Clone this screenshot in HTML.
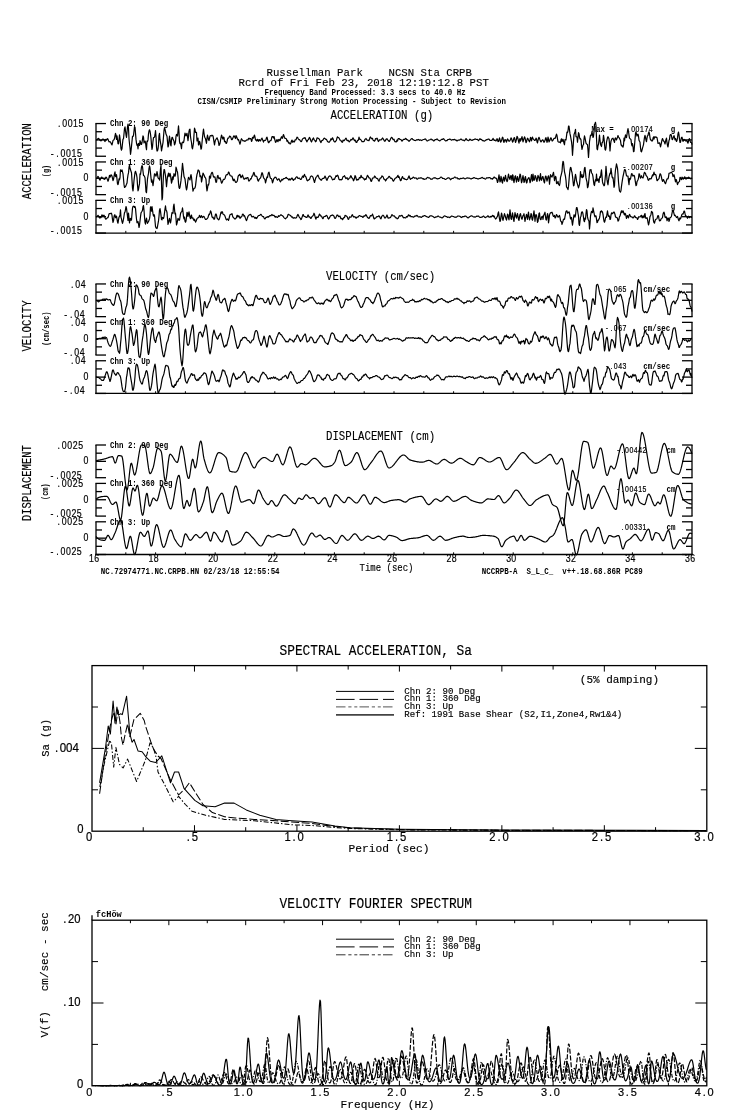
<!DOCTYPE html>
<html><head><meta charset="utf-8"><title>Russellman Park CRPB</title>
<style>
html,body{margin:0;padding:0;background:#fff;}
body{width:739px;height:1115px;overflow:hidden;}
svg{display:block;font-family:'Liberation Mono', 'DejaVu Sans Mono', monospace;}
text{white-space:pre;}
</style></head>
<body>
<svg width="739" height="1115" viewBox="0 0 739 1115">
<rect width="739" height="1115" fill="#fff"/>
<text x="266.50" y="76.00" font-size="11.68" textLength="205.44" lengthAdjust="spacingAndGlyphs" stroke="#000" stroke-width="0.12">Russellman Park    NCSN Sta CRPB</text>
<text x="238.50" y="85.80" font-size="11.68" textLength="250.38" lengthAdjust="spacingAndGlyphs" stroke="#000" stroke-width="0.12">Rcrd of Fri Feb 23, 2018 12:19:12.8 PST</text>
<text x="264.50" y="94.50" font-size="8.50" font-weight="bold" textLength="201.15" lengthAdjust="spacingAndGlyphs">Frequency Band Processed: 3.3 secs to 40.0 Hz</text>
<text x="197.50" y="103.50" font-size="8.50" font-weight="bold" textLength="308.43" lengthAdjust="spacingAndGlyphs">CISN/CSMIP Preliminary Strong Motion Processing - Subject to Revision</text>
<text x="330.50" y="118.50" font-size="12.29" textLength="102.72" lengthAdjust="spacingAndGlyphs" stroke="#000" stroke-width="0.12">ACCELERATION (g)</text>
<text x="31.30" y="199.20" font-size="12.14" textLength="76.15" lengthAdjust="spacingAndGlyphs" transform="rotate(-90 31.30 199.20)" stroke="#000" stroke-width="0.15">ACCELERATION</text>
<text x="48.60" y="177.20" font-size="8.65" font-weight="bold" textLength="12.31" lengthAdjust="spacingAndGlyphs" transform="rotate(-90 48.60 177.20)">(g)</text>
<line x1="96.00" y1="123.55" x2="96.00" y2="156.25" stroke="#000" stroke-width="1.3"/>
<line x1="95.40" y1="123.55" x2="106.00" y2="123.55" stroke="#000" stroke-width="1.3"/>
<line x1="95.40" y1="156.25" x2="106.00" y2="156.25" stroke="#000" stroke-width="1.3"/>
<line x1="96.00" y1="139.90" x2="106.00" y2="139.90" stroke="#000" stroke-width="1.3"/>
<line x1="96.00" y1="131.72" x2="102.00" y2="131.72" stroke="#000" stroke-width="1.3"/>
<line x1="96.00" y1="148.07" x2="102.00" y2="148.07" stroke="#000" stroke-width="1.3"/>
<line x1="692.00" y1="123.55" x2="692.00" y2="156.25" stroke="#000" stroke-width="1.3"/>
<line x1="692.60" y1="123.55" x2="682.00" y2="123.55" stroke="#000" stroke-width="1.3"/>
<line x1="692.60" y1="156.25" x2="682.00" y2="156.25" stroke="#000" stroke-width="1.3"/>
<line x1="692.00" y1="139.90" x2="682.00" y2="139.90" stroke="#000" stroke-width="1.3"/>
<line x1="692.00" y1="131.72" x2="686.00" y2="131.72" stroke="#000" stroke-width="1.3"/>
<line x1="692.00" y1="148.07" x2="686.00" y2="148.07" stroke="#000" stroke-width="1.3"/>
<text x="70.70 75.85 82.50 89.15 95.79" y="127.20" font-size="10.73" font-family="&apos;Liberation Sans&apos;, &apos;DejaVu Sans&apos;, sans-serif" transform="scale(0.82 1)" stroke="#000" stroke-width="0.2">.0015</text>
<text x="101.89" y="142.80" font-size="10.73" font-family="&apos;Liberation Sans&apos;, &apos;DejaVu Sans&apos;, sans-serif" transform="scale(0.82 1)" stroke="#000" stroke-width="0.2">0</text>
<text x="61.81 68.75 73.90 80.55 87.20 93.84" y="157.20" font-size="10.73" font-family="&apos;Liberation Sans&apos;, &apos;DejaVu Sans&apos;, sans-serif" transform="scale(0.82 1)" stroke="#000" stroke-width="0.2">-.0015</text>
<text x="110.00" y="126.45" font-size="8.50" font-weight="bold" textLength="58.11" lengthAdjust="spacingAndGlyphs">Chn 2: 90 Deg</text>
<text x="591.50" y="131.95" font-size="8.50" font-weight="bold" textLength="22.35" lengthAdjust="spacingAndGlyphs">Max =</text>
<text x="765.60 769.79 775.16 780.52 785.89 791.26" y="131.95" font-size="8.47" font-family="&apos;Liberation Sans&apos;, &apos;DejaVu Sans&apos;, sans-serif" transform="scale(0.82 1)" stroke="#000" stroke-width="0.2">.00174</text>
<text x="670.80" y="131.95" font-size="8.50" font-weight="bold" textLength="4.47" lengthAdjust="spacingAndGlyphs">g</text>
<line x1="96.00" y1="161.95" x2="96.00" y2="194.65" stroke="#000" stroke-width="1.3"/>
<line x1="95.40" y1="161.95" x2="106.00" y2="161.95" stroke="#000" stroke-width="1.3"/>
<line x1="95.40" y1="194.65" x2="106.00" y2="194.65" stroke="#000" stroke-width="1.3"/>
<line x1="96.00" y1="178.30" x2="106.00" y2="178.30" stroke="#000" stroke-width="1.3"/>
<line x1="96.00" y1="170.12" x2="102.00" y2="170.12" stroke="#000" stroke-width="1.3"/>
<line x1="96.00" y1="186.47" x2="102.00" y2="186.47" stroke="#000" stroke-width="1.3"/>
<line x1="692.00" y1="161.95" x2="692.00" y2="194.65" stroke="#000" stroke-width="1.3"/>
<line x1="692.60" y1="161.95" x2="682.00" y2="161.95" stroke="#000" stroke-width="1.3"/>
<line x1="692.60" y1="194.65" x2="682.00" y2="194.65" stroke="#000" stroke-width="1.3"/>
<line x1="692.00" y1="178.30" x2="682.00" y2="178.30" stroke="#000" stroke-width="1.3"/>
<line x1="692.00" y1="170.12" x2="686.00" y2="170.12" stroke="#000" stroke-width="1.3"/>
<line x1="692.00" y1="186.47" x2="686.00" y2="186.47" stroke="#000" stroke-width="1.3"/>
<text x="70.70 75.85 82.50 89.15 95.79" y="165.60" font-size="10.73" font-family="&apos;Liberation Sans&apos;, &apos;DejaVu Sans&apos;, sans-serif" transform="scale(0.82 1)" stroke="#000" stroke-width="0.2">.0015</text>
<text x="101.89" y="181.20" font-size="10.73" font-family="&apos;Liberation Sans&apos;, &apos;DejaVu Sans&apos;, sans-serif" transform="scale(0.82 1)" stroke="#000" stroke-width="0.2">0</text>
<text x="61.81 68.75 73.90 80.55 87.20 93.84" y="195.60" font-size="10.73" font-family="&apos;Liberation Sans&apos;, &apos;DejaVu Sans&apos;, sans-serif" transform="scale(0.82 1)" stroke="#000" stroke-width="0.2">-.0015</text>
<text x="110.00" y="164.85" font-size="8.50" font-weight="bold" textLength="62.58" lengthAdjust="spacingAndGlyphs">Chn 1: 360 Deg</text>
<text x="760.01 765.60 769.79 775.16 780.52 785.89 791.26" y="170.35" font-size="8.47" font-family="&apos;Liberation Sans&apos;, &apos;DejaVu Sans&apos;, sans-serif" transform="scale(0.82 1)" stroke="#000" stroke-width="0.2">-.00207</text>
<text x="670.80" y="170.35" font-size="8.50" font-weight="bold" textLength="4.47" lengthAdjust="spacingAndGlyphs">g</text>
<line x1="96.00" y1="200.35" x2="96.00" y2="233.05" stroke="#000" stroke-width="1.3"/>
<line x1="95.40" y1="200.35" x2="106.00" y2="200.35" stroke="#000" stroke-width="1.3"/>
<line x1="95.40" y1="233.05" x2="106.00" y2="233.05" stroke="#000" stroke-width="1.3"/>
<line x1="96.00" y1="216.70" x2="106.00" y2="216.70" stroke="#000" stroke-width="1.3"/>
<line x1="96.00" y1="208.53" x2="102.00" y2="208.53" stroke="#000" stroke-width="1.3"/>
<line x1="96.00" y1="224.88" x2="102.00" y2="224.88" stroke="#000" stroke-width="1.3"/>
<line x1="692.00" y1="200.35" x2="692.00" y2="233.05" stroke="#000" stroke-width="1.3"/>
<line x1="692.60" y1="200.35" x2="682.00" y2="200.35" stroke="#000" stroke-width="1.3"/>
<line x1="692.60" y1="233.05" x2="682.00" y2="233.05" stroke="#000" stroke-width="1.3"/>
<line x1="692.00" y1="216.70" x2="682.00" y2="216.70" stroke="#000" stroke-width="1.3"/>
<line x1="692.00" y1="208.53" x2="686.00" y2="208.53" stroke="#000" stroke-width="1.3"/>
<line x1="692.00" y1="224.88" x2="686.00" y2="224.88" stroke="#000" stroke-width="1.3"/>
<text x="70.70 75.85 82.50 89.15 95.79" y="204.00" font-size="10.73" font-family="&apos;Liberation Sans&apos;, &apos;DejaVu Sans&apos;, sans-serif" transform="scale(0.82 1)" stroke="#000" stroke-width="0.2">.0015</text>
<text x="101.89" y="219.60" font-size="10.73" font-family="&apos;Liberation Sans&apos;, &apos;DejaVu Sans&apos;, sans-serif" transform="scale(0.82 1)" stroke="#000" stroke-width="0.2">0</text>
<text x="61.81 68.75 73.90 80.55 87.20 93.84" y="234.00" font-size="10.73" font-family="&apos;Liberation Sans&apos;, &apos;DejaVu Sans&apos;, sans-serif" transform="scale(0.82 1)" stroke="#000" stroke-width="0.2">-.0015</text>
<text x="110.00" y="203.25" font-size="8.50" font-weight="bold" textLength="40.23" lengthAdjust="spacingAndGlyphs">Chn 3: Up</text>
<text x="765.60 769.79 775.16 780.52 785.89 791.26" y="208.75" font-size="8.47" font-family="&apos;Liberation Sans&apos;, &apos;DejaVu Sans&apos;, sans-serif" transform="scale(0.82 1)" stroke="#000" stroke-width="0.2">.00136</text>
<text x="670.80" y="208.75" font-size="8.50" font-weight="bold" textLength="4.47" lengthAdjust="spacingAndGlyphs">g</text>
<line x1="95.40" y1="233.05" x2="692.60" y2="233.05" stroke="#000" stroke-width="1.3"/>
<line x1="125.80" y1="233.05" x2="125.80" y2="230.85" stroke="#000" stroke-width="1.0"/>
<line x1="155.60" y1="233.05" x2="155.60" y2="230.85" stroke="#000" stroke-width="1.0"/>
<line x1="185.40" y1="233.05" x2="185.40" y2="230.85" stroke="#000" stroke-width="1.0"/>
<line x1="215.20" y1="233.05" x2="215.20" y2="230.85" stroke="#000" stroke-width="1.0"/>
<line x1="245.00" y1="233.05" x2="245.00" y2="230.85" stroke="#000" stroke-width="1.0"/>
<line x1="274.80" y1="233.05" x2="274.80" y2="230.85" stroke="#000" stroke-width="1.0"/>
<line x1="304.60" y1="233.05" x2="304.60" y2="230.85" stroke="#000" stroke-width="1.0"/>
<line x1="334.40" y1="233.05" x2="334.40" y2="230.85" stroke="#000" stroke-width="1.0"/>
<line x1="364.20" y1="233.05" x2="364.20" y2="230.85" stroke="#000" stroke-width="1.0"/>
<line x1="394.00" y1="233.05" x2="394.00" y2="230.85" stroke="#000" stroke-width="1.0"/>
<line x1="423.80" y1="233.05" x2="423.80" y2="230.85" stroke="#000" stroke-width="1.0"/>
<line x1="453.60" y1="233.05" x2="453.60" y2="230.85" stroke="#000" stroke-width="1.0"/>
<line x1="483.40" y1="233.05" x2="483.40" y2="230.85" stroke="#000" stroke-width="1.0"/>
<line x1="513.20" y1="233.05" x2="513.20" y2="230.85" stroke="#000" stroke-width="1.0"/>
<line x1="543.00" y1="233.05" x2="543.00" y2="230.85" stroke="#000" stroke-width="1.0"/>
<line x1="572.80" y1="233.05" x2="572.80" y2="230.85" stroke="#000" stroke-width="1.0"/>
<line x1="602.60" y1="233.05" x2="602.60" y2="230.85" stroke="#000" stroke-width="1.0"/>
<line x1="632.40" y1="233.05" x2="632.40" y2="230.85" stroke="#000" stroke-width="1.0"/>
<line x1="662.20" y1="233.05" x2="662.20" y2="230.85" stroke="#000" stroke-width="1.0"/>
<text x="326.00" y="280.00" font-size="12.29" textLength="109.14" lengthAdjust="spacingAndGlyphs" stroke="#000" stroke-width="0.12">VELOCITY (cm/sec)</text>
<text x="30.80" y="351.60" font-size="12.14" textLength="51.26" lengthAdjust="spacingAndGlyphs" transform="rotate(-90 30.80 351.60)" stroke="#000" stroke-width="0.15">VELOCITY</text>
<text x="48.60" y="345.90" font-size="8.65" font-weight="bold" textLength="34.53" lengthAdjust="spacingAndGlyphs" transform="rotate(-90 48.60 345.90)">(cm/sec)</text>
<line x1="96.00" y1="283.95" x2="96.00" y2="316.65" stroke="#000" stroke-width="1.3"/>
<line x1="95.40" y1="283.95" x2="106.00" y2="283.95" stroke="#000" stroke-width="1.3"/>
<line x1="95.40" y1="316.65" x2="106.00" y2="316.65" stroke="#000" stroke-width="1.3"/>
<line x1="96.00" y1="300.30" x2="106.00" y2="300.30" stroke="#000" stroke-width="1.3"/>
<line x1="96.00" y1="292.12" x2="102.00" y2="292.12" stroke="#000" stroke-width="1.3"/>
<line x1="96.00" y1="308.47" x2="102.00" y2="308.47" stroke="#000" stroke-width="1.3"/>
<line x1="692.00" y1="283.95" x2="692.00" y2="316.65" stroke="#000" stroke-width="1.3"/>
<line x1="692.60" y1="283.95" x2="682.00" y2="283.95" stroke="#000" stroke-width="1.3"/>
<line x1="692.60" y1="316.65" x2="682.00" y2="316.65" stroke="#000" stroke-width="1.3"/>
<line x1="692.00" y1="300.30" x2="682.00" y2="300.30" stroke="#000" stroke-width="1.3"/>
<line x1="692.00" y1="292.12" x2="686.00" y2="292.12" stroke="#000" stroke-width="1.3"/>
<line x1="692.00" y1="308.47" x2="686.00" y2="308.47" stroke="#000" stroke-width="1.3"/>
<text x="86.55 91.71 98.35" y="287.60" font-size="10.73" font-family="&apos;Liberation Sans&apos;, &apos;DejaVu Sans&apos;, sans-serif" transform="scale(0.82 1)" stroke="#000" stroke-width="0.2">.04</text>
<text x="101.89" y="303.20" font-size="10.73" font-family="&apos;Liberation Sans&apos;, &apos;DejaVu Sans&apos;, sans-serif" transform="scale(0.82 1)" stroke="#000" stroke-width="0.2">0</text>
<text x="78.39 85.33 90.49 97.13" y="317.60" font-size="10.73" font-family="&apos;Liberation Sans&apos;, &apos;DejaVu Sans&apos;, sans-serif" transform="scale(0.82 1)" stroke="#000" stroke-width="0.2">-.04</text>
<text x="110.00" y="286.85" font-size="8.50" font-weight="bold" textLength="58.11" lengthAdjust="spacingAndGlyphs">Chn 2: 90 Deg</text>
<text x="738.79 744.38 748.57 753.94 759.30" y="292.35" font-size="8.47" font-family="&apos;Liberation Sans&apos;, &apos;DejaVu Sans&apos;, sans-serif" transform="scale(0.82 1)" stroke="#000" stroke-width="0.2">-.065</text>
<text x="643.30" y="292.35" font-size="8.50" font-weight="bold" textLength="26.82" lengthAdjust="spacingAndGlyphs">cm/sec</text>
<line x1="96.00" y1="322.35" x2="96.00" y2="355.05" stroke="#000" stroke-width="1.3"/>
<line x1="95.40" y1="322.35" x2="106.00" y2="322.35" stroke="#000" stroke-width="1.3"/>
<line x1="95.40" y1="355.05" x2="106.00" y2="355.05" stroke="#000" stroke-width="1.3"/>
<line x1="96.00" y1="338.70" x2="106.00" y2="338.70" stroke="#000" stroke-width="1.3"/>
<line x1="96.00" y1="330.52" x2="102.00" y2="330.52" stroke="#000" stroke-width="1.3"/>
<line x1="96.00" y1="346.87" x2="102.00" y2="346.87" stroke="#000" stroke-width="1.3"/>
<line x1="692.00" y1="322.35" x2="692.00" y2="355.05" stroke="#000" stroke-width="1.3"/>
<line x1="692.60" y1="322.35" x2="682.00" y2="322.35" stroke="#000" stroke-width="1.3"/>
<line x1="692.60" y1="355.05" x2="682.00" y2="355.05" stroke="#000" stroke-width="1.3"/>
<line x1="692.00" y1="338.70" x2="682.00" y2="338.70" stroke="#000" stroke-width="1.3"/>
<line x1="692.00" y1="330.52" x2="686.00" y2="330.52" stroke="#000" stroke-width="1.3"/>
<line x1="692.00" y1="346.87" x2="686.00" y2="346.87" stroke="#000" stroke-width="1.3"/>
<text x="86.55 91.71 98.35" y="326.00" font-size="10.73" font-family="&apos;Liberation Sans&apos;, &apos;DejaVu Sans&apos;, sans-serif" transform="scale(0.82 1)" stroke="#000" stroke-width="0.2">.04</text>
<text x="101.89" y="341.60" font-size="10.73" font-family="&apos;Liberation Sans&apos;, &apos;DejaVu Sans&apos;, sans-serif" transform="scale(0.82 1)" stroke="#000" stroke-width="0.2">0</text>
<text x="78.39 85.33 90.49 97.13" y="356.00" font-size="10.73" font-family="&apos;Liberation Sans&apos;, &apos;DejaVu Sans&apos;, sans-serif" transform="scale(0.82 1)" stroke="#000" stroke-width="0.2">-.04</text>
<text x="110.00" y="325.25" font-size="8.50" font-weight="bold" textLength="62.58" lengthAdjust="spacingAndGlyphs">Chn 1: 360 Deg</text>
<text x="738.79 744.38 748.57 753.94 759.30" y="330.75" font-size="8.47" font-family="&apos;Liberation Sans&apos;, &apos;DejaVu Sans&apos;, sans-serif" transform="scale(0.82 1)" stroke="#000" stroke-width="0.2">-.067</text>
<text x="643.30" y="330.75" font-size="8.50" font-weight="bold" textLength="26.82" lengthAdjust="spacingAndGlyphs">cm/sec</text>
<line x1="96.00" y1="360.75" x2="96.00" y2="393.45" stroke="#000" stroke-width="1.3"/>
<line x1="95.40" y1="360.75" x2="106.00" y2="360.75" stroke="#000" stroke-width="1.3"/>
<line x1="95.40" y1="393.45" x2="106.00" y2="393.45" stroke="#000" stroke-width="1.3"/>
<line x1="96.00" y1="377.10" x2="106.00" y2="377.10" stroke="#000" stroke-width="1.3"/>
<line x1="96.00" y1="368.93" x2="102.00" y2="368.93" stroke="#000" stroke-width="1.3"/>
<line x1="96.00" y1="385.27" x2="102.00" y2="385.27" stroke="#000" stroke-width="1.3"/>
<line x1="692.00" y1="360.75" x2="692.00" y2="393.45" stroke="#000" stroke-width="1.3"/>
<line x1="692.60" y1="360.75" x2="682.00" y2="360.75" stroke="#000" stroke-width="1.3"/>
<line x1="692.60" y1="393.45" x2="682.00" y2="393.45" stroke="#000" stroke-width="1.3"/>
<line x1="692.00" y1="377.10" x2="682.00" y2="377.10" stroke="#000" stroke-width="1.3"/>
<line x1="692.00" y1="368.93" x2="686.00" y2="368.93" stroke="#000" stroke-width="1.3"/>
<line x1="692.00" y1="385.27" x2="686.00" y2="385.27" stroke="#000" stroke-width="1.3"/>
<text x="86.55 91.71 98.35" y="364.40" font-size="10.73" font-family="&apos;Liberation Sans&apos;, &apos;DejaVu Sans&apos;, sans-serif" transform="scale(0.82 1)" stroke="#000" stroke-width="0.2">.04</text>
<text x="101.89" y="380.00" font-size="10.73" font-family="&apos;Liberation Sans&apos;, &apos;DejaVu Sans&apos;, sans-serif" transform="scale(0.82 1)" stroke="#000" stroke-width="0.2">0</text>
<text x="78.39 85.33 90.49 97.13" y="394.40" font-size="10.73" font-family="&apos;Liberation Sans&apos;, &apos;DejaVu Sans&apos;, sans-serif" transform="scale(0.82 1)" stroke="#000" stroke-width="0.2">-.04</text>
<text x="110.00" y="363.65" font-size="8.50" font-weight="bold" textLength="40.23" lengthAdjust="spacingAndGlyphs">Chn 3: Up</text>
<text x="738.79 744.38 748.57 753.94 759.30" y="369.15" font-size="8.47" font-family="&apos;Liberation Sans&apos;, &apos;DejaVu Sans&apos;, sans-serif" transform="scale(0.82 1)" stroke="#000" stroke-width="0.2">-.043</text>
<text x="643.30" y="369.15" font-size="8.50" font-weight="bold" textLength="26.82" lengthAdjust="spacingAndGlyphs">cm/sec</text>
<line x1="95.40" y1="393.45" x2="692.60" y2="393.45" stroke="#000" stroke-width="1.3"/>
<line x1="125.80" y1="393.45" x2="125.80" y2="391.25" stroke="#000" stroke-width="1.0"/>
<line x1="155.60" y1="393.45" x2="155.60" y2="391.25" stroke="#000" stroke-width="1.0"/>
<line x1="185.40" y1="393.45" x2="185.40" y2="391.25" stroke="#000" stroke-width="1.0"/>
<line x1="215.20" y1="393.45" x2="215.20" y2="391.25" stroke="#000" stroke-width="1.0"/>
<line x1="245.00" y1="393.45" x2="245.00" y2="391.25" stroke="#000" stroke-width="1.0"/>
<line x1="274.80" y1="393.45" x2="274.80" y2="391.25" stroke="#000" stroke-width="1.0"/>
<line x1="304.60" y1="393.45" x2="304.60" y2="391.25" stroke="#000" stroke-width="1.0"/>
<line x1="334.40" y1="393.45" x2="334.40" y2="391.25" stroke="#000" stroke-width="1.0"/>
<line x1="364.20" y1="393.45" x2="364.20" y2="391.25" stroke="#000" stroke-width="1.0"/>
<line x1="394.00" y1="393.45" x2="394.00" y2="391.25" stroke="#000" stroke-width="1.0"/>
<line x1="423.80" y1="393.45" x2="423.80" y2="391.25" stroke="#000" stroke-width="1.0"/>
<line x1="453.60" y1="393.45" x2="453.60" y2="391.25" stroke="#000" stroke-width="1.0"/>
<line x1="483.40" y1="393.45" x2="483.40" y2="391.25" stroke="#000" stroke-width="1.0"/>
<line x1="513.20" y1="393.45" x2="513.20" y2="391.25" stroke="#000" stroke-width="1.0"/>
<line x1="543.00" y1="393.45" x2="543.00" y2="391.25" stroke="#000" stroke-width="1.0"/>
<line x1="572.80" y1="393.45" x2="572.80" y2="391.25" stroke="#000" stroke-width="1.0"/>
<line x1="602.60" y1="393.45" x2="602.60" y2="391.25" stroke="#000" stroke-width="1.0"/>
<line x1="632.40" y1="393.45" x2="632.40" y2="391.25" stroke="#000" stroke-width="1.0"/>
<line x1="662.20" y1="393.45" x2="662.20" y2="391.25" stroke="#000" stroke-width="1.0"/>
<text x="326.00" y="440.40" font-size="12.29" textLength="109.14" lengthAdjust="spacingAndGlyphs" stroke="#000" stroke-width="0.12">DISPLACEMENT (cm)</text>
<text x="30.80" y="521.10" font-size="12.14" textLength="76.05" lengthAdjust="spacingAndGlyphs" transform="rotate(-90 30.80 521.10)" stroke="#000" stroke-width="0.15">DISPLACEMENT</text>
<text x="48.40" y="500.00" font-size="8.65" font-weight="bold" textLength="16.62" lengthAdjust="spacingAndGlyphs" transform="rotate(-90 48.40 500.00)">(cm)</text>
<line x1="96.00" y1="445.00" x2="96.00" y2="477.70" stroke="#000" stroke-width="1.3"/>
<line x1="95.40" y1="445.00" x2="106.00" y2="445.00" stroke="#000" stroke-width="1.3"/>
<line x1="95.40" y1="477.70" x2="106.00" y2="477.70" stroke="#000" stroke-width="1.3"/>
<line x1="96.00" y1="461.35" x2="106.00" y2="461.35" stroke="#000" stroke-width="1.3"/>
<line x1="96.00" y1="453.18" x2="102.00" y2="453.18" stroke="#000" stroke-width="1.3"/>
<line x1="96.00" y1="469.52" x2="102.00" y2="469.52" stroke="#000" stroke-width="1.3"/>
<line x1="692.00" y1="445.00" x2="692.00" y2="477.70" stroke="#000" stroke-width="1.3"/>
<line x1="692.60" y1="445.00" x2="682.00" y2="445.00" stroke="#000" stroke-width="1.3"/>
<line x1="692.60" y1="477.70" x2="682.00" y2="477.70" stroke="#000" stroke-width="1.3"/>
<line x1="692.00" y1="461.35" x2="682.00" y2="461.35" stroke="#000" stroke-width="1.3"/>
<line x1="692.00" y1="453.18" x2="686.00" y2="453.18" stroke="#000" stroke-width="1.3"/>
<line x1="692.00" y1="469.52" x2="686.00" y2="469.52" stroke="#000" stroke-width="1.3"/>
<text x="70.21 75.37 82.01 88.66 95.31" y="448.65" font-size="10.73" font-family="&apos;Liberation Sans&apos;, &apos;DejaVu Sans&apos;, sans-serif" transform="scale(0.82 1)" stroke="#000" stroke-width="0.2">.0025</text>
<text x="101.89" y="464.25" font-size="10.73" font-family="&apos;Liberation Sans&apos;, &apos;DejaVu Sans&apos;, sans-serif" transform="scale(0.82 1)" stroke="#000" stroke-width="0.2">0</text>
<text x="61.69 68.63 73.78 80.43 87.07 93.72" y="478.65" font-size="10.73" font-family="&apos;Liberation Sans&apos;, &apos;DejaVu Sans&apos;, sans-serif" transform="scale(0.82 1)" stroke="#000" stroke-width="0.2">-.0025</text>
<text x="110.00" y="447.90" font-size="8.50" font-weight="bold" textLength="58.11" lengthAdjust="spacingAndGlyphs">Chn 2: 90 Deg</text>
<text x="752.44 758.04 762.23 767.60 772.96 778.33 783.69" y="453.40" font-size="8.47" font-family="&apos;Liberation Sans&apos;, &apos;DejaVu Sans&apos;, sans-serif" transform="scale(0.82 1)" stroke="#000" stroke-width="0.2">-.00442</text>
<text x="666.50" y="453.40" font-size="8.50" font-weight="bold" textLength="8.94" lengthAdjust="spacingAndGlyphs">cm</text>
<line x1="96.00" y1="483.40" x2="96.00" y2="516.10" stroke="#000" stroke-width="1.3"/>
<line x1="95.40" y1="483.40" x2="106.00" y2="483.40" stroke="#000" stroke-width="1.3"/>
<line x1="95.40" y1="516.10" x2="106.00" y2="516.10" stroke="#000" stroke-width="1.3"/>
<line x1="96.00" y1="499.75" x2="106.00" y2="499.75" stroke="#000" stroke-width="1.3"/>
<line x1="96.00" y1="491.57" x2="102.00" y2="491.57" stroke="#000" stroke-width="1.3"/>
<line x1="96.00" y1="507.92" x2="102.00" y2="507.92" stroke="#000" stroke-width="1.3"/>
<line x1="692.00" y1="483.40" x2="692.00" y2="516.10" stroke="#000" stroke-width="1.3"/>
<line x1="692.60" y1="483.40" x2="682.00" y2="483.40" stroke="#000" stroke-width="1.3"/>
<line x1="692.60" y1="516.10" x2="682.00" y2="516.10" stroke="#000" stroke-width="1.3"/>
<line x1="692.00" y1="499.75" x2="682.00" y2="499.75" stroke="#000" stroke-width="1.3"/>
<line x1="692.00" y1="491.57" x2="686.00" y2="491.57" stroke="#000" stroke-width="1.3"/>
<line x1="692.00" y1="507.92" x2="686.00" y2="507.92" stroke="#000" stroke-width="1.3"/>
<text x="70.21 75.37 82.01 88.66 95.31" y="487.05" font-size="10.73" font-family="&apos;Liberation Sans&apos;, &apos;DejaVu Sans&apos;, sans-serif" transform="scale(0.82 1)" stroke="#000" stroke-width="0.2">.0025</text>
<text x="101.89" y="502.65" font-size="10.73" font-family="&apos;Liberation Sans&apos;, &apos;DejaVu Sans&apos;, sans-serif" transform="scale(0.82 1)" stroke="#000" stroke-width="0.2">0</text>
<text x="61.69 68.63 73.78 80.43 87.07 93.72" y="517.05" font-size="10.73" font-family="&apos;Liberation Sans&apos;, &apos;DejaVu Sans&apos;, sans-serif" transform="scale(0.82 1)" stroke="#000" stroke-width="0.2">-.0025</text>
<text x="110.00" y="486.30" font-size="8.50" font-weight="bold" textLength="62.58" lengthAdjust="spacingAndGlyphs">Chn 1: 360 Deg</text>
<text x="752.44 758.04 762.23 767.60 772.96 778.33 783.69" y="491.80" font-size="8.47" font-family="&apos;Liberation Sans&apos;, &apos;DejaVu Sans&apos;, sans-serif" transform="scale(0.82 1)" stroke="#000" stroke-width="0.2">-.00415</text>
<text x="666.50" y="491.80" font-size="8.50" font-weight="bold" textLength="8.94" lengthAdjust="spacingAndGlyphs">cm</text>
<line x1="96.00" y1="521.80" x2="96.00" y2="554.50" stroke="#000" stroke-width="1.3"/>
<line x1="95.40" y1="521.80" x2="106.00" y2="521.80" stroke="#000" stroke-width="1.3"/>
<line x1="95.40" y1="554.50" x2="106.00" y2="554.50" stroke="#000" stroke-width="1.3"/>
<line x1="96.00" y1="538.15" x2="106.00" y2="538.15" stroke="#000" stroke-width="1.3"/>
<line x1="96.00" y1="529.97" x2="102.00" y2="529.97" stroke="#000" stroke-width="1.3"/>
<line x1="96.00" y1="546.32" x2="102.00" y2="546.32" stroke="#000" stroke-width="1.3"/>
<line x1="692.00" y1="521.80" x2="692.00" y2="554.50" stroke="#000" stroke-width="1.3"/>
<line x1="692.60" y1="521.80" x2="682.00" y2="521.80" stroke="#000" stroke-width="1.3"/>
<line x1="692.60" y1="554.50" x2="682.00" y2="554.50" stroke="#000" stroke-width="1.3"/>
<line x1="692.00" y1="538.15" x2="682.00" y2="538.15" stroke="#000" stroke-width="1.3"/>
<line x1="692.00" y1="529.97" x2="686.00" y2="529.97" stroke="#000" stroke-width="1.3"/>
<line x1="692.00" y1="546.32" x2="686.00" y2="546.32" stroke="#000" stroke-width="1.3"/>
<text x="70.21 75.37 82.01 88.66 95.31" y="525.45" font-size="10.73" font-family="&apos;Liberation Sans&apos;, &apos;DejaVu Sans&apos;, sans-serif" transform="scale(0.82 1)" stroke="#000" stroke-width="0.2">.0025</text>
<text x="101.89" y="541.05" font-size="10.73" font-family="&apos;Liberation Sans&apos;, &apos;DejaVu Sans&apos;, sans-serif" transform="scale(0.82 1)" stroke="#000" stroke-width="0.2">0</text>
<text x="61.69 68.63 73.78 80.43 87.07 93.72" y="555.45" font-size="10.73" font-family="&apos;Liberation Sans&apos;, &apos;DejaVu Sans&apos;, sans-serif" transform="scale(0.82 1)" stroke="#000" stroke-width="0.2">-.0025</text>
<text x="110.00" y="524.70" font-size="8.50" font-weight="bold" textLength="40.23" lengthAdjust="spacingAndGlyphs">Chn 3: Up</text>
<text x="758.04 762.23 767.60 772.96 778.33 783.69" y="530.20" font-size="8.47" font-family="&apos;Liberation Sans&apos;, &apos;DejaVu Sans&apos;, sans-serif" transform="scale(0.82 1)" stroke="#000" stroke-width="0.2">.00331</text>
<text x="666.50" y="530.20" font-size="8.50" font-weight="bold" textLength="8.94" lengthAdjust="spacingAndGlyphs">cm</text>
<line x1="95.40" y1="554.50" x2="692.60" y2="554.50" stroke="#000" stroke-width="1.3"/>
<line x1="125.80" y1="554.50" x2="125.80" y2="552.30" stroke="#000" stroke-width="1.0"/>
<line x1="155.60" y1="554.50" x2="155.60" y2="552.30" stroke="#000" stroke-width="1.0"/>
<line x1="185.40" y1="554.50" x2="185.40" y2="552.30" stroke="#000" stroke-width="1.0"/>
<line x1="215.20" y1="554.50" x2="215.20" y2="552.30" stroke="#000" stroke-width="1.0"/>
<line x1="245.00" y1="554.50" x2="245.00" y2="552.30" stroke="#000" stroke-width="1.0"/>
<line x1="274.80" y1="554.50" x2="274.80" y2="552.30" stroke="#000" stroke-width="1.0"/>
<line x1="304.60" y1="554.50" x2="304.60" y2="552.30" stroke="#000" stroke-width="1.0"/>
<line x1="334.40" y1="554.50" x2="334.40" y2="552.30" stroke="#000" stroke-width="1.0"/>
<line x1="364.20" y1="554.50" x2="364.20" y2="552.30" stroke="#000" stroke-width="1.0"/>
<line x1="394.00" y1="554.50" x2="394.00" y2="552.30" stroke="#000" stroke-width="1.0"/>
<line x1="423.80" y1="554.50" x2="423.80" y2="552.30" stroke="#000" stroke-width="1.0"/>
<line x1="453.60" y1="554.50" x2="453.60" y2="552.30" stroke="#000" stroke-width="1.0"/>
<line x1="483.40" y1="554.50" x2="483.40" y2="552.30" stroke="#000" stroke-width="1.0"/>
<line x1="513.20" y1="554.50" x2="513.20" y2="552.30" stroke="#000" stroke-width="1.0"/>
<line x1="543.00" y1="554.50" x2="543.00" y2="552.30" stroke="#000" stroke-width="1.0"/>
<line x1="572.80" y1="554.50" x2="572.80" y2="552.30" stroke="#000" stroke-width="1.0"/>
<line x1="602.60" y1="554.50" x2="602.60" y2="552.30" stroke="#000" stroke-width="1.0"/>
<line x1="632.40" y1="554.50" x2="632.40" y2="552.30" stroke="#000" stroke-width="1.0"/>
<line x1="662.20" y1="554.50" x2="662.20" y2="552.30" stroke="#000" stroke-width="1.0"/>
<text x="108.48 114.82" y="562.50" font-size="10.73" font-family="&apos;Liberation Sans&apos;, &apos;DejaVu Sans&apos;, sans-serif" transform="scale(0.82 1)" stroke="#000" stroke-width="0.2">16</text>
<text x="181.16 187.50" y="562.50" font-size="10.73" font-family="&apos;Liberation Sans&apos;, &apos;DejaVu Sans&apos;, sans-serif" transform="scale(0.82 1)" stroke="#000" stroke-width="0.2">18</text>
<text x="253.85 260.19" y="562.50" font-size="10.73" font-family="&apos;Liberation Sans&apos;, &apos;DejaVu Sans&apos;, sans-serif" transform="scale(0.82 1)" stroke="#000" stroke-width="0.2">20</text>
<text x="326.53 332.87" y="562.50" font-size="10.73" font-family="&apos;Liberation Sans&apos;, &apos;DejaVu Sans&apos;, sans-serif" transform="scale(0.82 1)" stroke="#000" stroke-width="0.2">22</text>
<text x="399.21 405.55" y="562.50" font-size="10.73" font-family="&apos;Liberation Sans&apos;, &apos;DejaVu Sans&apos;, sans-serif" transform="scale(0.82 1)" stroke="#000" stroke-width="0.2">24</text>
<text x="471.89 478.24" y="562.50" font-size="10.73" font-family="&apos;Liberation Sans&apos;, &apos;DejaVu Sans&apos;, sans-serif" transform="scale(0.82 1)" stroke="#000" stroke-width="0.2">26</text>
<text x="544.58 550.92" y="562.50" font-size="10.73" font-family="&apos;Liberation Sans&apos;, &apos;DejaVu Sans&apos;, sans-serif" transform="scale(0.82 1)" stroke="#000" stroke-width="0.2">28</text>
<text x="617.26 623.60" y="562.50" font-size="10.73" font-family="&apos;Liberation Sans&apos;, &apos;DejaVu Sans&apos;, sans-serif" transform="scale(0.82 1)" stroke="#000" stroke-width="0.2">30</text>
<text x="689.94 696.28" y="562.50" font-size="10.73" font-family="&apos;Liberation Sans&apos;, &apos;DejaVu Sans&apos;, sans-serif" transform="scale(0.82 1)" stroke="#000" stroke-width="0.2">32</text>
<text x="762.63 768.97" y="562.50" font-size="10.73" font-family="&apos;Liberation Sans&apos;, &apos;DejaVu Sans&apos;, sans-serif" transform="scale(0.82 1)" stroke="#000" stroke-width="0.2">34</text>
<text x="835.31 841.65" y="562.50" font-size="10.73" font-family="&apos;Liberation Sans&apos;, &apos;DejaVu Sans&apos;, sans-serif" transform="scale(0.82 1)" stroke="#000" stroke-width="0.2">36</text>
<text x="359.50" y="571.00" font-size="11.23" textLength="54.00" lengthAdjust="spacingAndGlyphs" stroke="#000" stroke-width="0.15">Time (sec)</text>
<text x="100.80" y="573.50" font-size="8.50" font-weight="bold" textLength="178.80" lengthAdjust="spacingAndGlyphs">NC.72974771.NC.CRPB.HN 02/23/18 12:55:54</text>
<text x="481.80" y="573.50" font-size="8.50" font-weight="bold" textLength="160.92" lengthAdjust="spacingAndGlyphs">NCCRPB-A  S_L_C_  v++.18.68.86R PC89</text>
<polyline points="96.0,139.7 96.5,139.9 97.0,139.8 97.5,139.2 98.0,138.6 98.5,138.4 99.0,138.7 99.5,139.8 100.0,140.2 100.5,140.6 101.0,140.9 101.5,140.3 102.0,139.9 102.5,139.5 103.0,139.0 103.5,139.4 104.0,139.8 104.5,140.8 105.0,141.5 105.5,139.5 106.0,139.4 106.5,140.2 107.0,139.2 107.5,138.6 108.0,139.1 108.5,140.6 109.0,141.9 109.5,141.8 110.0,141.6 110.5,142.1 111.0,143.1 111.5,144.2 112.0,144.9 112.5,142.9 113.0,140.5 113.5,140.1 114.0,139.8 114.5,138.6 115.0,135.8 115.5,133.4 116.0,135.0 116.5,139.4 117.0,135.9 117.5,139.7 118.0,143.7 118.5,143.9 119.0,140.0 119.5,134.9 120.0,138.3 120.5,143.4 121.0,148.6 121.5,150.2 122.0,148.5 122.5,143.5 123.0,139.1 123.5,138.7 124.0,133.8 124.5,128.6 125.0,126.8 125.5,130.8 126.0,134.8 126.5,137.5 127.0,132.7 127.5,126.8 128.0,124.0 128.5,128.3 129.0,138.8 129.5,143.7 130.0,147.7 130.5,154.3 131.0,151.0 131.5,146.1 132.0,141.3 132.5,136.4 133.0,136.5 133.5,135.4 134.0,131.0 134.5,126.7 135.0,127.3 135.5,133.1 136.0,139.4 136.5,143.1 137.0,145.5 137.5,144.4 138.0,148.8 138.5,143.4 139.0,144.4 139.5,145.4 140.0,140.6 140.5,142.0 141.0,144.4 141.5,144.5 142.0,142.5 142.5,139.2 143.0,135.9 143.5,137.1 144.0,142.9 144.5,142.0 145.0,141.1 145.5,142.2 146.0,146.8 146.5,149.7 147.0,141.2 147.5,141.5 148.0,139.9 148.5,133.9 149.0,131.0 149.5,129.8 150.0,131.1 150.5,134.1 151.0,138.4 151.5,144.6 152.0,149.4 152.5,146.8 153.0,141.3 153.5,137.5 154.0,137.4 154.5,137.2 155.0,134.7 155.5,130.6 156.0,136.6 156.5,147.0 157.0,150.9 157.5,150.8 158.0,148.8 158.5,144.9 159.0,135.6 159.5,133.3 160.0,139.7 160.5,142.6 161.0,145.6 161.5,151.0 162.0,148.2 162.5,145.4 163.0,142.6 163.5,136.7 164.0,130.5 164.5,127.5 165.0,129.3 165.5,131.4 166.0,134.1 166.5,135.2 167.0,136.3 167.5,141.6 168.0,147.0 168.5,145.8 169.0,140.3 169.5,136.2 170.0,139.8 170.5,144.5 171.0,145.9 171.5,139.9 172.0,137.3 172.5,137.3 173.0,139.3 173.5,140.2 174.0,141.2 174.5,144.8 175.0,144.0 175.5,141.6 176.0,136.4 176.5,134.3 177.0,135.1 177.5,136.0 178.0,131.2 178.5,125.8 179.0,132.4 179.5,141.6 180.0,143.7 180.5,143.1 181.0,145.6 181.5,148.6 182.0,143.1 182.5,142.1 183.0,142.6 183.5,142.6 184.0,140.5 184.5,136.4 185.0,133.2 185.5,134.5 186.0,135.8 186.5,134.2 187.0,133.3 187.5,136.9 188.0,140.6 188.5,136.5 189.0,131.3 189.5,129.4 190.0,129.2 190.5,136.7 191.0,140.0 191.5,142.5 192.0,147.5 192.5,148.9 193.0,146.0 193.5,142.9 194.0,134.9 194.5,128.2 195.0,129.5 195.5,132.3 196.0,132.2 196.5,132.5 197.0,141.0 197.5,139.5 198.0,138.0 198.5,144.9 199.0,144.0 199.5,141.3 200.0,142.8 200.5,146.0 201.0,149.1 201.5,148.2 202.0,142.8 202.5,137.5 203.0,132.8 203.5,129.2 204.0,133.0 204.5,136.5 205.0,137.7 205.5,138.8 206.0,141.0 206.5,143.3 207.0,138.1 207.5,135.2 208.0,137.5 208.5,139.7 209.0,140.5 209.5,138.3 210.0,136.2 210.5,135.6 211.0,135.8 211.5,135.8 212.0,135.2 212.5,135.5 213.0,135.9 213.5,138.7 214.0,141.8 214.5,144.8 215.0,141.8 215.5,139.9 216.0,139.3 216.5,138.5 217.0,137.8 217.5,139.0 218.0,140.3 218.5,142.2 219.0,145.4 219.5,144.8 220.0,143.3 220.5,140.5 221.0,137.6 221.5,135.0 222.0,136.3 222.5,138.3 223.0,139.1 223.5,137.1 224.0,137.4 224.5,141.6 225.0,141.4 225.5,141.3 226.0,143.3 226.5,143.3 227.0,141.9 227.5,139.2 228.0,138.0 228.5,138.1 229.0,137.6 229.5,136.1 230.0,136.3 230.5,136.5 231.0,137.8 231.5,139.6 232.0,139.6 232.5,139.0 233.0,137.8 233.5,136.6 234.0,135.7 234.5,136.6 235.0,137.5 235.5,138.5 236.0,135.7 236.5,136.4 237.0,137.8 237.5,139.2 238.0,140.0 238.5,139.5 239.0,141.1 239.5,142.6 240.0,144.2 240.5,142.4 241.0,139.9 241.5,138.7 242.0,139.5 242.5,140.3 243.0,140.9 243.5,140.8 244.0,140.6 244.5,141.2 245.0,141.3 245.5,141.0 246.0,140.5 246.5,140.1 247.0,139.9 247.5,140.0 248.0,140.0 248.5,138.5 249.0,138.1 249.5,139.0 250.0,138.9 250.5,138.5 251.0,138.9 251.5,141.4 252.0,140.6 252.5,137.3 253.0,137.7 253.5,138.1 254.0,136.0 254.5,135.1 255.0,137.1 255.5,140.0 256.0,139.7 256.5,141.0 257.0,140.9 257.5,139.3 258.0,140.3 258.5,141.3 259.0,139.7 259.5,139.7 260.0,140.7 260.5,140.9 261.0,139.8 261.5,138.8 262.0,138.1 262.5,139.4 263.0,140.8 263.5,142.1 264.0,140.5 264.5,140.4 265.0,140.3 265.5,140.3 266.0,139.5 266.5,137.6 267.0,137.1 267.5,139.1 268.0,141.6 268.5,142.7 269.0,142.6 269.5,141.3 270.0,140.8 270.5,140.7 271.0,140.6 271.5,138.7 272.0,136.6 272.5,136.6 273.0,136.8 273.5,137.9 274.0,136.5 274.5,138.5 275.0,140.4 275.5,142.3 276.0,142.0 276.5,140.6 277.0,139.5 277.5,141.1 278.0,141.7 278.5,139.9 279.0,139.3 279.5,140.3 280.0,140.7 280.5,139.3 281.0,137.9 281.5,136.7 282.0,138.0 282.5,138.3 283.0,136.0 283.5,134.5 284.0,135.9 284.5,137.4 285.0,138.4 285.5,138.4 286.0,138.5 286.5,139.2 287.0,141.3 287.5,140.5 288.0,141.4 288.5,143.1 289.0,142.6 289.5,143.0 290.0,144.0 290.5,143.9 291.0,142.5 291.5,140.8 292.0,140.1 292.5,142.2 293.0,141.0 293.5,141.4 294.0,142.0 294.5,141.9 295.0,139.9 295.5,139.9 296.0,139.8 296.5,138.5 297.0,137.2 297.5,137.4 298.0,138.3 298.5,139.1 299.0,139.7 299.5,139.6 300.0,140.3 300.5,141.1 301.0,141.6 301.5,141.4 302.0,140.2 302.5,139.0 303.0,138.6 303.5,138.2 304.0,137.9 304.5,138.1 305.0,137.6 305.5,138.7 306.0,139.9 306.5,141.1 307.0,141.8 307.5,140.2 308.0,139.9 308.5,139.5 309.0,138.1 309.5,137.5 310.0,138.2 310.5,139.7 311.0,141.1 311.5,141.9 312.0,140.7 312.5,139.3 313.0,138.7 313.5,137.9 314.0,139.5 314.5,140.1 315.0,140.5 315.5,141.8 316.0,141.5 316.5,140.1 317.0,137.9 317.5,137.9 318.0,138.2 318.5,138.4 319.0,138.7 319.5,139.6 320.0,140.7 320.5,141.9 321.0,142.6 321.5,141.1 322.0,140.5 322.5,140.4 323.0,140.1 323.5,139.1 324.0,138.3 324.5,138.2 325.0,138.5 325.5,139.2 326.0,139.3 326.5,139.4 327.0,140.4 327.5,141.5 328.0,141.9 328.5,142.1 329.0,142.1 329.5,142.1 330.0,141.1 330.5,139.9 331.0,138.7 331.5,139.8 332.0,139.2 332.5,137.8 333.0,138.8 333.5,140.1 334.0,141.4 334.5,141.9 335.0,142.0 335.5,141.4 336.0,140.9 336.5,139.9 337.0,138.0 337.5,136.8 338.0,137.5 338.5,137.6 339.0,137.9 339.5,139.0 340.0,140.1 340.5,140.3 341.0,140.5 341.5,141.7 342.0,142.0 342.5,142.3 343.0,140.2 343.5,140.3 344.0,140.7 344.5,140.3 345.0,139.5 345.5,138.7 346.0,138.1 346.5,139.3 347.0,140.4 347.5,140.7 348.0,140.3 348.5,140.7 349.0,141.7 349.5,141.8 350.0,141.0 350.5,140.2 351.0,139.4 351.5,139.9 352.0,139.7 352.5,138.7 353.0,137.8 353.5,138.7 354.0,139.7 354.5,140.7 355.0,140.0 355.5,140.7 356.0,142.2 356.5,142.5 357.0,142.0 357.5,140.4 358.0,140.5 358.5,139.8 359.0,137.2 359.5,138.8 360.0,139.5 360.5,139.3 361.0,140.0 361.5,140.8 362.0,141.6 362.5,141.7 363.0,141.4 363.5,141.7 364.0,141.4 364.5,140.4 365.0,139.2 365.5,138.9 366.0,138.5 366.5,139.4 367.0,140.0 367.5,140.3 368.0,140.6 368.5,140.1 369.0,140.6 369.5,139.4 370.0,137.4 370.5,137.0 371.0,137.8 371.5,138.7 372.0,138.7 372.5,138.3 373.0,140.0 373.5,140.7 374.0,140.6 374.5,141.2 375.0,140.7 375.5,138.7 376.0,138.8 376.5,138.9 377.0,138.2 377.5,138.8 378.0,140.8 378.5,141.5 379.0,140.7 379.5,139.9 380.0,139.8 380.5,139.9 381.0,140.0 381.5,139.6 382.0,138.7 382.5,138.0 383.0,138.4 383.5,139.4 384.0,140.3 384.5,141.2 385.0,141.2 385.5,140.4 386.0,139.2 386.5,138.9 387.0,138.7 387.5,139.6 388.0,140.2 388.5,140.7 389.0,141.4 389.5,141.3 390.0,140.2 390.5,139.1 391.0,138.0 391.5,137.3 392.0,137.6 392.5,138.6 393.0,139.6 393.5,139.4 394.0,139.2 394.5,140.7 395.0,141.7 395.5,141.6 396.0,142.0 396.5,141.7 397.0,140.0 397.5,141.0 398.0,139.1 398.5,138.5 399.0,138.5 399.5,139.1 400.0,139.4 400.5,139.5 401.0,139.7 401.5,140.4 402.0,141.2 402.5,140.6 403.0,139.9 403.5,139.3 404.0,139.4 404.5,139.4 405.0,139.2 405.5,138.4 406.0,138.5 406.5,139.4 407.0,139.7 407.5,139.8 408.0,140.2 408.5,140.9 409.0,141.3 409.5,140.7 410.0,140.3 410.5,139.9 411.0,139.2 411.5,138.7 412.0,138.5 412.5,139.1 413.0,139.7 413.5,139.8 414.0,140.1 414.5,140.5 415.0,140.5 415.5,140.6 416.0,140.2 416.5,139.9 417.0,139.6 417.5,140.0 418.0,139.7 418.5,139.4 419.0,139.8 419.5,140.3 420.0,140.0 420.5,139.8 421.0,140.3 421.5,140.6 422.0,140.3 422.5,140.0 423.0,139.6 423.5,139.5 424.0,139.5 424.5,139.2 425.0,138.9 425.5,139.0 426.0,139.6 426.5,140.3 427.0,140.9 427.5,141.0 428.0,140.6 428.5,140.3 429.0,140.0 429.5,139.9 430.0,139.7 430.5,139.4 431.0,139.0 431.5,139.2 432.0,139.9 432.5,139.8 433.0,140.2 433.5,141.0 434.0,140.9 434.5,140.3 435.0,139.7 435.5,139.7 436.0,139.7 436.5,139.4 437.0,138.8 437.5,139.3 438.0,140.0 438.5,140.3 439.0,140.4 439.5,140.8 440.0,140.8 440.5,140.4 441.0,139.9 441.5,139.4 442.0,139.4 442.5,139.5 443.0,139.0 443.5,138.6 444.0,139.1 444.5,139.8 445.0,140.4 445.5,140.9 446.0,140.8 446.5,140.5 447.0,140.6 447.5,140.0 448.0,139.5 448.5,139.5 449.0,139.5 449.5,139.0 450.0,139.2 450.5,139.3 451.0,139.8 451.5,140.2 452.0,140.0 452.5,139.6 453.0,139.7 453.5,139.8 454.0,139.5 454.5,139.4 455.0,139.6 455.5,140.1 456.0,140.0 456.5,140.5 457.0,141.0 457.5,140.7 458.0,140.2 458.5,140.1 459.0,140.1 459.5,140.1 460.0,139.7 460.5,139.3 461.0,139.0 461.5,139.3 462.0,139.9 462.5,140.2 463.0,140.2 463.5,140.2 464.0,140.6 464.5,140.8 465.0,140.2 465.5,139.3 466.0,138.6 466.5,139.0 467.0,140.1 467.5,140.1 468.0,140.5 468.5,140.7 469.0,140.4 469.5,139.4 470.0,139.1 470.5,139.5 471.0,140.1 471.5,140.3 472.0,140.5 472.5,140.0 473.0,139.8 473.5,139.7 474.0,139.6 474.5,139.2 475.0,138.9 475.5,139.0 476.0,139.2 476.5,139.5 477.0,139.5 477.5,139.4 478.0,140.1 478.5,140.7 479.0,140.0 479.5,139.4 480.0,138.7 480.5,139.3 481.0,139.3 481.5,139.5 482.0,140.1 482.5,140.7 483.0,140.4 483.5,140.7 484.0,141.1 484.5,141.1 485.0,140.8 485.5,140.3 486.0,139.8 486.5,139.7 487.0,139.8 487.5,139.5 488.0,139.1 488.5,139.0 489.0,139.1 489.5,139.8 490.0,140.5 490.5,140.5 491.0,140.3 491.5,140.5 492.0,140.3 492.5,139.4 493.0,138.4 493.5,139.2 494.0,140.2 494.5,140.5 495.0,140.0 495.5,140.8 496.0,140.8 496.5,140.3 497.0,138.7 497.5,139.4 498.0,141.6 498.5,141.5 499.0,139.8 499.5,137.8 500.0,139.7 500.5,142.2 501.0,141.8 501.5,140.6 502.0,138.8 502.5,137.2 503.0,137.9 503.5,141.3 504.0,142.4 504.5,140.6 505.0,139.5 505.5,139.7 506.0,141.3 506.5,142.1 507.0,140.1 507.5,138.9 508.0,139.4 508.5,141.0 509.0,141.0 509.5,141.2 510.0,140.4 510.5,139.5 511.0,137.9 511.5,138.5 512.0,140.1 512.5,142.1 513.0,141.5 513.5,139.7 514.0,137.8 514.5,137.7 515.0,140.0 515.5,142.5 516.0,141.2 516.5,139.1 517.0,136.4 517.5,136.9 518.0,138.8 518.5,141.1 519.0,143.1 519.5,139.9 520.0,138.5 520.5,141.1 521.0,139.8 521.5,138.2 522.0,136.6 522.5,139.2 523.0,141.8 523.5,140.2 524.0,138.5 524.5,136.9 525.0,137.8 525.5,140.2 526.0,142.7 526.5,142.0 527.0,139.7 527.5,138.2 528.0,138.7 528.5,139.9 529.0,141.0 529.5,141.8 530.0,139.8 530.5,137.4 531.0,139.1 531.5,140.8 532.0,137.8 532.5,137.1 533.0,138.8 533.5,139.2 534.0,139.7 534.5,140.5 535.0,140.4 535.5,139.9 536.0,138.2 536.5,138.9 537.0,141.7 537.5,142.9 538.0,140.3 538.5,138.3 539.0,137.3 539.5,138.4 540.0,139.9 540.5,141.1 541.0,141.9 541.5,141.1 542.0,140.4 542.5,139.8 543.0,140.1 543.5,141.2 544.0,142.3 544.5,141.6 545.0,140.6 545.5,138.4 546.0,137.7 546.5,140.0 547.0,142.3 547.5,140.7 548.0,137.0 548.5,139.1 549.0,141.9 549.5,141.0 550.0,140.1 550.5,138.2 551.0,137.8 551.5,138.9 552.0,140.8 552.5,140.9 553.0,140.1 553.5,139.2 554.0,138.4 554.5,138.4 555.0,138.5 555.5,137.6 556.0,135.6 556.5,134.1 557.0,135.5 557.5,138.8 558.0,141.6 558.5,142.0 559.0,142.2 559.5,141.9 560.0,142.3 560.5,142.8 561.0,139.8 561.5,138.8 562.0,141.5 562.5,140.8 563.0,139.2 563.5,141.2 564.0,143.3 564.5,144.8 565.0,139.6 565.5,139.8 566.0,140.0 566.5,136.1 567.0,132.2 567.5,132.7 568.0,131.0 568.5,126.2 569.0,126.1 569.5,130.0 570.0,133.9 570.5,136.0 571.0,138.8 571.5,141.6 572.0,146.2 572.5,155.3 573.0,148.2 573.5,141.1 574.0,134.6 574.5,133.2 575.0,131.7 575.5,129.3 576.0,136.7 576.5,136.5 577.0,137.4 577.5,142.1 578.0,137.4 578.5,132.7 579.0,133.7 579.5,137.1 580.0,139.0 580.5,138.7 581.0,139.9 581.5,146.0 582.0,149.3 582.5,147.0 583.0,145.1 583.5,144.6 584.0,139.1 584.5,135.8 585.0,137.9 585.5,140.5 586.0,143.1 586.5,143.9 587.0,144.3 587.5,144.7 588.0,150.3 588.5,157.4 589.0,150.2 589.5,141.7 590.0,138.4 590.5,135.1 591.0,135.6 591.5,134.7 592.0,131.5 592.5,134.5 593.0,137.5 593.5,136.2 594.0,131.6 594.5,124.3 595.0,123.5 595.5,122.3 596.0,125.6 596.5,138.0 597.0,149.0 597.5,149.8 598.0,145.8 598.5,144.2 599.0,140.0 599.5,135.1 600.0,140.3 600.5,144.4 601.0,145.5 601.5,146.5 602.0,142.7 602.5,142.6 603.0,140.4 603.5,135.4 604.0,138.4 604.5,144.1 605.0,149.2 605.5,150.1 606.0,147.9 606.5,142.1 607.0,139.8 607.5,137.6 608.0,136.7 608.5,137.9 609.0,138.6 609.5,143.8 610.0,151.0 610.5,144.8 611.0,141.2 611.5,139.9 612.0,138.6 612.5,138.7 613.0,138.2 613.5,139.7 614.0,141.1 614.5,142.5 615.0,138.6 615.5,137.9 616.0,138.9 616.5,139.9 617.0,138.6 617.5,137.1 618.0,135.5 618.5,137.2 619.0,137.7 619.5,138.4 620.0,139.4 620.5,140.6 621.0,144.3 621.5,145.9 622.0,145.7 622.5,146.4 623.0,147.2 623.5,145.0 624.0,138.2 624.5,140.9 625.0,137.4 625.5,134.9 626.0,137.1 626.5,137.6 627.0,134.3 627.5,131.0 628.0,128.7 628.5,131.5 629.0,135.0 629.5,138.1 630.0,138.6 630.5,139.1 631.0,139.6 631.5,144.0 632.0,145.8 632.5,143.5 633.0,146.5 633.5,151.6 634.0,151.5 634.5,145.5 635.0,139.5 635.5,133.4 636.0,131.8 636.5,134.2 637.0,136.1 637.5,134.4 638.0,134.2 638.5,136.2 639.0,140.2 639.5,141.3 640.0,142.0 640.5,147.7 641.0,151.4 641.5,151.8 642.0,150.0 642.5,148.2 643.0,146.4 643.5,144.6 644.0,140.9 644.5,137.3 645.0,135.4 645.5,137.5 646.0,140.1 646.5,141.7 647.0,138.0 647.5,135.7 648.0,135.4 648.5,132.9 649.0,131.8 649.5,134.0 650.0,137.6 650.5,139.8 651.0,139.9 651.5,140.8 652.0,140.9 652.5,140.8 653.0,138.3 653.5,136.9 654.0,139.1 654.5,137.1 655.0,136.6 655.5,137.2 656.0,137.4 656.5,137.1 657.0,137.7 657.5,140.3 658.0,143.4 658.5,143.2 659.0,143.0 659.5,142.8 660.0,144.5 660.5,146.8 661.0,144.9 661.5,142.4 662.0,139.9 662.5,138.5 663.0,139.8 663.5,141.1 664.0,141.1 664.5,142.4 665.0,144.0 665.5,141.7 666.0,139.4 666.5,138.1 667.0,142.7 667.5,145.5 668.0,147.0 668.5,143.7 669.0,140.4 669.5,139.3 670.0,135.4 670.5,134.6 671.0,134.5 671.5,135.9 672.0,139.2 672.5,139.6 673.0,138.2 673.5,136.9 674.0,135.6 674.5,137.4 675.0,139.9 675.5,138.5 676.0,140.0 676.5,141.5 677.0,140.5 677.5,137.9 678.0,133.8 678.5,132.0 679.0,134.8 679.5,139.4 680.0,142.5 680.5,142.2 681.0,139.4 681.5,137.5 682.0,137.2 682.5,139.4 683.0,141.3 683.5,140.7 684.0,139.3 684.5,139.8 685.0,140.1 685.5,140.9 686.0,140.9 686.5,140.6 687.0,140.8 687.5,142.2 688.0,143.2 688.5,141.2 689.0,139.2 689.5,138.7 690.0,140.6 690.5,142.4 691.0,142.3 691.5,142.7 692.0,144.7" fill="none" stroke="#000" stroke-width="1.2" stroke-linejoin="round"/>
<polyline points="96.0,178.4 96.5,178.3 97.0,177.8 97.5,177.1 98.0,176.4 98.5,177.1 99.0,178.2 99.5,179.4 100.0,180.2 100.5,179.1 101.0,178.0 101.5,177.2 102.0,177.2 102.5,178.5 103.0,178.5 103.5,178.4 104.0,179.2 104.5,179.3 105.0,179.0 105.5,178.1 106.0,177.1 106.5,177.5 107.0,178.6 107.5,179.9 108.0,181.2 108.5,180.0 109.0,177.7 109.5,175.3 110.0,177.1 110.5,176.2 111.0,174.8 111.5,175.0 112.0,176.2 112.5,178.4 113.0,180.6 113.5,179.4 114.0,176.6 114.5,173.7 115.0,171.8 115.5,176.5 116.0,176.7 116.5,174.6 117.0,179.1 117.5,183.9 118.0,184.6 118.5,182.5 119.0,178.8 119.5,179.8 120.0,177.7 120.5,169.8 121.0,171.3 121.5,171.5 122.0,169.9 122.5,171.8 123.0,173.8 123.5,178.9 124.0,184.4 124.5,187.4 125.0,187.1 125.5,186.8 126.0,185.4 126.5,184.3 127.0,183.1 127.5,178.3 128.0,174.8 128.5,172.9 129.0,167.5 129.5,165.2 130.0,168.3 130.5,169.8 131.0,171.3 131.5,172.8 132.0,180.4 132.5,188.1 133.0,190.9 133.5,186.0 134.0,180.5 134.5,176.5 135.0,172.5 135.5,171.3 136.0,172.9 136.5,174.5 137.0,177.6 137.5,184.9 138.0,190.8 138.5,189.3 139.0,186.2 139.5,183.9 140.0,173.9 140.5,174.4 141.0,170.9 141.5,167.0 142.0,165.6 142.5,166.8 143.0,171.2 143.5,175.5 144.0,175.5 144.5,176.6 145.0,177.7 145.5,184.2 146.0,191.7 146.5,192.7 147.0,185.8 147.5,178.8 148.0,176.0 148.5,173.4 149.0,168.3 149.5,165.9 150.0,168.0 150.5,172.9 151.0,177.9 151.5,182.1 152.0,179.9 152.5,182.5 153.0,185.6 153.5,181.7 154.0,177.7 154.5,173.8 155.0,173.9 155.5,175.0 156.0,176.2 156.5,174.5 157.0,171.6 157.5,174.2 158.0,177.6 158.5,178.5 159.0,178.5 159.5,180.1 160.0,176.0 160.5,168.8 161.0,165.4 161.5,182.7 162.0,200.0 162.5,197.6 163.0,184.7 163.5,174.1 164.0,169.7 164.5,169.6 165.0,172.8 165.5,175.9 166.0,180.4 166.5,186.7 167.0,181.6 167.5,176.6 168.0,174.9 168.5,173.2 169.0,176.7 169.5,175.6 170.0,173.3 170.5,175.1 171.0,179.1 171.5,183.2 172.0,181.4 172.5,176.8 173.0,179.6 173.5,177.1 174.0,173.6 174.5,174.9 175.0,176.2 175.5,174.6 176.0,167.2 176.5,168.6 177.0,170.9 177.5,172.0 178.0,176.7 178.5,183.1 179.0,187.4 179.5,188.5 180.0,187.2 180.5,183.8 181.0,180.4 181.5,175.4 182.0,169.3 182.5,163.3 183.0,167.6 183.5,172.0 184.0,176.5 184.5,177.7 185.0,178.9 185.5,183.2 186.0,187.5 186.5,190.0 187.0,187.8 187.5,183.9 188.0,179.9 188.5,177.3 189.0,178.2 189.5,179.0 190.0,179.9 190.5,176.5 191.0,174.6 191.5,177.0 192.0,181.9 192.5,186.7 193.0,191.1 193.5,189.5 194.0,188.5 194.5,188.2 195.0,187.9 195.5,185.9 196.0,181.6 196.5,177.3 197.0,174.3 197.5,173.1 198.0,170.1 198.5,170.0 199.0,170.8 199.5,172.2 200.0,176.6 200.5,175.8 201.0,176.0 201.5,182.0 202.0,179.7 202.5,176.4 203.0,173.1 203.5,173.9 204.0,175.0 204.5,176.2 205.0,177.5 205.5,177.8 206.0,179.5 206.5,187.0 207.0,190.8 207.5,188.3 208.0,184.6 208.5,185.1 209.0,182.9 209.5,176.1 210.0,177.0 210.5,178.2 211.0,174.3 211.5,173.3 212.0,172.3 212.5,172.7 213.0,174.8 213.5,176.8 214.0,177.2 214.5,176.8 215.0,177.0 215.5,180.4 216.0,182.3 216.5,182.1 217.0,178.5 217.5,175.8 218.0,175.5 218.5,178.0 219.0,178.8 219.5,178.1 220.0,177.6 220.5,179.2 221.0,181.2 221.5,183.2 222.0,182.8 222.5,181.5 223.0,180.3 223.5,179.4 224.0,179.3 224.5,179.3 225.0,178.5 225.5,176.9 226.0,175.2 226.5,174.8 227.0,174.7 227.5,174.6 228.0,173.8 228.5,172.0 229.0,172.5 229.5,173.9 230.0,175.3 230.5,175.8 231.0,176.0 231.5,176.1 232.0,176.3 232.5,178.0 233.0,180.1 233.5,180.7 234.0,179.1 234.5,179.9 235.0,181.1 235.5,182.3 236.0,182.5 236.5,182.0 237.0,181.6 237.5,180.2 238.0,176.8 238.5,175.4 239.0,175.6 239.5,174.6 240.0,174.4 240.5,176.1 241.0,177.7 241.5,176.9 242.0,176.0 242.5,175.1 243.0,176.7 243.5,178.3 244.0,179.2 244.5,179.2 245.0,178.3 245.5,178.0 246.0,178.7 246.5,178.7 247.0,177.6 247.5,177.6 248.0,177.6 248.5,180.3 249.0,181.1 249.5,180.6 250.0,179.8 250.5,178.7 251.0,179.0 251.5,177.9 252.0,176.2 252.5,176.1 253.0,175.1 253.5,173.0 254.0,172.4 254.5,174.2 255.0,176.0 255.5,176.2 256.0,176.2 256.5,176.3 257.0,177.1 257.5,179.3 258.0,180.8 258.5,181.1 259.0,179.6 259.5,178.9 260.0,178.4 260.5,178.0 261.0,176.6 261.5,174.2 262.0,172.7 262.5,173.4 263.0,175.5 263.5,177.5 264.0,178.5 264.5,178.9 265.0,179.7 265.5,182.9 266.0,181.1 266.5,178.7 267.0,176.8 267.5,177.6 268.0,174.6 268.5,172.6 269.0,172.2 269.5,174.4 270.0,177.1 270.5,178.3 271.0,178.5 271.5,178.6 272.0,180.3 272.5,182.9 273.0,181.6 273.5,179.3 274.0,178.4 274.5,177.8 275.0,177.2 275.5,177.3 276.0,177.4 276.5,178.5 277.0,179.5 277.5,180.2 278.0,179.5 278.5,178.8 279.0,178.8 279.5,180.1 280.0,181.2 280.5,181.8 281.0,181.0 281.5,180.0 282.0,179.2 282.5,180.0 283.0,179.5 283.5,178.7 284.0,178.6 284.5,178.5 285.0,178.4 285.5,177.8 286.0,177.5 286.5,177.4 287.0,178.5 287.5,178.7 288.0,178.7 288.5,179.5 289.0,180.1 289.5,178.9 290.0,178.9 290.5,179.9 291.0,179.2 291.5,178.6 292.0,178.0 292.5,178.9 293.0,179.9 293.5,180.4 294.0,179.3 294.5,179.1 295.0,179.3 295.5,178.3 296.0,177.3 296.5,176.8 297.0,176.8 297.5,177.6 298.0,178.5 298.5,178.3 299.0,178.2 299.5,178.0 300.0,178.9 300.5,179.5 301.0,179.4 301.5,178.8 302.0,177.6 302.5,176.3 303.0,176.0 303.5,177.4 304.0,175.7 304.5,174.4 305.0,175.8 305.5,176.5 306.0,177.1 306.5,178.7 307.0,180.3 307.5,180.8 308.0,180.5 308.5,179.9 309.0,179.7 309.5,179.5 310.0,178.1 310.5,176.6 311.0,176.2 311.5,175.9 312.0,176.2 312.5,176.7 313.0,177.3 313.5,179.1 314.0,180.9 314.5,182.5 315.0,180.7 315.5,178.8 316.0,177.4 316.5,176.8 317.0,176.3 317.5,175.4 318.0,175.2 318.5,176.5 319.0,177.7 319.5,178.8 320.0,179.1 320.5,179.4 321.0,180.2 321.5,180.1 322.0,179.2 322.5,178.5 323.0,178.4 323.5,178.3 324.0,178.3 324.5,177.2 325.0,176.1 325.5,177.0 326.0,178.3 326.5,179.7 327.0,180.3 327.5,179.1 328.0,178.0 328.5,176.9 329.0,176.4 329.5,176.0 330.0,175.9 330.5,176.4 331.0,176.8 331.5,177.4 332.0,178.7 332.5,179.8 333.0,179.7 333.5,179.1 334.0,179.4 334.5,179.3 335.0,178.1 335.5,176.9 336.0,175.7 336.5,176.4 337.0,175.8 337.5,175.2 338.0,175.6 338.5,177.5 339.0,179.4 339.5,179.6 340.0,179.9 340.5,179.6 341.0,179.7 341.5,179.8 342.0,179.5 342.5,178.1 343.0,176.8 343.5,176.5 344.0,176.3 344.5,175.7 345.0,176.8 345.5,178.0 346.0,178.5 346.5,178.1 347.0,177.6 347.5,178.8 348.0,179.7 348.5,179.1 349.0,178.4 349.5,178.0 350.0,177.9 350.5,175.9 351.0,175.8 351.5,177.1 352.0,178.0 352.5,178.3 353.0,179.3 353.5,180.8 354.0,179.9 354.5,178.1 355.0,175.6 355.5,176.1 356.0,178.0 356.5,179.9 357.0,180.2 357.5,179.4 358.0,179.7 358.5,179.7 359.0,178.4 359.5,177.5 360.0,177.9 360.5,177.9 361.0,175.4 361.5,176.3 362.0,177.4 362.5,177.6 363.0,177.7 363.5,178.5 364.0,179.2 364.5,179.9 365.0,178.7 365.5,179.4 366.0,179.4 366.5,177.9 367.0,176.5 367.5,175.3 368.0,176.0 368.5,176.9 369.0,177.9 369.5,177.9 370.0,178.2 370.5,179.7 371.0,181.2 371.5,181.3 372.0,179.7 372.5,178.1 373.0,178.0 373.5,178.0 374.0,177.8 374.5,176.0 375.0,176.4 375.5,177.2 376.0,177.9 376.5,178.3 377.0,178.4 377.5,178.5 378.0,179.4 378.5,180.5 379.0,181.2 379.5,179.9 380.0,178.5 380.5,178.0 381.0,177.9 381.5,177.0 382.0,175.8 382.5,176.5 383.0,176.6 383.5,178.1 384.0,179.2 384.5,179.3 385.0,179.5 385.5,181.0 386.0,180.3 386.5,179.4 387.0,178.5 387.5,178.2 388.0,178.0 388.5,177.0 389.0,176.3 389.5,176.6 390.0,177.3 390.5,178.1 391.0,178.5 391.5,178.1 392.0,178.6 392.5,179.7 393.0,180.8 393.5,181.2 394.0,180.3 394.5,179.4 395.0,178.5 395.5,178.1 396.0,177.9 396.5,177.6 397.0,177.0 397.5,175.9 398.0,175.3 398.5,177.5 399.0,176.6 399.5,177.9 400.0,179.3 400.5,180.7 401.0,180.5 401.5,179.0 402.0,177.5 402.5,176.6 403.0,177.7 403.5,178.7 404.0,178.3 404.5,178.7 405.0,179.4 405.5,179.4 406.0,179.4 406.5,179.8 407.0,179.5 407.5,179.3 408.0,178.2 408.5,177.0 409.0,175.9 409.5,177.2 410.0,178.7 410.5,179.3 411.0,178.7 411.5,178.4 412.0,178.4 412.5,178.1 413.0,177.3 413.5,177.1 414.0,177.5 414.5,178.2 415.0,178.1 415.5,178.0 416.0,177.8 416.5,178.4 417.0,179.1 417.5,179.1 418.0,178.6 418.5,178.0 419.0,178.1 419.5,178.1 420.0,178.2 420.5,177.8 421.0,177.8 421.5,177.9 422.0,178.3 422.5,178.7 423.0,178.8 423.5,178.7 424.0,179.3 424.5,179.3 425.0,179.1 425.5,179.0 426.0,179.0 426.5,178.5 427.0,177.8 427.5,177.4 428.0,177.4 428.5,177.9 429.0,178.0 429.5,177.9 430.0,178.4 430.5,178.9 431.0,179.4 431.5,179.0 432.0,179.2 432.5,179.0 433.0,178.2 433.5,178.0 434.0,177.8 434.5,178.1 435.0,177.7 435.5,177.9 436.0,178.2 436.5,178.6 437.0,178.7 437.5,178.8 438.0,178.8 438.5,178.6 439.0,178.5 439.5,178.4 440.0,177.9 440.5,177.4 441.0,177.0 441.5,177.2 442.0,177.7 442.5,178.3 443.0,178.4 443.5,178.5 444.0,178.6 444.5,178.8 445.0,179.2 445.5,179.5 446.0,179.3 446.5,178.9 447.0,178.5 447.5,178.1 448.0,177.9 448.5,177.8 449.0,177.9 449.5,178.2 450.0,178.9 450.5,179.8 451.0,179.3 451.5,178.8 452.0,178.3 452.5,178.3 453.0,178.5 453.5,178.1 454.0,177.6 454.5,177.1 455.0,177.0 455.5,177.6 456.0,178.0 456.5,177.9 457.0,177.7 457.5,178.2 458.0,179.0 458.5,178.6 459.0,178.8 459.5,179.2 460.0,178.9 460.5,178.4 461.0,178.4 461.5,178.5 462.0,178.6 462.5,178.3 463.0,178.0 463.5,177.9 464.0,178.2 464.5,178.6 465.0,179.0 465.5,178.8 466.0,178.4 466.5,178.1 467.0,178.0 467.5,177.9 468.0,178.1 468.5,178.2 469.0,178.2 469.5,178.2 470.0,178.4 470.5,178.7 471.0,178.9 471.5,178.8 472.0,178.4 472.5,178.4 473.0,178.2 473.5,177.8 474.0,177.6 474.5,177.8 475.0,178.1 475.5,178.3 476.0,178.3 476.5,178.4 477.0,178.5 477.5,178.9 478.0,178.9 478.5,179.0 479.0,178.6 479.5,178.5 480.0,178.4 480.5,178.3 481.0,178.1 481.5,177.7 482.0,177.4 482.5,177.6 483.0,178.1 483.5,178.5 484.0,178.2 484.5,178.6 485.0,179.0 485.5,179.1 486.0,178.6 486.5,177.9 487.0,177.8 487.5,177.8 488.0,177.9 488.5,177.8 489.0,177.5 489.5,177.5 490.0,177.7 490.5,178.2 491.0,178.9 491.5,178.7 492.0,178.4 492.5,179.2 493.0,178.5 493.5,177.8 494.0,177.1 494.5,177.0 495.0,177.9 495.5,178.1 496.0,178.2 496.5,178.4 497.0,180.4 497.5,182.5 498.0,181.2 498.5,177.9 499.0,174.8 499.5,178.3 500.0,181.9 500.5,180.8 501.0,176.4 501.5,178.4 502.0,182.1 502.5,183.1 503.0,179.6 503.5,177.1 504.0,179.2 504.5,181.2 505.0,177.7 505.5,175.4 506.0,178.3 506.5,180.1 507.0,181.6 507.5,180.9 508.0,177.0 508.5,174.0 509.0,176.7 509.5,178.2 510.0,179.5 510.5,176.0 511.0,175.6 511.5,178.2 512.0,180.4 512.5,174.8 513.0,175.2 513.5,180.2 514.0,182.6 514.5,179.5 515.0,176.4 515.5,175.8 516.0,179.5 516.5,182.2 517.0,178.8 517.5,176.5 518.0,179.0 518.5,181.4 519.0,180.2 519.5,177.0 520.0,174.1 520.5,174.9 521.0,179.0 521.5,182.7 522.0,181.3 522.5,177.9 523.0,175.6 523.5,178.5 524.0,182.4 524.5,181.9 525.0,177.8 525.5,176.6 526.0,179.8 526.5,183.0 527.0,182.4 527.5,179.2 528.0,178.9 528.5,177.8 529.0,177.7 529.5,179.4 530.0,182.7 530.5,181.7 531.0,177.9 531.5,174.5 532.0,178.7 532.5,181.2 533.0,174.1 533.5,178.1 534.0,180.4 534.5,179.7 535.0,175.7 535.5,175.8 536.0,177.9 536.5,180.1 537.0,181.5 537.5,178.0 538.0,175.4 538.5,176.4 539.0,178.4 539.5,180.8 540.0,177.6 540.5,173.6 541.0,179.3 541.5,180.3 542.0,178.6 542.5,176.6 543.0,176.6 543.5,179.2 544.0,181.8 544.5,183.0 545.0,178.9 545.5,176.0 546.0,176.0 546.5,178.8 547.0,181.1 547.5,179.2 548.0,176.8 548.5,175.8 549.0,178.0 549.5,184.1 550.0,179.2 550.5,174.7 551.0,175.5 551.5,176.4 552.0,177.0 552.5,175.6 553.0,173.9 553.5,172.3 554.0,176.4 554.5,180.7 555.0,178.2 555.5,176.3 556.0,177.3 556.5,183.4 557.0,183.6 557.5,182.5 558.0,181.4 558.5,184.2 559.0,184.8 559.5,185.5 560.0,182.9 560.5,177.4 561.0,175.6 561.5,173.7 562.0,171.7 562.5,164.5 563.0,161.3 563.5,162.3 564.0,167.6 564.5,171.8 565.0,174.2 565.5,176.5 566.0,180.3 566.5,187.0 567.0,187.7 567.5,188.4 568.0,189.6 568.5,186.4 569.0,180.4 569.5,174.3 570.0,169.8 570.5,167.4 571.0,167.7 571.5,171.0 572.0,172.5 572.5,176.1 573.0,180.9 573.5,185.8 574.0,185.4 574.5,181.3 575.0,177.3 575.5,174.4 576.0,176.9 576.5,180.8 577.0,182.5 577.5,184.3 578.0,186.1 578.5,187.9 579.0,186.1 579.5,184.4 580.0,179.1 580.5,171.6 581.0,176.6 581.5,177.1 582.0,174.7 582.5,177.6 583.0,177.3 583.5,176.5 584.0,172.3 584.5,168.0 585.0,167.4 585.5,172.6 586.0,177.9 586.5,180.1 587.0,182.1 587.5,187.7 588.0,186.9 588.5,183.6 589.0,178.5 589.5,173.4 590.0,169.9 590.5,169.7 591.0,169.5 591.5,172.7 592.0,173.5 592.5,174.3 593.0,176.9 593.5,181.2 594.0,184.7 594.5,185.5 595.0,181.9 595.5,179.6 596.0,181.0 596.5,174.0 597.0,180.8 597.5,180.5 598.0,178.9 598.5,180.7 599.0,182.5 599.5,178.2 600.0,176.4 600.5,177.5 601.0,172.9 601.5,169.9 602.0,175.9 602.5,181.9 603.0,183.8 603.5,184.7 604.0,185.8 604.5,185.3 605.0,180.1 605.5,174.9 606.0,166.3 606.5,172.5 607.0,179.4 607.5,182.9 608.0,184.8 608.5,180.2 609.0,176.8 609.5,175.0 610.0,173.1 610.5,173.7 611.0,168.3 611.5,172.2 612.0,176.5 612.5,178.0 613.0,177.6 613.5,181.8 614.0,187.3 614.5,185.6 615.0,175.2 615.5,169.8 616.0,166.9 616.5,163.8 617.0,166.1 617.5,168.4 618.0,174.3 618.5,182.0 619.0,187.0 619.5,190.9 620.0,191.5 620.5,192.1 621.0,190.4 621.5,186.1 622.0,182.7 622.5,179.3 623.0,176.5 623.5,174.3 624.0,171.9 624.5,169.5 625.0,169.6 625.5,170.3 626.0,173.2 626.5,175.9 627.0,176.0 627.5,176.1 628.0,176.2 628.5,181.2 629.0,184.6 629.5,178.4 630.0,179.6 630.5,178.8 631.0,176.3 631.5,173.8 632.0,173.6 632.5,175.3 633.0,176.1 633.5,175.3 634.0,175.3 634.5,176.3 635.0,179.4 635.5,182.6 636.0,185.7 636.5,185.2 637.0,181.6 637.5,180.7 638.0,179.7 638.5,178.1 639.0,173.8 639.5,174.0 640.0,176.4 640.5,178.2 641.0,177.0 641.5,175.7 642.0,177.0 642.5,177.8 643.0,178.0 643.5,176.4 644.0,173.7 644.5,172.3 645.0,172.9 645.5,173.5 646.0,175.3 646.5,175.9 647.0,176.6 647.5,177.3 648.0,179.9 648.5,180.3 649.0,179.8 649.5,178.6 650.0,178.7 650.5,178.8 651.0,178.9 651.5,178.1 652.0,176.5 652.5,174.9 653.0,175.8 653.5,174.1 654.0,172.1 654.5,174.3 655.0,174.7 655.5,174.4 656.0,175.3 656.5,178.0 657.0,180.6 657.5,180.6 658.0,179.5 658.5,179.2 659.0,178.6 659.5,176.2 660.0,173.9 660.5,173.9 661.0,175.3 661.5,177.5 662.0,179.8 662.5,181.4 663.0,180.5 663.5,179.6 664.0,180.7 664.5,182.1 665.0,183.1 665.5,183.7 666.0,182.1 666.5,180.5 667.0,178.9 667.5,178.9 668.0,178.9 668.5,177.0 669.0,173.3 669.5,173.2 670.0,173.0 670.5,172.9 671.0,172.4 671.5,172.5 672.0,172.7 672.5,174.1 673.0,176.6 673.5,175.7 674.0,174.7 674.5,176.7 675.0,179.3 675.5,181.8 676.0,179.5 676.5,180.0 677.0,182.5 677.5,184.6 678.0,183.2 678.5,182.3 679.0,181.9 679.5,181.3 680.0,177.4 680.5,177.6 681.0,179.0 681.5,179.6 682.0,177.2 682.5,177.9 683.0,178.9 683.5,179.1 684.0,178.0 684.5,176.9 685.0,177.0 685.5,178.5 686.0,179.2 686.5,177.9 687.0,177.8 687.5,177.9 688.0,178.0 688.5,177.2 689.0,177.3 689.5,177.9 690.0,178.3 690.5,178.8 691.0,178.5 691.5,178.3 692.0,178.8" fill="none" stroke="#000" stroke-width="1.2" stroke-linejoin="round"/>
<polyline points="96.0,217.1 96.5,216.7 97.0,216.4 97.5,216.0 98.0,215.3 98.5,215.8 99.0,216.9 99.5,217.9 100.0,217.9 100.5,216.9 101.0,217.5 101.5,216.0 102.0,214.8 102.5,216.0 103.0,215.8 103.5,215.4 104.0,215.2 104.5,216.2 105.0,217.6 105.5,219.0 106.0,219.1 106.5,218.6 107.0,218.1 107.5,217.7 108.0,217.6 108.5,216.0 109.0,213.9 109.5,213.5 110.0,213.6 110.5,213.6 111.0,213.2 111.5,213.3 112.0,215.4 112.5,219.5 113.0,222.3 113.5,220.9 114.0,216.9 114.5,214.8 115.0,214.8 115.5,217.6 116.0,217.4 116.5,216.1 117.0,218.8 117.5,222.0 118.0,223.2 118.5,219.9 119.0,217.1 119.5,216.5 120.0,214.9 120.5,209.9 121.0,217.5 121.5,218.9 122.0,221.7 122.5,223.4 123.0,221.7 123.5,219.2 124.0,216.0 124.5,212.7 125.0,212.2 125.5,209.5 126.0,206.5 126.5,208.2 127.0,212.3 127.5,216.4 128.0,220.5 128.5,213.1 129.0,217.7 129.5,222.9 130.0,219.0 130.5,218.5 131.0,220.3 131.5,219.8 132.0,214.0 132.5,208.2 133.0,206.3 133.5,206.3 134.0,206.2 134.5,207.4 135.0,206.6 135.5,208.4 136.0,214.1 136.5,219.0 137.0,222.6 137.5,222.4 138.0,221.5 138.5,223.9 139.0,227.5 139.5,225.3 140.0,221.0 140.5,216.7 141.0,213.1 141.5,212.0 142.0,211.3 142.5,210.3 143.0,206.8 143.5,205.6 144.0,210.3 144.5,216.8 145.0,222.4 145.5,224.2 146.0,220.4 146.5,218.2 147.0,221.4 147.5,223.3 148.0,222.2 148.5,221.6 149.0,220.2 149.5,218.9 150.0,215.5 150.5,206.8 151.0,208.1 151.5,211.2 152.0,206.5 152.5,210.1 153.0,213.7 153.5,216.1 154.0,214.5 154.5,215.5 155.0,221.0 155.5,226.5 156.0,227.8 156.5,228.2 157.0,228.5 157.5,226.5 158.0,223.7 158.5,220.9 159.0,216.2 159.5,210.1 160.0,208.6 160.5,211.3 161.0,215.4 161.5,219.5 162.0,219.9 162.5,217.3 163.0,217.8 163.5,218.5 164.0,216.7 164.5,212.9 165.0,209.1 165.5,205.9 166.0,210.2 166.5,210.7 167.0,212.5 167.5,218.5 168.0,224.4 168.5,222.7 169.0,220.3 169.5,218.4 170.0,220.7 170.5,223.0 171.0,220.3 171.5,215.7 172.0,212.7 172.5,213.0 173.0,213.3 173.5,206.4 174.0,204.1 174.5,209.1 175.0,214.0 175.5,213.2 176.0,218.6 176.5,225.0 177.0,223.3 177.5,220.8 178.0,218.4 178.5,219.3 179.0,220.2 179.5,220.2 180.0,217.1 180.5,213.9 181.0,212.3 181.5,211.9 182.0,211.2 182.5,207.8 183.0,211.8 183.5,216.7 184.0,218.8 184.5,217.1 185.0,221.3 185.5,222.2 186.0,221.0 186.5,217.1 187.0,212.4 187.5,213.2 188.0,216.4 188.5,214.0 189.0,211.8 189.5,214.6 190.0,217.4 190.5,218.7 191.0,216.3 191.5,215.1 192.0,218.1 192.5,218.0 193.0,217.9 193.5,219.9 194.0,220.3 194.5,219.2 195.0,220.8 195.5,222.1 196.0,221.3 196.5,220.0 197.0,218.7 197.5,218.0 198.0,217.8 198.5,217.6 199.0,216.9 199.5,215.3 200.0,216.6 200.5,217.5 201.0,216.2 201.5,215.7 202.0,217.0 202.5,217.6 203.0,216.9 203.5,216.4 204.0,216.6 204.5,217.6 205.0,218.5 205.5,219.5 206.0,219.5 206.5,219.3 207.0,218.7 207.5,218.3 208.0,217.5 208.5,215.7 209.0,214.2 209.5,214.5 210.0,212.9 210.5,210.9 211.0,211.7 211.5,213.9 212.0,216.8 212.5,217.7 213.0,217.2 213.5,218.1 214.0,219.3 214.5,219.0 215.0,216.7 215.5,214.3 216.0,214.0 216.5,215.1 217.0,217.9 217.5,218.5 218.0,219.1 218.5,219.8 219.0,219.6 219.5,218.4 220.0,216.3 220.5,214.2 221.0,212.1 221.5,213.2 222.0,211.6 222.5,212.1 223.0,214.1 223.5,214.5 224.0,214.8 224.5,215.1 225.0,216.2 225.5,217.6 226.0,219.1 226.5,219.9 227.0,219.4 227.5,219.0 228.0,219.7 228.5,220.4 229.0,218.8 229.5,216.5 230.0,214.8 230.5,214.4 231.0,214.4 231.5,214.1 232.0,213.6 232.5,215.7 233.0,217.2 233.5,217.7 234.0,218.2 234.5,218.8 235.0,219.1 235.5,218.7 236.0,218.3 236.5,217.3 237.0,215.3 237.5,215.4 238.0,217.1 238.5,215.9 239.0,215.9 239.5,217.1 240.0,218.4 240.5,217.5 241.0,216.9 241.5,216.9 242.0,215.9 242.5,214.3 243.0,214.1 243.5,214.8 244.0,216.2 244.5,215.6 245.0,217.0 245.5,218.4 246.0,219.7 246.5,220.6 247.0,219.4 247.5,217.7 248.0,216.3 248.5,215.7 249.0,215.0 249.5,214.9 250.0,214.6 250.5,214.3 251.0,214.9 251.5,216.3 252.0,217.0 252.5,216.7 253.0,216.4 253.5,216.3 254.0,217.0 254.5,217.7 255.0,218.4 255.5,217.4 256.0,217.5 256.5,218.5 257.0,217.9 257.5,217.0 258.0,216.1 258.5,215.6 259.0,215.5 259.5,215.4 260.0,215.2 260.5,214.6 261.0,214.3 261.5,215.0 262.0,215.8 262.5,216.5 263.0,216.7 263.5,216.6 264.0,217.7 264.5,218.7 265.0,218.8 265.5,218.1 266.0,217.4 266.5,217.2 267.0,217.3 267.5,216.7 268.0,216.5 268.5,217.1 269.0,216.6 269.5,215.8 270.0,215.7 270.5,215.7 271.0,215.8 271.5,214.9 272.0,214.5 272.5,215.2 273.0,215.6 273.5,215.3 274.0,215.4 274.5,216.1 275.0,216.9 275.5,217.1 276.0,216.5 276.5,217.0 277.0,217.2 277.5,217.4 278.0,216.6 278.5,215.7 279.0,216.3 279.5,216.2 280.0,215.7 280.5,215.2 281.0,214.7 281.5,215.2 282.0,215.5 282.5,215.8 283.0,216.2 283.5,216.9 284.0,217.6 284.5,218.1 285.0,218.5 285.5,218.8 286.0,218.1 286.5,217.7 287.0,217.4 287.5,216.3 288.0,214.6 288.5,214.4 289.0,214.6 289.5,215.0 290.0,215.2 290.5,215.5 291.0,216.1 291.5,217.0 292.0,217.2 292.5,216.9 293.0,218.1 293.5,218.1 294.0,217.9 294.5,217.7 295.0,217.8 295.5,218.1 296.0,218.0 296.5,217.6 297.0,216.3 297.5,214.9 298.0,214.4 298.5,215.5 299.0,216.6 299.5,217.3 300.0,218.0 300.5,218.7 301.0,219.6 301.5,218.9 302.0,217.4 302.5,216.0 303.0,214.5 303.5,215.0 304.0,216.4 304.5,216.5 305.0,216.6 305.5,216.8 306.0,217.4 306.5,217.4 307.0,217.3 307.5,216.1 308.0,214.9 308.5,215.7 309.0,217.1 309.5,216.8 310.0,217.2 310.5,218.3 311.0,218.5 311.5,217.3 312.0,216.6 312.5,216.1 313.0,215.7 313.5,214.7 314.0,213.2 314.5,214.5 315.0,216.4 315.5,218.2 316.0,219.1 316.5,217.0 317.0,217.2 317.5,217.3 318.0,217.5 318.5,216.3 319.0,215.2 319.5,214.0 320.0,214.7 320.5,216.0 321.0,216.0 321.5,216.1 322.0,217.2 322.5,218.3 323.0,218.7 323.5,217.5 324.0,216.6 324.5,216.5 325.0,216.4 325.5,216.3 326.0,215.5 326.5,215.3 327.0,215.8 327.5,217.0 328.0,218.3 328.5,219.0 329.0,218.5 329.5,217.6 330.0,216.7 330.5,215.8 331.0,215.6 331.5,215.4 332.0,215.3 332.5,214.9 333.0,215.3 333.5,215.7 334.0,216.2 334.5,217.7 335.0,218.5 335.5,218.3 336.0,217.2 336.5,216.2 337.0,215.1 337.5,215.0 338.0,215.5 338.5,216.6 339.0,216.4 339.5,216.2 340.0,216.0 340.5,217.9 341.0,218.7 341.5,218.3 342.0,218.6 342.5,219.7 343.0,219.1 343.5,217.9 344.0,217.5 344.5,217.6 345.0,215.4 345.5,215.6 346.0,215.9 346.5,216.1 347.0,216.4 347.5,217.4 348.0,219.0 348.5,219.4 349.0,218.4 349.5,216.9 350.0,217.0 350.5,217.1 351.0,217.1 351.5,216.3 352.0,215.0 352.5,214.7 353.0,216.0 353.5,217.0 354.0,216.9 354.5,216.8 355.0,216.7 355.5,217.5 356.0,218.1 356.5,217.9 357.0,217.1 357.5,217.1 358.0,217.1 358.5,216.4 359.0,215.8 359.5,215.6 360.0,215.6 360.5,216.1 361.0,216.5 361.5,216.4 362.0,216.3 362.5,217.2 363.0,217.3 363.5,216.6 364.0,215.8 364.5,216.1 365.0,215.9 365.5,214.9 366.0,214.7 366.5,215.6 367.0,216.5 367.5,217.5 368.0,217.9 368.5,218.1 369.0,218.4 369.5,217.7 370.0,216.6 370.5,215.6 371.0,215.8 371.5,215.8 372.0,215.0 372.5,214.1 373.0,215.5 373.5,217.3 374.0,218.8 374.5,219.0 375.0,218.1 375.5,218.1 376.0,217.6 376.5,216.9 377.0,216.6 377.5,216.6 378.0,216.7 378.5,216.1 379.0,215.8 379.5,216.3 380.0,217.5 380.5,218.6 381.0,218.8 381.5,217.0 382.0,216.0 382.5,215.7 383.0,215.2 383.5,215.6 384.0,216.6 384.5,217.6 385.0,218.2 385.5,217.7 386.0,217.2 386.5,216.0 387.0,215.0 387.5,216.5 388.0,218.0 388.5,218.2 389.0,217.9 389.5,217.8 390.0,217.7 390.5,217.5 391.0,216.5 391.5,215.6 392.0,214.6 392.5,215.3 393.0,215.8 393.5,215.8 394.0,215.9 394.5,216.1 395.0,216.9 395.5,217.7 396.0,217.8 396.5,217.8 397.0,218.6 397.5,218.8 398.0,218.5 398.5,217.4 399.0,216.4 399.5,215.7 400.0,215.9 400.5,216.1 401.0,215.7 401.5,215.4 402.0,215.4 402.5,216.1 403.0,217.2 403.5,217.8 404.0,217.6 404.5,217.5 405.0,217.7 405.5,218.0 406.0,217.6 406.5,216.6 407.0,216.7 407.5,216.9 408.0,215.8 408.5,214.8 409.0,215.2 409.5,216.0 410.0,215.4 410.5,216.0 411.0,216.8 411.5,216.6 412.0,216.5 412.5,216.8 413.0,217.1 413.5,217.1 414.0,216.9 414.5,216.3 415.0,215.8 415.5,216.1 416.0,216.2 416.5,215.6 417.0,215.4 417.5,215.9 418.0,216.6 418.5,217.0 419.0,216.9 419.5,216.8 420.0,216.7 420.5,217.2 421.0,217.2 421.5,217.3 422.0,216.8 422.5,216.2 423.0,216.4 423.5,216.1 424.0,215.7 424.5,215.5 425.0,215.6 425.5,216.0 426.0,216.4 426.5,216.6 427.0,216.8 427.5,217.0 428.0,217.3 428.5,217.5 429.0,217.0 429.5,216.4 430.0,215.9 430.5,215.9 431.0,215.8 431.5,215.8 432.0,216.0 432.5,216.2 433.0,216.5 433.5,216.9 434.0,217.4 434.5,217.6 435.0,217.5 435.5,217.1 436.0,216.9 436.5,216.9 437.0,216.8 437.5,216.5 438.0,216.0 438.5,216.1 439.0,216.6 439.5,217.0 440.0,217.1 440.5,217.2 441.0,217.4 441.5,217.7 442.0,217.9 442.5,217.7 443.0,217.3 443.5,216.7 444.0,216.2 444.5,215.9 445.0,215.9 445.5,216.3 446.0,216.6 446.5,216.6 447.0,216.8 447.5,217.3 448.0,217.2 448.5,217.0 449.0,217.3 449.5,217.6 450.0,217.4 450.5,217.0 451.0,216.4 451.5,216.1 452.0,216.0 452.5,216.3 453.0,216.5 453.5,216.6 454.0,216.8 454.5,217.1 455.0,217.3 455.5,217.2 456.0,217.1 456.5,217.2 457.0,216.6 457.5,216.2 458.0,216.1 458.5,216.0 459.0,216.0 459.5,216.2 460.0,216.4 460.5,216.8 461.0,217.3 461.5,217.6 462.0,217.3 462.5,216.7 463.0,216.7 463.5,216.7 464.0,216.7 464.5,216.3 465.0,216.0 465.5,216.1 466.0,216.3 466.5,216.7 467.0,217.1 467.5,217.6 468.0,217.9 468.5,217.7 469.0,217.3 469.5,216.7 470.0,216.5 470.5,216.3 471.0,215.8 471.5,215.8 472.0,215.9 472.5,216.3 473.0,216.6 473.5,217.0 474.0,217.0 474.5,216.8 475.0,217.2 475.5,217.0 476.0,216.6 476.5,216.2 477.0,216.3 477.5,216.2 478.0,216.0 478.5,216.0 479.0,216.6 479.5,217.1 480.0,217.4 480.5,217.4 481.0,217.3 481.5,217.2 482.0,217.2 482.5,216.8 483.0,216.4 483.5,216.0 484.0,216.4 484.5,217.1 485.0,217.5 485.5,217.6 486.0,217.1 486.5,216.8 487.0,216.8 487.5,216.4 488.0,215.7 488.5,216.5 489.0,217.1 489.5,217.1 490.0,217.0 490.5,216.5 491.0,217.1 491.5,216.8 492.0,216.1 492.5,215.4 493.0,215.5 493.5,216.8 494.0,216.0 494.5,216.9 495.0,218.0 495.5,219.0 496.0,218.7 496.5,218.2 497.0,216.8 497.5,216.3 498.0,213.5 498.5,211.9 499.0,215.4 499.5,218.8 500.0,221.5 500.5,220.4 501.0,216.3 501.5,213.0 502.0,214.9 502.5,218.8 503.0,220.4 503.5,218.1 504.0,215.9 504.5,213.7 505.0,215.1 505.5,217.0 506.0,218.9 506.5,220.1 507.0,217.6 507.5,214.0 508.0,214.8 508.5,217.9 509.0,219.9 509.5,214.8 510.0,209.9 510.5,214.4 511.0,218.9 511.5,219.3 512.0,216.0 512.5,212.8 513.0,215.8 513.5,219.5 514.0,221.5 514.5,216.7 515.0,212.5 515.5,215.0 516.0,216.8 516.5,218.1 517.0,215.2 517.5,213.5 518.0,216.3 518.5,219.4 519.0,220.4 519.5,217.2 520.0,214.3 520.5,213.7 521.0,216.1 521.5,218.5 522.0,219.3 522.5,217.4 523.0,215.7 523.5,215.1 524.0,213.7 524.5,217.8 525.0,221.3 525.5,218.3 526.0,216.4 526.5,214.3 527.0,216.6 527.5,219.3 528.0,215.0 528.5,212.1 529.0,216.7 529.5,219.8 530.0,218.3 530.5,216.8 531.0,213.6 531.5,214.2 532.0,219.2 532.5,220.2 533.0,217.7 533.5,214.3 534.0,210.9 534.5,215.8 535.0,221.3 535.5,216.1 536.0,214.5 536.5,215.4 537.0,218.4 537.5,222.3 538.0,221.5 538.5,217.5 539.0,213.3 539.5,212.8 540.0,218.5 540.5,219.6 541.0,219.6 541.5,216.9 542.0,217.3 542.5,216.2 543.0,219.4 543.5,215.8 544.0,214.7 544.5,213.6 545.0,212.2 545.5,216.7 546.0,219.7 546.5,220.0 547.0,216.3 547.5,213.5 548.0,215.3 548.5,222.8 549.0,219.6 549.5,215.1 550.0,213.6 550.5,212.7 551.0,212.9 551.5,212.5 552.0,212.2 552.5,213.4 553.0,215.4 553.5,216.5 554.0,215.9 554.5,215.4 555.0,218.0 555.5,217.7 556.0,216.1 556.5,214.5 557.0,215.4 557.5,216.3 558.0,217.2 558.5,216.8 559.0,216.1 559.5,215.4 560.0,217.5 560.5,220.4 561.0,221.6 561.5,221.6 562.0,224.3 562.5,222.9 563.0,221.1 563.5,219.2 564.0,219.5 564.5,219.3 565.0,216.6 565.5,214.0 566.0,211.3 566.5,210.8 567.0,210.8 567.5,213.2 568.0,213.0 568.5,212.4 569.0,211.8 569.5,213.1 570.0,215.9 570.5,218.8 571.0,218.2 571.5,217.4 572.0,221.9 572.5,225.1 573.0,221.7 573.5,218.2 574.0,214.8 574.5,215.2 575.0,217.2 575.5,215.3 576.0,210.9 576.5,207.6 577.0,207.7 577.5,210.0 578.0,213.5 578.5,216.0 579.0,224.0 579.5,225.5 580.0,221.3 580.5,217.0 581.0,216.2 581.5,212.5 582.0,211.8 582.5,212.1 583.0,214.0 583.5,217.4 584.0,220.9 584.5,221.7 585.0,218.0 585.5,219.1 586.0,213.5 586.5,209.5 587.0,211.0 587.5,216.9 588.0,219.2 588.5,220.1 589.0,221.3 589.5,229.0 590.0,224.0 590.5,216.2 591.0,213.4 591.5,211.3 592.0,211.5 592.5,212.7 593.0,207.9 593.5,210.4 594.0,212.9 594.5,215.5 595.0,216.8 595.5,215.9 596.0,215.8 596.5,219.2 597.0,222.6 597.5,222.3 598.0,220.1 598.5,220.2 599.0,219.0 599.5,217.9 600.0,215.2 600.5,211.4 601.0,212.0 601.5,210.8 602.0,211.5 602.5,212.1 603.0,214.4 603.5,218.1 604.0,221.2 604.5,222.2 605.0,220.9 605.5,218.0 606.0,217.0 606.5,217.3 607.0,213.8 607.5,210.9 608.0,214.3 608.5,216.3 609.0,215.7 609.5,216.5 610.0,219.4 610.5,219.2 611.0,215.0 611.5,213.1 612.0,212.8 612.5,213.7 613.0,213.2 613.5,212.6 614.0,212.0 614.5,212.9 615.0,214.5 615.5,216.8 616.0,217.3 616.5,217.4 617.0,217.5 617.5,218.7 618.0,221.1 618.5,220.8 619.0,219.0 619.5,216.5 620.0,216.1 620.5,214.1 621.0,212.1 621.5,210.8 622.0,212.7 622.5,212.0 623.0,210.7 623.5,212.0 624.0,213.9 624.5,214.9 625.0,213.3 625.5,213.9 626.0,216.2 626.5,218.5 627.0,215.9 627.5,215.6 628.0,217.1 628.5,217.8 629.0,215.4 629.5,214.4 630.0,215.1 630.5,216.5 631.0,216.9 631.5,216.8 632.0,216.8 632.5,217.7 633.0,217.8 633.5,217.7 634.0,216.7 634.5,215.8 635.0,216.2 635.5,217.4 636.0,217.6 636.5,217.8 637.0,218.0 637.5,219.5 638.0,218.8 638.5,216.9 639.0,216.8 639.5,216.9 640.0,217.0 640.5,216.6 641.0,215.5 641.5,215.3 642.0,217.6 642.5,217.8 643.0,215.8 643.5,216.4 644.0,217.7 644.5,214.6 645.0,213.5 645.5,217.4 646.0,218.4 646.5,218.1 647.0,217.7 647.5,219.4 648.0,222.5 648.5,225.0 649.0,223.2 649.5,219.8 650.0,216.4 650.5,215.8 651.0,214.4 651.5,211.3 652.0,211.8 652.5,212.3 653.0,216.4 653.5,221.0 654.0,222.5 654.5,223.0 655.0,221.0 655.5,219.5 656.0,219.2 656.5,219.0 657.0,218.7 657.5,216.8 658.0,215.5 658.5,215.7 659.0,218.9 659.5,220.8 660.0,220.7 660.5,220.7 661.0,219.0 661.5,218.6 662.0,218.1 662.5,217.4 663.0,214.3 663.5,212.7 664.0,212.2 664.5,213.8 665.0,217.2 665.5,217.7 666.0,216.8 666.5,217.2 667.0,220.7 667.5,219.5 668.0,218.0 668.5,218.3 669.0,221.4 669.5,220.0 670.0,217.6 670.5,217.5 671.0,217.1 671.5,215.9 672.0,213.4 672.5,210.9 673.0,209.8 673.5,211.7 674.0,213.7 674.5,215.6 675.0,215.2 675.5,215.8 676.0,216.7 676.5,217.5 677.0,216.9 677.5,216.5 678.0,218.2 678.5,219.9 679.0,220.8 679.5,218.8 680.0,217.8 680.5,218.9 681.0,217.5 681.5,215.9 682.0,214.3 682.5,213.8 683.0,214.1 683.5,212.8 684.0,211.2 684.5,211.1 685.0,213.5 685.5,215.8 686.0,216.2 686.5,216.1 687.0,217.3 687.5,218.3 688.0,217.3 688.5,216.2 689.0,216.8 689.5,217.7 690.0,216.6 690.5,216.6 691.0,217.0 691.5,217.5 692.0,217.4" fill="none" stroke="#000" stroke-width="1.2" stroke-linejoin="round"/>
<polyline points="96.0,300.4 96.5,300.7 97.0,300.7 97.5,300.9 98.0,301.5 98.5,301.9 99.0,301.6 99.5,300.9 100.0,300.6 100.5,300.4 101.0,300.3 101.5,300.1 102.0,299.8 102.5,299.4 103.0,299.1 103.5,299.2 104.0,299.4 104.5,299.5 105.0,298.9 105.5,299.5 106.0,299.5 106.5,298.8 107.0,299.1 107.5,299.6 108.0,299.9 108.5,300.0 109.0,299.8 109.5,299.6 110.0,299.6 110.5,300.4 111.0,301.9 111.5,303.1 112.0,303.9 112.5,304.5 113.0,305.1 113.5,305.4 114.0,304.8 114.5,303.1 115.0,300.5 115.5,297.7 116.0,295.2 116.5,293.6 117.0,293.0 117.5,293.1 118.0,293.7 118.5,294.6 119.0,296.2 119.5,298.2 120.0,299.7 120.5,300.6 121.0,302.4 121.5,305.8 122.0,309.8 122.5,312.8 123.0,313.9 123.5,314.1 124.0,314.5 124.5,314.3 125.0,312.2 125.5,309.3 126.0,307.2 126.5,306.0 127.0,304.0 127.5,298.4 128.0,290.8 128.5,283.5 129.0,278.5 129.5,277.1 130.0,278.8 130.5,282.1 131.0,286.8 131.5,292.8 132.0,299.9 132.5,306.1 133.0,309.0 133.5,308.5 134.0,305.5 134.5,301.6 135.0,296.8 135.5,290.9 136.0,285.3 136.5,284.9 137.0,285.6 137.5,286.5 138.0,287.8 138.5,289.7 139.0,293.3 139.5,294.8 140.0,295.1 140.5,295.3 141.0,295.7 141.5,297.0 142.0,298.6 142.5,299.1 143.0,299.5 143.5,299.9 144.0,301.1 144.5,303.1 145.0,305.6 145.5,308.1 146.0,309.8 146.5,310.9 147.0,313.0 147.5,315.4 148.0,317.1 148.5,317.5 149.0,314.9 149.5,309.0 150.0,302.0 150.5,296.1 151.0,293.0 151.5,293.2 152.0,294.0 152.5,294.1 153.0,295.2 153.5,296.4 154.0,295.6 154.5,292.3 155.0,290.5 155.5,289.6 156.0,287.8 156.5,287.9 157.0,292.1 157.5,298.5 158.0,303.5 158.5,306.5 159.0,306.9 159.5,305.0 160.0,302.0 160.5,298.9 161.0,297.1 161.5,299.7 162.0,306.3 162.5,313.9 163.0,319.1 163.5,318.4 164.0,313.1 164.5,305.7 165.0,298.9 165.5,293.3 166.0,289.1 166.5,287.8 167.0,287.6 167.5,287.9 168.0,289.0 168.5,290.7 169.0,292.4 169.5,293.5 170.0,293.9 170.5,294.2 171.0,295.1 171.5,296.4 172.0,297.9 172.5,299.5 173.0,300.8 173.5,301.5 174.0,302.1 174.5,303.2 175.0,305.1 175.5,306.6 176.0,306.5 176.5,304.2 177.0,300.6 177.5,297.2 178.0,291.9 178.5,287.1 179.0,285.5 179.5,286.8 180.0,287.7 180.5,288.9 181.0,291.2 181.5,294.9 182.0,299.4 182.5,303.9 183.0,307.7 183.5,310.0 184.0,313.7 184.5,316.6 185.0,317.3 185.5,316.2 186.0,314.9 186.5,313.7 187.0,312.2 187.5,309.9 188.0,306.6 188.5,302.6 189.0,298.9 189.5,295.0 190.0,290.6 190.5,285.4 191.0,284.3 191.5,288.9 192.0,296.8 192.5,305.0 193.0,310.5 193.5,311.0 194.0,308.3 194.5,304.1 195.0,299.4 195.5,294.7 196.0,290.7 196.5,288.0 197.0,287.1 197.5,287.3 198.0,288.5 198.5,289.9 199.0,292.1 199.5,295.2 200.0,298.9 200.5,303.1 201.0,308.9 201.5,313.7 202.0,315.9 202.5,316.2 203.0,313.7 203.5,309.2 204.0,304.5 204.5,301.6 205.0,302.0 205.5,304.5 206.0,306.8 206.5,307.6 207.0,307.8 207.5,306.7 208.0,305.1 208.5,303.8 209.0,302.8 209.5,301.9 210.0,300.7 210.5,298.3 211.0,297.3 211.5,296.4 212.0,295.0 212.5,292.1 213.0,290.2 213.5,291.0 214.0,293.5 214.5,295.8 215.0,297.1 215.5,298.2 216.0,300.0 216.5,300.2 217.0,298.1 217.5,295.7 218.0,294.4 218.5,294.9 219.0,297.3 219.5,300.3 220.0,302.1 220.5,302.5 221.0,302.7 221.5,302.8 222.0,302.2 222.5,301.0 223.0,299.8 223.5,299.4 224.0,299.2 224.5,298.3 225.0,298.6 225.5,300.4 226.0,302.7 226.5,304.5 227.0,306.1 227.5,308.6 228.0,310.8 228.5,311.5 229.0,310.4 229.5,308.1 230.0,305.4 230.5,303.2 231.0,301.8 231.5,300.4 232.0,299.3 232.5,299.5 233.0,300.9 233.5,301.4 234.0,301.0 234.5,300.3 235.0,300.2 235.5,300.8 236.0,299.5 236.5,297.5 237.0,295.6 237.5,294.3 238.0,293.8 238.5,293.7 239.0,293.7 239.5,293.3 240.0,292.9 240.5,293.3 241.0,295.1 241.5,296.1 242.0,296.3 242.5,296.5 243.0,297.1 243.5,298.2 244.0,299.3 244.5,300.1 245.0,300.6 245.5,301.2 246.0,302.4 246.5,304.1 247.0,304.5 247.5,304.4 248.0,305.5 248.5,305.8 249.0,305.0 249.5,304.9 250.0,305.6 250.5,305.5 251.0,305.0 251.5,304.5 252.0,304.6 252.5,305.6 253.0,305.6 253.5,303.7 254.0,301.8 254.5,299.8 255.0,297.8 255.5,296.2 256.0,295.3 256.5,295.6 257.0,296.8 257.5,298.2 258.0,298.8 258.5,299.1 259.0,299.3 259.5,299.5 260.0,298.4 260.5,298.2 261.0,298.6 261.5,298.8 262.0,298.6 262.5,298.6 263.0,299.2 263.5,300.3 264.0,301.5 264.5,302.4 265.0,302.6 265.5,302.6 266.0,302.5 266.5,301.8 267.0,300.5 267.5,299.0 268.0,298.1 268.5,298.7 269.0,300.6 269.5,302.9 270.0,304.4 270.5,304.2 271.0,302.9 271.5,301.9 272.0,300.7 272.5,299.2 273.0,297.1 273.5,296.3 274.0,296.2 274.5,295.4 275.0,295.2 275.5,297.2 276.0,297.8 276.5,298.7 277.0,300.5 277.5,301.9 278.0,302.1 278.5,303.9 279.0,304.7 279.5,305.0 280.0,304.8 280.5,304.2 281.0,303.3 281.5,302.1 282.0,300.7 282.5,299.0 283.0,297.2 283.5,295.6 284.0,294.4 284.5,293.9 285.0,294.1 285.5,294.3 286.0,293.9 286.5,294.3 287.0,294.8 287.5,294.7 288.0,294.3 288.5,295.7 289.0,298.1 289.5,299.6 290.0,300.9 290.5,304.1 291.0,306.1 291.5,307.3 292.0,308.6 292.5,308.7 293.0,308.0 293.5,307.3 294.0,306.7 294.5,306.0 295.0,305.1 295.5,303.6 296.0,301.6 296.5,300.3 297.0,299.6 297.5,299.2 298.0,298.7 298.5,298.2 299.0,297.9 299.5,297.8 300.0,298.2 300.5,299.1 301.0,300.0 301.5,300.4 302.0,300.5 302.5,300.5 303.0,300.9 303.5,301.7 304.0,302.0 304.5,301.7 305.0,301.2 305.5,300.8 306.0,300.7 306.5,300.8 307.0,300.0 307.5,299.8 308.0,299.9 308.5,299.6 309.0,298.8 309.5,297.9 310.0,297.6 310.5,297.8 311.0,298.1 311.5,297.7 312.0,297.2 312.5,297.2 313.0,297.9 313.5,298.9 314.0,299.8 314.5,300.5 315.0,301.2 315.5,301.9 316.0,302.6 316.5,303.3 317.0,303.6 317.5,303.7 318.0,303.2 318.5,302.8 319.0,303.1 319.5,303.6 320.0,304.1 320.5,304.0 321.0,303.1 321.5,303.1 322.0,303.7 322.5,303.8 323.0,303.1 323.5,304.1 324.0,303.1 324.5,301.7 325.0,300.9 325.5,300.5 326.0,300.0 326.5,299.4 327.0,299.2 327.5,299.6 328.0,300.3 328.5,300.8 329.0,300.2 329.5,300.7 330.0,301.4 330.5,301.6 331.0,301.0 331.5,300.1 332.0,299.1 332.5,298.4 333.0,298.1 333.5,297.3 334.0,295.5 334.5,295.2 335.0,295.3 335.5,295.1 336.0,294.6 336.5,294.4 337.0,295.1 337.5,296.5 338.0,298.2 338.5,299.9 339.0,301.0 339.5,302.2 340.0,304.0 340.5,306.0 341.0,307.4 341.5,307.9 342.0,307.6 342.5,307.2 343.0,306.6 343.5,305.7 344.0,304.4 344.5,302.8 345.0,301.1 345.5,299.6 346.0,299.1 346.5,299.5 347.0,299.2 347.5,299.7 348.0,300.4 348.5,300.1 349.0,299.7 349.5,299.6 350.0,299.6 350.5,299.6 351.0,299.4 351.5,298.3 352.0,297.6 352.5,297.8 353.0,297.1 353.5,296.3 354.0,295.7 354.5,295.8 355.0,296.4 355.5,296.3 356.0,296.5 356.5,297.7 357.0,299.1 357.5,300.4 358.0,301.4 358.5,302.3 359.0,303.4 359.5,304.8 360.0,306.1 360.5,307.1 361.0,307.4 361.5,307.3 362.0,306.8 362.5,306.6 363.0,304.7 363.5,303.7 364.0,302.7 364.5,301.6 365.0,299.9 365.5,298.5 366.0,297.8 366.5,297.6 367.0,297.7 367.5,297.6 368.0,297.5 368.5,298.2 369.0,299.0 369.5,299.4 370.0,299.8 370.5,300.4 371.0,301.7 371.5,302.3 372.0,302.4 372.5,303.0 373.0,303.5 373.5,302.3 374.0,302.0 374.5,300.8 375.0,299.3 375.5,297.8 376.0,297.0 376.5,295.4 377.0,294.1 377.5,293.3 378.0,293.1 378.5,293.3 379.0,294.0 379.5,295.0 380.0,296.6 380.5,299.5 381.0,301.2 381.5,302.9 382.0,305.5 382.5,306.7 383.0,306.9 383.5,306.4 384.0,305.9 384.5,306.0 385.0,306.0 385.5,304.5 386.0,304.1 386.5,304.0 387.0,303.2 387.5,301.8 388.0,301.1 388.5,300.8 389.0,300.6 389.5,300.2 390.0,299.7 390.5,299.2 391.0,298.7 391.5,298.5 392.0,298.7 392.5,298.9 393.0,298.9 393.5,298.2 394.0,298.3 394.5,298.6 395.0,298.7 395.5,297.6 396.0,297.4 396.5,297.7 397.0,297.9 397.5,297.8 398.0,297.6 398.5,298.1 399.0,298.0 399.5,297.5 400.0,297.1 400.5,297.2 401.0,297.5 401.5,297.9 402.0,298.2 402.5,298.5 403.0,298.8 403.5,299.3 404.0,300.9 404.5,301.4 405.0,301.8 405.5,302.4 406.0,302.5 406.5,302.3 407.0,302.1 407.5,302.1 408.0,302.3 408.5,302.2 409.0,301.9 409.5,301.4 410.0,300.9 410.5,300.5 411.0,300.5 411.5,300.5 412.0,300.3 412.5,299.2 413.0,299.9 413.5,300.3 414.0,300.1 414.5,301.1 415.0,302.0 415.5,301.7 416.0,301.6 416.5,301.9 417.0,302.0 417.5,301.3 418.0,301.3 418.5,301.7 419.0,301.5 419.5,300.6 420.0,300.6 420.5,301.0 421.0,300.2 421.5,299.3 422.0,299.4 422.5,299.7 423.0,299.4 423.5,298.9 424.0,298.5 424.5,298.3 425.0,298.7 425.5,299.0 426.0,299.0 426.5,298.8 427.0,298.8 427.5,299.5 428.0,299.9 428.5,299.6 429.0,299.6 429.5,300.7 430.0,300.1 430.5,300.9 431.0,301.8 431.5,301.2 432.0,301.6 432.5,302.3 433.0,302.8 433.5,302.9 434.0,302.5 434.5,302.1 435.0,302.0 435.5,302.3 436.0,301.9 436.5,300.8 437.0,300.8 437.5,300.6 438.0,300.0 438.5,299.4 439.0,299.2 439.5,299.5 440.0,299.5 440.5,299.1 441.0,298.8 441.5,298.6 442.0,298.7 442.5,299.2 443.0,299.7 443.5,300.2 444.0,300.4 444.5,300.4 445.0,300.6 445.5,301.5 446.0,301.9 446.5,301.8 447.0,301.7 447.5,301.9 448.0,302.7 448.5,302.5 449.0,301.9 449.5,301.4 450.0,301.4 450.5,301.6 451.0,301.2 451.5,300.6 452.0,300.5 452.5,300.5 453.0,300.5 453.5,300.1 454.0,299.5 454.5,298.9 455.0,298.8 455.5,299.0 456.0,299.2 456.5,298.6 457.0,298.1 457.5,298.7 458.0,299.3 458.5,298.9 459.0,299.3 459.5,299.8 460.0,300.4 460.5,300.8 461.0,300.9 461.5,301.1 462.0,301.9 462.5,302.3 463.0,302.3 463.5,302.9 464.0,303.5 464.5,302.8 465.0,302.4 465.5,302.5 466.0,302.6 466.5,302.1 467.0,301.1 467.5,300.8 468.0,301.3 468.5,301.2 469.0,300.9 469.5,300.8 470.0,301.2 470.5,301.9 471.0,302.1 471.5,301.7 472.0,301.4 472.5,301.2 473.0,301.1 473.5,300.8 474.0,299.8 474.5,298.3 475.0,297.9 475.5,297.9 476.0,297.6 476.5,297.3 477.0,297.1 477.5,297.4 478.0,298.1 478.5,298.7 479.0,299.0 479.5,299.0 480.0,299.4 480.5,299.9 481.0,300.4 481.5,300.9 482.0,301.2 482.5,301.2 483.0,301.2 483.5,301.5 484.0,302.0 484.5,302.3 485.0,302.1 485.5,301.7 486.0,301.5 486.5,301.5 487.0,301.6 487.5,301.5 488.0,301.2 488.5,300.8 489.0,300.4 489.5,300.1 490.0,300.2 490.5,300.4 491.0,300.5 491.5,300.1 492.0,299.1 492.5,298.5 493.0,298.5 493.5,298.9 494.0,299.3 494.5,298.4 495.0,297.8 495.5,298.8 496.0,299.7 496.5,298.5 497.0,297.6 497.5,299.6 498.0,301.0 498.5,301.2 499.0,301.1 499.5,301.3 500.0,302.1 500.5,303.6 501.0,305.0 501.5,305.5 502.0,305.6 502.5,306.3 503.0,307.4 503.5,308.2 504.0,306.3 504.5,306.0 505.0,305.1 505.5,302.5 506.0,301.0 506.5,300.9 507.0,301.4 507.5,300.8 508.0,298.9 508.5,298.0 509.0,298.1 509.5,298.3 510.0,298.1 510.5,297.3 511.0,296.6 511.5,296.6 512.0,297.4 512.5,297.9 513.0,297.8 513.5,297.7 514.0,298.0 514.5,299.1 515.0,300.1 515.5,300.4 516.0,298.7 516.5,297.6 517.0,298.2 517.5,298.9 518.0,298.7 518.5,297.9 519.0,296.9 519.5,296.3 520.0,296.6 520.5,297.0 521.0,296.4 521.5,296.1 522.0,297.1 522.5,298.7 523.0,300.5 523.5,301.0 524.0,301.4 524.5,302.4 525.0,300.8 525.5,300.1 526.0,301.1 526.5,301.7 527.0,302.7 527.5,305.7 528.0,305.9 528.5,304.8 529.0,303.3 529.5,302.2 530.0,302.1 530.5,302.6 531.0,303.2 531.5,303.0 532.0,299.9 532.5,299.6 533.0,299.9 533.5,300.1 534.0,299.7 534.5,298.7 535.0,297.5 535.5,296.6 536.0,297.1 536.5,298.3 537.0,297.5 537.5,297.5 538.0,300.8 538.5,301.7 539.0,301.0 539.5,300.0 540.0,299.3 540.5,299.2 541.0,299.7 541.5,300.4 542.0,300.3 542.5,299.5 543.0,300.2 543.5,302.1 544.0,303.0 544.5,301.9 545.0,299.8 545.5,298.3 546.0,298.4 546.5,298.7 547.0,297.7 547.5,296.5 548.0,296.3 548.5,297.6 549.0,297.3 549.5,296.1 550.0,297.7 550.5,299.9 551.0,300.9 551.5,299.0 552.0,300.9 552.5,301.5 553.0,301.8 553.5,302.4 554.0,303.5 554.5,305.0 555.0,306.5 555.5,307.4 556.0,306.1 556.5,302.1 557.0,297.7 557.5,295.0 558.0,294.6 558.5,295.7 559.0,296.4 559.5,296.8 560.0,297.9 560.5,299.8 561.0,301.7 561.5,303.1 562.0,303.5 562.5,302.4 563.0,303.7 563.5,306.9 564.0,307.9 564.5,307.9 565.0,310.0 565.5,312.7 566.0,314.8 566.5,315.2 567.0,312.2 567.5,307.4 568.0,304.7 568.5,300.1 569.0,294.7 569.5,289.7 570.0,286.1 570.5,285.6 571.0,285.2 571.5,288.5 572.0,294.8 572.5,302.0 573.0,307.8 573.5,311.4 574.0,311.7 574.5,308.1 575.0,303.2 575.5,297.7 576.0,292.5 576.5,290.0 577.0,289.3 577.5,289.4 578.0,289.3 578.5,287.9 579.0,285.7 579.5,284.0 580.0,284.3 580.5,286.8 581.0,287.5 581.5,289.4 582.0,293.3 582.5,297.4 583.0,300.5 583.5,301.5 584.0,300.7 584.5,299.9 585.0,299.8 585.5,300.0 586.0,300.2 586.5,301.4 587.0,304.6 587.5,308.9 588.0,314.3 588.5,318.7 589.0,319.6 589.5,318.0 590.0,315.5 590.5,313.5 591.0,311.0 591.5,306.7 592.0,301.9 592.5,299.1 593.0,298.7 593.5,299.6 594.0,302.0 594.5,304.3 595.0,304.5 595.5,298.9 596.0,290.7 596.5,285.1 597.0,284.6 597.5,284.4 598.0,285.1 598.5,287.0 599.0,289.7 599.5,292.4 600.0,294.6 600.5,295.4 601.0,296.8 601.5,299.5 602.0,302.7 602.5,305.8 603.0,308.8 603.5,311.6 604.0,314.8 604.5,318.0 605.0,319.1 605.5,317.2 606.0,311.6 606.5,308.3 607.0,305.5 607.5,299.9 608.0,294.3 608.5,290.6 609.0,289.1 609.5,289.2 610.0,289.8 610.5,290.3 611.0,292.6 611.5,296.9 612.0,300.1 612.5,301.7 613.0,302.5 613.5,304.2 614.0,304.1 614.5,302.5 615.0,302.2 615.5,301.7 616.0,299.9 616.5,297.6 617.0,295.6 617.5,294.7 618.0,295.0 618.5,296.0 619.0,296.5 619.5,295.5 620.0,294.3 620.5,294.7 621.0,295.4 621.5,296.8 622.0,298.9 622.5,300.6 623.0,302.9 623.5,306.6 624.0,310.7 624.5,314.1 625.0,315.3 625.5,316.1 626.0,317.2 626.5,317.1 627.0,315.0 627.5,310.4 628.0,306.3 628.5,304.2 629.0,301.5 629.5,298.1 630.0,297.7 630.5,296.6 631.0,293.1 631.5,291.1 632.0,290.6 632.5,290.6 633.0,292.5 633.5,296.9 634.0,303.1 634.5,307.9 635.0,308.2 635.5,305.1 636.0,300.5 636.5,295.7 637.0,291.0 637.5,285.7 638.0,280.7 638.5,279.6 639.0,281.0 639.5,282.8 640.0,283.1 640.5,282.7 641.0,286.3 641.5,293.1 642.0,300.8 642.5,307.1 643.0,310.5 643.5,311.1 644.0,312.2 644.5,312.7 645.0,312.1 645.5,311.5 646.0,311.8 646.5,312.7 647.0,312.6 647.5,312.1 648.0,311.0 648.5,309.5 649.0,308.2 649.5,307.0 650.0,305.0 650.5,302.6 651.0,300.6 651.5,300.1 652.0,300.6 652.5,301.2 653.0,300.6 653.5,299.1 654.0,299.0 654.5,300.2 655.0,299.5 655.5,298.0 656.0,296.3 656.5,295.3 657.0,295.0 657.5,295.1 658.0,294.4 658.5,292.1 659.0,291.5 659.5,292.7 660.0,293.9 660.5,292.8 661.0,291.5 661.5,294.6 662.0,293.6 662.5,295.4 663.0,296.7 663.5,296.2 664.0,296.0 664.5,297.0 665.0,299.1 665.5,301.8 666.0,304.6 666.5,306.5 667.0,307.9 667.5,310.7 668.0,314.3 668.5,314.1 669.0,314.1 669.5,314.7 670.0,313.9 670.5,310.9 671.0,306.5 671.5,304.7 672.0,303.6 672.5,302.3 673.0,301.6 673.5,301.1 674.0,301.2 674.5,302.5 675.0,303.7 675.5,303.3 676.0,301.6 676.5,300.7 677.0,300.1 677.5,299.3 678.0,297.7 678.5,295.0 679.0,291.8 679.5,290.9 680.0,292.9 680.5,292.6 681.0,291.6 681.5,291.3 682.0,292.0 682.5,293.0 683.0,293.0 683.5,292.3 684.0,291.8 684.5,292.2 685.0,293.1 685.5,294.2 686.0,294.5 686.5,294.8 687.0,298.1 687.5,298.9 688.0,299.1 688.5,299.3 689.0,300.2 689.5,302.5 690.0,305.2 690.5,306.6 691.0,307.1 691.5,309.1 692.0,311.7" fill="none" stroke="#000" stroke-width="1.2" stroke-linejoin="round"/>
<polyline points="96.0,339.3 96.5,339.3 97.0,339.3 97.5,339.3 98.0,339.1 98.5,338.8 99.0,338.4 99.5,338.4 100.0,338.6 100.5,338.7 101.0,338.1 101.5,338.1 102.0,338.2 102.5,337.3 103.0,337.3 103.5,337.4 104.0,337.5 104.5,337.2 105.0,336.9 105.5,337.2 106.0,337.5 106.5,337.6 107.0,338.9 107.5,340.9 108.0,342.5 108.5,343.7 109.0,344.7 109.5,345.6 110.0,346.2 110.5,346.3 111.0,345.5 111.5,343.9 112.0,342.1 112.5,340.6 113.0,339.2 113.5,337.5 114.0,335.6 114.5,334.4 115.0,334.6 115.5,336.4 116.0,338.2 116.5,340.6 117.0,343.4 117.5,346.7 118.0,350.2 118.5,351.8 119.0,352.2 119.5,353.3 120.0,350.2 120.5,343.9 121.0,339.2 121.5,332.2 122.0,324.6 122.5,319.4 123.0,318.8 123.5,318.1 124.0,321.0 124.5,326.6 125.0,332.7 125.5,338.4 126.0,343.8 126.5,349.6 127.0,353.4 127.5,353.3 128.0,350.8 128.5,347.0 129.0,340.8 129.5,333.7 130.0,328.5 130.5,326.5 131.0,328.0 131.5,331.2 132.0,333.7 132.5,337.5 133.0,342.3 133.5,345.5 134.0,344.4 134.5,342.6 135.0,339.5 135.5,335.8 136.0,332.2 136.5,329.7 137.0,330.7 137.5,337.2 138.0,345.4 138.5,352.2 139.0,356.5 139.5,357.0 140.0,357.5 140.5,355.4 141.0,351.6 141.5,346.9 142.0,342.4 142.5,338.9 143.0,335.9 143.5,332.1 144.0,328.2 144.5,325.1 145.0,324.3 145.5,326.1 146.0,329.4 146.5,333.8 147.0,340.3 147.5,347.1 148.0,352.4 148.5,354.5 149.0,352.9 149.5,348.9 150.0,343.8 150.5,339.0 151.0,335.1 151.5,331.9 152.0,329.2 152.5,327.8 153.0,329.2 153.5,334.0 154.0,338.0 154.5,340.2 155.0,340.8 155.5,342.5 156.0,340.8 156.5,337.8 157.0,336.5 157.5,335.4 158.0,333.8 158.5,332.5 159.0,332.0 159.5,333.1 160.0,335.7 160.5,339.3 161.0,343.0 161.5,346.4 162.0,349.5 162.5,352.3 163.0,354.9 163.5,356.6 164.0,356.8 164.5,355.5 165.0,352.0 165.5,350.3 166.0,347.3 166.5,344.0 167.0,342.2 167.5,341.2 168.0,340.0 168.5,337.4 169.0,334.7 169.5,333.7 170.0,333.1 170.5,330.7 171.0,329.1 171.5,329.5 172.0,327.2 172.5,325.7 173.0,325.9 173.5,323.6 174.0,323.2 174.5,321.9 175.0,319.5 175.5,319.3 176.0,319.0 176.5,317.9 177.0,317.7 177.5,319.2 178.0,322.7 178.5,326.4 179.0,333.7 179.5,342.5 180.0,349.4 180.5,355.0 181.0,359.6 181.5,363.5 182.0,366.0 182.5,363.4 183.0,356.7 183.5,348.3 184.0,340.5 184.5,334.4 185.0,330.0 185.5,329.1 186.0,331.5 186.5,336.8 187.0,342.6 187.5,344.9 188.0,345.2 188.5,345.1 189.0,344.1 189.5,341.6 190.0,337.6 190.5,334.7 191.0,332.0 191.5,329.5 192.0,327.2 192.5,325.0 193.0,325.1 193.5,329.6 194.0,336.8 194.5,344.4 195.0,350.0 195.5,351.8 196.0,351.1 196.5,349.4 197.0,346.7 197.5,343.0 198.0,338.5 198.5,334.8 199.0,332.9 199.5,332.4 200.0,332.2 200.5,331.9 201.0,332.9 201.5,334.5 202.0,336.1 202.5,336.9 203.0,335.6 203.5,332.7 204.0,331.5 204.5,329.8 205.0,327.1 205.5,325.0 206.0,324.8 206.5,326.8 207.0,330.5 207.5,335.1 208.0,339.9 208.5,344.4 209.0,348.7 209.5,352.3 210.0,353.9 210.5,352.6 211.0,349.5 211.5,347.2 212.0,342.5 212.5,336.6 213.0,334.3 213.5,331.8 214.0,330.0 214.5,331.6 215.0,334.0 215.5,335.2 216.0,336.3 216.5,337.4 217.0,338.5 217.5,339.2 218.0,338.6 218.5,336.3 219.0,335.7 219.5,335.6 220.0,334.1 220.5,333.2 221.0,334.3 221.5,336.4 222.0,338.7 222.5,340.9 223.0,342.9 223.5,344.9 224.0,346.6 224.5,347.2 225.0,346.7 225.5,345.1 226.0,345.6 226.5,345.8 227.0,344.3 227.5,341.9 228.0,340.0 228.5,338.3 229.0,336.4 229.5,333.8 230.0,330.8 230.5,328.1 231.0,326.3 231.5,325.6 232.0,326.2 232.5,327.5 233.0,329.1 233.5,330.2 234.0,332.4 234.5,336.0 235.0,338.6 235.5,340.8 236.0,343.1 236.5,345.3 237.0,347.3 237.5,348.4 238.0,348.1 238.5,347.0 239.0,346.1 239.5,344.8 240.0,342.9 240.5,341.0 241.0,340.0 241.5,340.4 242.0,339.6 242.5,338.2 243.0,337.7 243.5,337.7 244.0,337.8 244.5,337.2 245.0,337.4 245.5,337.8 246.0,337.7 246.5,338.5 247.0,339.5 247.5,340.3 248.0,340.6 248.5,340.7 249.0,341.1 249.5,341.9 250.0,342.7 250.5,343.0 251.0,342.6 251.5,341.6 252.0,340.5 252.5,340.0 253.0,340.0 253.5,339.3 254.0,337.1 254.5,334.3 255.0,332.3 255.5,331.0 256.0,330.6 256.5,330.7 257.0,331.1 257.5,332.4 258.0,334.9 258.5,337.6 259.0,339.5 259.5,341.1 260.0,342.4 260.5,343.8 261.0,345.5 261.5,344.9 262.0,343.8 262.5,342.1 263.0,340.1 263.5,338.2 264.0,336.2 264.5,337.1 265.0,339.7 265.5,342.4 266.0,344.2 266.5,346.4 267.0,347.1 267.5,345.6 268.0,342.1 268.5,339.0 269.0,336.7 269.5,335.7 270.0,335.8 270.5,337.3 271.0,338.3 271.5,339.1 272.0,340.3 272.5,342.2 273.0,343.7 273.5,343.8 274.0,343.9 274.5,343.8 275.0,343.4 275.5,342.4 276.0,340.5 276.5,338.4 277.0,337.1 277.5,335.9 278.0,334.6 278.5,333.4 279.0,332.6 279.5,332.7 280.0,333.6 280.5,334.4 281.0,334.6 281.5,334.9 282.0,335.8 282.5,336.7 283.0,337.3 283.5,338.0 284.0,338.7 284.5,339.5 285.0,340.3 285.5,341.2 286.0,341.8 286.5,341.7 287.0,341.3 287.5,341.7 288.0,341.9 288.5,341.3 289.0,340.2 289.5,339.1 290.0,338.8 290.5,339.5 291.0,339.9 291.5,340.0 292.0,340.1 292.5,340.5 293.0,341.4 293.5,342.0 294.0,341.7 294.5,340.0 295.0,339.0 295.5,339.2 296.0,338.0 296.5,336.4 297.0,335.2 297.5,335.1 298.0,336.1 298.5,337.1 299.0,338.0 299.5,339.2 300.0,340.8 300.5,341.5 301.0,340.2 301.5,340.0 302.0,339.7 302.5,338.6 303.0,337.0 303.5,335.9 304.0,335.4 304.5,334.8 305.0,334.0 305.5,334.5 306.0,337.0 306.5,339.9 307.0,341.9 307.5,342.0 308.0,341.3 308.5,341.0 309.0,340.8 309.5,339.3 310.0,337.8 310.5,337.2 311.0,337.1 311.5,337.3 312.0,337.9 312.5,338.7 313.0,339.7 313.5,341.3 314.0,342.5 314.5,342.8 315.0,342.6 315.5,342.4 316.0,342.7 316.5,341.8 317.0,340.5 317.5,339.6 318.0,338.9 318.5,338.3 319.0,337.6 319.5,336.5 320.0,335.5 320.5,335.4 321.0,336.0 321.5,335.9 322.0,335.8 322.5,337.2 323.0,338.0 323.5,338.0 324.0,339.1 324.5,340.7 325.0,341.9 325.5,342.6 326.0,343.0 326.5,343.2 327.0,343.4 327.5,344.3 328.0,344.4 328.5,342.6 329.0,341.2 329.5,339.8 330.0,337.8 330.5,335.9 331.0,334.2 331.5,333.2 332.0,332.9 332.5,333.1 333.0,333.4 333.5,333.8 334.0,334.5 334.5,335.8 335.0,337.8 335.5,339.0 336.0,339.3 336.5,339.3 337.0,339.6 337.5,341.0 338.0,340.7 338.5,340.8 339.0,341.3 339.5,341.8 340.0,342.0 340.5,341.9 341.0,341.6 341.5,341.6 342.0,342.1 342.5,341.6 343.0,340.5 343.5,339.2 344.0,338.1 344.5,337.3 345.0,336.6 345.5,335.9 346.0,334.7 346.5,334.6 347.0,335.4 347.5,336.5 348.0,337.6 348.5,338.1 349.0,338.4 349.5,338.7 350.0,339.5 350.5,340.4 351.0,340.8 351.5,340.4 352.0,340.0 352.5,340.5 353.0,341.4 353.5,341.2 354.0,340.4 354.5,340.2 355.0,340.5 355.5,340.0 356.0,338.9 356.5,338.3 357.0,338.2 357.5,337.8 358.0,336.4 358.5,336.7 359.0,336.4 359.5,335.4 360.0,334.7 360.5,334.8 361.0,335.3 361.5,335.4 362.0,335.5 362.5,336.1 363.0,337.5 363.5,338.8 364.0,339.6 364.5,340.0 365.0,340.6 365.5,341.4 366.0,342.1 366.5,342.4 367.0,342.1 367.5,341.4 368.0,340.5 368.5,339.6 369.0,339.4 369.5,338.9 370.0,337.7 370.5,336.4 371.0,335.6 371.5,335.7 372.0,334.7 372.5,334.3 373.0,334.5 373.5,335.2 374.0,336.0 374.5,336.7 375.0,337.3 375.5,338.1 376.0,339.2 376.5,340.2 377.0,340.7 377.5,340.5 378.0,340.1 378.5,340.2 379.0,341.0 379.5,341.4 380.0,341.0 380.5,340.5 381.0,340.6 381.5,341.0 382.0,341.2 382.5,340.8 383.0,339.9 383.5,339.4 384.0,339.2 384.5,338.9 385.0,338.1 385.5,337.9 386.0,338.0 386.5,338.2 387.0,338.2 387.5,338.0 388.0,338.1 388.5,338.7 389.0,339.5 389.5,340.0 390.0,340.0 390.5,339.6 391.0,339.5 391.5,339.4 392.0,339.3 392.5,339.0 393.0,338.7 393.5,338.5 394.0,338.4 394.5,338.5 395.0,338.7 395.5,338.9 396.0,339.0 396.5,338.8 397.0,338.5 397.5,338.4 398.0,338.9 398.5,339.4 399.0,339.1 399.5,338.8 400.0,339.4 400.5,339.7 401.0,339.8 401.5,340.3 402.0,340.8 402.5,341.2 403.0,341.0 403.5,340.4 404.0,340.2 404.5,340.2 405.0,339.9 405.5,339.2 406.0,338.1 406.5,337.8 407.0,337.9 407.5,338.2 408.0,338.2 408.5,337.6 409.0,337.8 409.5,338.0 410.0,338.1 410.5,337.8 411.0,337.8 411.5,337.9 412.0,338.0 412.5,337.9 413.0,337.6 413.5,337.8 414.0,338.1 414.5,338.4 415.0,338.3 415.5,338.0 416.0,338.0 416.5,338.3 417.0,338.5 417.5,338.5 418.0,337.9 418.5,337.6 419.0,338.4 419.5,338.6 420.0,338.0 420.5,338.1 421.0,338.9 421.5,338.9 422.0,339.0 422.5,339.9 423.0,340.8 423.5,341.1 424.0,341.3 424.5,342.0 425.0,342.7 425.5,342.7 426.0,342.5 426.5,342.7 427.0,342.8 427.5,342.5 428.0,341.7 428.5,340.7 429.0,339.6 429.5,338.7 430.0,338.1 430.5,337.5 431.0,336.7 431.5,335.9 432.0,335.3 432.5,335.4 433.0,335.9 433.5,336.4 434.0,336.6 434.5,336.7 435.0,337.2 435.5,338.0 436.0,338.9 436.5,339.6 437.0,339.9 437.5,339.9 438.0,340.7 438.5,340.9 439.0,340.4 439.5,340.2 440.0,340.4 440.5,340.1 441.0,339.2 441.5,338.9 442.0,338.8 442.5,338.6 443.0,338.2 443.5,337.1 444.0,336.8 444.5,337.0 445.0,337.1 445.5,337.0 446.0,336.9 446.5,337.0 447.0,337.6 447.5,338.5 448.0,339.4 448.5,339.3 449.0,339.5 449.5,340.2 450.0,340.9 450.5,341.4 451.0,341.3 451.5,340.3 452.0,340.2 452.5,340.3 453.0,339.4 453.5,338.6 454.0,338.4 454.5,338.5 455.0,337.6 455.5,337.3 456.0,337.6 456.5,337.9 457.0,338.0 457.5,337.9 458.0,337.6 458.5,337.5 459.0,337.7 459.5,338.0 460.0,338.1 460.5,337.3 461.0,337.6 461.5,338.1 462.0,338.5 462.5,338.5 463.0,338.1 463.5,338.1 464.0,339.1 464.5,339.3 465.0,339.4 465.5,340.0 466.0,340.5 466.5,340.8 467.0,340.4 467.5,340.7 468.0,341.1 468.5,341.5 469.0,341.4 469.5,341.0 470.0,340.3 470.5,339.7 471.0,339.4 471.5,339.3 472.0,339.1 472.5,338.9 473.0,338.0 473.5,338.4 474.0,338.8 474.5,338.7 475.0,338.5 475.5,338.5 476.0,339.1 476.5,339.9 477.0,340.1 477.5,339.9 478.0,339.8 478.5,340.1 479.0,340.7 479.5,340.8 480.0,340.2 480.5,339.3 481.0,338.4 481.5,337.8 482.0,337.5 482.5,337.3 483.0,337.0 483.5,336.5 484.0,336.0 484.5,335.8 485.0,336.5 485.5,337.1 486.0,337.4 486.5,337.7 487.0,338.1 487.5,338.8 488.0,339.5 488.5,339.9 489.0,339.7 489.5,339.2 490.0,338.8 490.5,338.9 491.0,339.2 491.5,338.9 492.0,338.0 492.5,338.5 493.0,338.3 493.5,337.7 494.0,337.0 494.5,336.7 495.0,337.2 495.5,337.2 496.0,336.5 496.5,337.5 497.0,339.1 497.5,339.7 498.0,339.7 498.5,339.9 499.0,341.5 499.5,343.8 500.0,343.4 500.5,342.8 501.0,344.0 501.5,343.0 502.0,341.1 502.5,340.6 503.0,340.8 503.5,339.6 504.0,337.7 504.5,336.1 505.0,335.9 505.5,336.7 506.0,336.3 506.5,335.0 507.0,336.8 507.5,337.3 508.0,336.5 508.5,336.7 509.0,338.4 509.5,338.2 510.0,337.7 510.5,337.1 511.0,336.9 511.5,337.2 512.0,337.5 512.5,337.2 513.0,336.3 513.5,335.2 514.0,334.3 514.5,334.1 515.0,334.7 515.5,335.9 516.0,336.9 516.5,337.4 517.0,337.8 517.5,338.6 518.0,340.2 518.5,342.2 519.0,343.3 519.5,342.5 520.0,341.6 520.5,344.1 521.0,343.0 521.5,341.2 522.0,341.4 522.5,341.9 523.0,341.5 523.5,340.5 524.0,341.0 524.5,344.0 525.0,342.9 525.5,340.5 526.0,338.4 526.5,339.5 527.0,339.3 527.5,340.5 528.0,342.3 528.5,343.5 529.0,343.8 529.5,343.9 530.0,343.1 530.5,341.2 531.0,341.7 531.5,342.1 532.0,340.9 532.5,338.8 533.0,336.6 533.5,335.1 534.0,334.1 534.5,332.7 535.0,331.7 535.5,332.6 536.0,334.3 536.5,335.1 537.0,335.4 537.5,336.1 538.0,337.8 538.5,339.9 539.0,341.4 539.5,341.5 540.0,339.6 540.5,337.2 541.0,336.5 541.5,337.6 542.0,337.4 542.5,336.3 543.0,335.9 543.5,336.6 544.0,337.8 544.5,338.6 545.0,338.5 545.5,337.5 546.0,336.7 546.5,337.1 547.0,338.5 547.5,339.8 548.0,338.9 548.5,337.9 549.0,339.2 549.5,341.2 550.0,343.3 550.5,344.3 551.0,344.4 551.5,345.2 552.0,345.9 552.5,346.0 553.0,344.8 553.5,342.0 554.0,339.1 554.5,337.5 555.0,337.1 555.5,337.4 556.0,337.7 556.5,337.0 557.0,338.8 557.5,343.3 558.0,345.4 558.5,346.7 559.0,348.2 559.5,350.9 560.0,351.7 560.5,350.5 561.0,350.2 561.5,346.7 562.0,339.5 562.5,331.3 563.0,323.8 563.5,318.7 564.0,317.0 564.5,318.3 565.0,321.0 565.5,324.2 566.0,328.7 566.5,334.8 567.0,341.7 567.5,347.6 568.0,351.1 568.5,351.6 569.0,349.3 569.5,345.4 570.0,343.4 570.5,337.6 571.0,331.4 571.5,326.5 572.0,325.1 572.5,326.3 573.0,325.9 573.5,325.2 574.0,326.0 574.5,327.9 575.0,329.8 575.5,330.8 576.0,331.3 576.5,333.2 577.0,337.8 577.5,343.9 578.0,348.7 578.5,351.8 579.0,352.8 579.5,352.3 580.0,352.9 580.5,353.6 581.0,351.6 581.5,349.0 582.0,346.5 582.5,345.4 583.0,344.6 583.5,340.6 584.0,337.9 584.5,335.7 585.0,331.8 585.5,328.0 586.0,325.5 586.5,325.6 587.0,328.3 587.5,332.3 588.0,335.6 588.5,338.0 589.0,342.7 589.5,347.5 590.0,349.8 590.5,350.3 591.0,349.4 591.5,348.1 592.0,343.7 592.5,337.9 593.0,334.9 593.5,333.7 594.0,333.2 594.5,331.3 595.0,333.6 595.5,336.8 596.0,338.7 596.5,337.8 597.0,339.1 597.5,340.1 598.0,340.3 598.5,339.2 599.0,336.9 599.5,334.4 600.0,332.5 600.5,332.0 601.0,331.9 601.5,329.2 602.0,328.6 602.5,331.7 603.0,334.9 603.5,339.7 604.0,346.0 604.5,350.9 605.0,349.2 605.5,343.6 606.0,339.9 606.5,337.7 607.0,337.0 607.5,338.7 608.0,343.0 608.5,348.0 609.0,351.0 609.5,350.9 610.0,348.7 610.5,345.4 611.0,342.1 611.5,339.6 612.0,339.6 612.5,340.2 613.0,340.9 613.5,342.1 614.0,343.8 614.5,346.3 615.0,347.9 615.5,344.6 616.0,336.9 616.5,327.8 617.0,320.5 617.5,317.4 618.0,318.4 618.5,320.5 619.0,323.2 619.5,328.7 620.0,336.9 620.5,342.3 621.0,346.1 621.5,348.7 622.0,350.7 622.5,351.4 623.0,349.2 623.5,346.3 624.0,344.5 624.5,343.3 625.0,340.6 625.5,337.5 626.0,335.1 626.5,334.2 627.0,335.8 627.5,338.0 628.0,337.8 628.5,339.7 629.0,342.4 629.5,344.8 630.0,345.6 630.5,343.8 631.0,340.7 631.5,338.8 632.0,337.7 632.5,336.3 633.0,333.7 633.5,331.0 634.0,329.4 634.5,330.0 635.0,333.0 635.5,336.9 636.0,340.2 636.5,343.6 637.0,346.6 637.5,346.2 638.0,345.0 638.5,344.8 639.0,346.1 639.5,344.2 640.0,343.4 640.5,343.2 641.0,343.1 641.5,342.4 642.0,340.2 642.5,337.4 643.0,336.7 643.5,336.4 644.0,334.4 644.5,331.8 645.0,330.4 645.5,331.0 646.0,332.5 646.5,333.8 647.0,334.3 647.5,334.4 648.0,335.0 648.5,336.5 649.0,338.5 649.5,340.7 650.0,342.5 650.5,343.5 651.0,344.0 651.5,344.2 652.0,344.3 652.5,344.4 653.0,343.9 653.5,342.5 654.0,339.7 654.5,336.0 655.0,334.1 655.5,335.1 656.0,337.6 656.5,338.6 657.0,339.9 657.5,342.1 658.0,343.3 658.5,342.8 659.0,340.6 659.5,337.6 660.0,335.3 660.5,335.2 661.0,334.2 661.5,332.3 662.0,331.1 662.5,331.7 663.0,334.0 663.5,335.7 664.0,336.7 664.5,337.7 665.0,339.0 665.5,341.1 666.0,344.1 666.5,345.1 667.0,345.5 667.5,346.2 668.0,347.9 668.5,349.4 669.0,349.0 669.5,346.8 670.0,343.9 670.5,341.3 671.0,339.7 671.5,338.1 672.0,335.4 672.5,331.8 673.0,329.4 673.5,328.3 674.0,328.0 674.5,327.8 675.0,327.9 675.5,330.1 676.0,333.2 676.5,336.6 677.0,339.9 677.5,342.0 678.0,343.3 678.5,345.0 679.0,347.4 679.5,347.3 680.0,345.6 680.5,345.0 681.0,344.6 681.5,343.6 682.0,342.0 682.5,340.2 683.0,339.0 683.5,338.9 684.0,339.8 684.5,340.3 685.0,340.2 685.5,340.0 686.0,339.9 686.5,340.4 687.0,341.3 687.5,341.9 688.0,341.3 688.5,340.0 689.0,340.7 689.5,341.2 690.0,340.7 690.5,339.7 691.0,338.8 691.5,338.4 692.0,338.4" fill="none" stroke="#000" stroke-width="1.2" stroke-linejoin="round"/>
<polyline points="96.0,376.6 96.5,377.0 97.0,377.4 97.5,377.4 98.0,377.3 98.5,377.4 99.0,377.8 99.5,378.5 100.0,378.7 100.5,378.8 101.0,379.3 101.5,380.1 102.0,380.5 102.5,380.3 103.0,380.4 103.5,380.3 104.0,379.3 104.5,377.5 105.0,375.9 105.5,374.6 106.0,373.0 106.5,371.8 107.0,371.8 107.5,372.9 108.0,374.6 108.5,376.6 109.0,378.2 109.5,379.6 110.0,381.5 110.5,380.0 111.0,378.0 111.5,375.6 112.0,372.8 112.5,370.5 113.0,369.8 113.5,370.7 114.0,372.4 114.5,373.4 115.0,374.1 115.5,375.0 116.0,375.3 116.5,374.4 117.0,373.2 117.5,372.5 118.0,372.7 118.5,373.4 119.0,374.3 119.5,375.0 120.0,375.7 120.5,377.0 121.0,379.6 121.5,383.1 122.0,386.7 122.5,389.4 123.0,390.9 123.5,391.5 124.0,391.7 124.5,391.5 125.0,390.1 125.5,387.5 126.0,382.8 126.5,377.1 127.0,375.0 127.5,370.6 128.0,367.8 128.5,368.6 129.0,368.0 129.5,369.2 130.0,373.0 130.5,376.4 131.0,379.4 131.5,382.2 132.0,385.3 132.5,389.7 133.0,390.3 133.5,389.1 134.0,386.1 134.5,382.0 135.0,376.7 135.5,369.7 136.0,365.4 136.5,364.1 137.0,364.5 137.5,365.4 138.0,367.6 138.5,370.8 139.0,374.4 139.5,377.8 140.0,380.2 140.5,381.5 141.0,382.6 141.5,383.5 142.0,384.0 142.5,383.5 143.0,380.8 143.5,378.9 144.0,377.9 144.5,376.9 145.0,375.3 145.5,373.1 146.0,371.1 146.5,370.6 147.0,371.3 147.5,373.3 148.0,376.5 148.5,380.3 149.0,384.5 149.5,389.0 150.0,390.5 150.5,389.6 151.0,388.1 151.5,385.7 152.0,382.3 152.5,377.3 153.0,373.7 153.5,370.9 154.0,368.4 154.5,365.8 155.0,364.1 155.5,366.6 156.0,372.3 156.5,378.0 157.0,383.6 157.5,388.6 158.0,392.7 158.5,393.3 159.0,391.6 159.5,390.1 160.0,389.5 160.5,388.2 161.0,385.6 161.5,382.6 162.0,379.7 162.5,377.6 163.0,376.2 163.5,375.2 164.0,373.4 164.5,371.0 165.0,368.3 165.5,366.1 166.0,365.3 166.5,365.6 167.0,365.8 167.5,365.8 168.0,366.2 168.5,367.6 169.0,370.5 169.5,374.6 170.0,377.3 170.5,378.5 171.0,381.1 171.5,383.8 172.0,386.0 172.5,386.7 173.0,385.9 173.5,387.3 174.0,387.4 174.5,385.5 175.0,384.4 175.5,385.4 176.0,384.5 176.5,382.4 177.0,381.2 177.5,381.6 178.0,381.2 178.5,379.5 179.0,378.7 179.5,378.6 180.0,378.4 180.5,376.8 181.0,373.7 181.5,371.4 182.0,370.7 182.5,368.9 183.0,367.5 183.5,368.0 184.0,370.6 184.5,374.3 185.0,378.1 185.5,380.9 186.0,381.7 186.5,382.7 187.0,383.1 187.5,382.0 188.0,380.5 188.5,379.2 189.0,378.2 189.5,377.5 190.0,376.5 190.5,375.4 191.0,374.2 191.5,373.5 192.0,373.7 192.5,375.3 193.0,375.4 193.5,375.0 194.0,374.6 194.5,375.1 195.0,378.0 195.5,379.0 196.0,379.6 196.5,380.2 197.0,380.6 197.5,380.1 198.0,379.0 198.5,380.2 199.0,379.2 199.5,377.6 200.0,377.9 200.5,377.9 201.0,376.7 201.5,375.8 202.0,375.4 202.5,375.1 203.0,374.5 203.5,373.6 204.0,372.8 204.5,372.8 205.0,373.3 205.5,373.4 206.0,374.2 206.5,375.9 207.0,378.4 207.5,381.2 208.0,383.6 208.5,384.7 209.0,384.0 209.5,382.0 210.0,379.4 210.5,377.4 211.0,375.1 211.5,372.5 212.0,371.0 212.5,371.8 213.0,372.9 213.5,373.7 214.0,374.7 214.5,376.1 215.0,378.1 215.5,379.9 216.0,381.0 216.5,381.3 217.0,381.0 217.5,380.5 218.0,380.2 218.5,380.9 219.0,381.8 219.5,380.8 220.0,378.8 220.5,377.1 221.0,376.2 221.5,374.3 222.0,372.0 222.5,370.2 223.0,369.8 223.5,370.8 224.0,370.8 224.5,370.8 225.0,372.1 225.5,374.2 226.0,375.0 226.5,376.1 227.0,377.7 227.5,380.2 228.0,383.2 228.5,384.0 229.0,385.3 229.5,386.7 230.0,386.9 230.5,385.3 231.0,382.3 231.5,379.6 232.0,377.6 232.5,375.9 233.0,374.1 233.5,373.1 234.0,374.3 234.5,375.8 235.0,376.6 235.5,377.4 236.0,379.4 236.5,378.5 237.0,378.6 237.5,379.0 238.0,378.0 238.5,377.1 239.0,377.7 239.5,377.6 240.0,377.1 240.5,376.3 241.0,375.6 241.5,375.1 242.0,374.7 242.5,373.9 243.0,372.9 243.5,372.0 244.0,371.5 244.5,371.8 245.0,372.9 245.5,373.9 246.0,375.0 246.5,378.2 247.0,380.9 247.5,381.9 248.0,382.5 248.5,382.4 249.0,381.8 249.5,380.9 250.0,379.7 250.5,378.3 251.0,377.5 251.5,377.9 252.0,376.5 252.5,376.9 253.0,377.8 253.5,378.0 254.0,377.8 254.5,378.2 255.0,379.2 255.5,379.9 256.0,380.1 256.5,380.2 257.0,380.6 257.5,381.3 258.0,382.0 258.5,382.1 259.0,381.4 259.5,380.0 260.0,378.3 260.5,376.6 261.0,375.3 261.5,374.6 262.0,374.0 262.5,372.8 263.0,372.2 263.5,372.5 264.0,373.0 264.5,373.6 265.0,374.1 265.5,374.5 266.0,375.1 266.5,376.0 267.0,377.1 267.5,378.2 268.0,378.8 268.5,378.9 269.0,378.6 269.5,378.2 270.0,378.3 270.5,378.8 271.0,377.7 271.5,377.5 272.0,378.0 272.5,378.3 273.0,378.0 273.5,376.9 274.0,377.3 274.5,378.3 275.0,378.0 275.5,377.3 276.0,378.2 276.5,379.0 277.0,378.9 277.5,378.7 278.0,379.1 278.5,379.9 279.0,380.2 279.5,379.9 280.0,379.5 280.5,379.1 281.0,379.6 281.5,379.1 282.0,378.2 282.5,377.4 283.0,377.0 283.5,376.9 284.0,376.8 284.5,376.3 285.0,375.6 285.5,375.3 286.0,375.9 286.5,377.0 287.0,378.1 287.5,378.5 288.0,377.8 288.5,376.2 289.0,374.5 289.5,373.5 290.0,372.6 290.5,371.7 291.0,371.7 291.5,372.5 292.0,373.7 292.5,374.6 293.0,374.9 293.5,375.8 294.0,378.2 294.5,379.3 295.0,380.3 295.5,381.2 296.0,382.0 296.5,382.8 297.0,383.4 297.5,383.3 298.0,382.8 298.5,382.3 299.0,382.4 299.5,382.7 300.0,382.3 300.5,381.6 301.0,380.9 301.5,380.5 302.0,380.5 302.5,380.4 303.0,379.8 303.5,378.9 304.0,378.4 304.5,378.3 305.0,377.7 305.5,376.8 306.0,375.9 306.5,375.2 307.0,374.7 307.5,374.0 308.0,373.0 308.5,371.8 309.0,370.9 309.5,370.7 310.0,371.5 310.5,372.4 311.0,373.4 311.5,374.7 312.0,376.2 312.5,378.1 313.0,379.8 313.5,381.1 314.0,381.7 314.5,381.5 315.0,380.8 315.5,380.1 316.0,379.2 316.5,378.2 317.0,376.3 317.5,375.0 318.0,374.9 318.5,375.1 319.0,375.2 319.5,375.4 320.0,376.5 320.5,377.2 321.0,377.2 321.5,379.2 322.0,379.3 322.5,379.2 323.0,379.9 323.5,380.2 324.0,378.8 324.5,378.4 325.0,378.5 325.5,378.0 326.0,376.8 326.5,375.4 327.0,374.5 327.5,374.4 328.0,374.9 328.5,375.3 329.0,375.3 329.5,376.6 330.0,378.3 330.5,379.2 331.0,379.6 331.5,380.0 332.0,380.4 332.5,380.5 333.0,380.2 333.5,379.6 334.0,379.1 334.5,378.8 335.0,378.8 335.5,378.8 336.0,378.6 336.5,377.7 337.0,376.2 337.5,374.7 338.0,373.7 338.5,373.4 339.0,373.6 339.5,373.4 340.0,373.2 340.5,374.3 341.0,375.2 341.5,375.3 342.0,376.0 342.5,377.4 343.0,378.6 343.5,378.7 344.0,378.6 344.5,379.3 345.0,379.8 345.5,379.8 346.0,378.3 346.5,377.9 347.0,377.8 347.5,377.2 348.0,376.2 348.5,375.2 349.0,374.5 349.5,374.2 350.0,374.1 350.5,373.8 351.0,373.3 351.5,373.3 352.0,373.6 352.5,374.0 353.0,374.5 353.5,374.6 354.0,375.2 354.5,376.0 355.0,376.9 355.5,377.8 356.0,378.3 356.5,378.5 357.0,378.8 357.5,379.6 358.0,380.6 358.5,380.9 359.0,380.6 359.5,380.0 360.0,379.3 360.5,379.4 361.0,379.3 361.5,377.9 362.0,376.8 362.5,377.2 363.0,376.3 363.5,375.1 364.0,375.7 364.5,375.2 365.0,374.4 365.5,374.0 366.0,374.4 366.5,375.2 367.0,376.2 367.5,376.9 368.0,377.3 368.5,377.6 369.0,377.8 369.5,378.9 370.0,378.4 370.5,377.5 371.0,377.5 371.5,377.7 372.0,377.6 372.5,377.1 373.0,376.6 373.5,376.6 374.0,376.7 374.5,376.5 375.0,376.2 375.5,375.8 376.0,375.6 376.5,375.6 377.0,375.8 377.5,376.3 378.0,376.7 378.5,377.0 379.0,377.1 379.5,377.3 380.0,377.9 380.5,378.5 381.0,379.2 381.5,379.6 382.0,379.5 382.5,379.1 383.0,379.1 383.5,378.7 384.0,377.6 384.5,376.4 385.0,375.6 385.5,375.8 386.0,375.6 386.5,375.3 387.0,375.1 387.5,375.3 388.0,375.8 388.5,376.6 389.0,377.3 389.5,377.6 390.0,377.5 390.5,377.7 391.0,378.1 391.5,378.5 392.0,378.7 392.5,378.5 393.0,377.9 393.5,377.3 394.0,377.1 394.5,377.7 395.0,377.5 395.5,377.1 396.0,377.2 396.5,377.5 397.0,377.8 397.5,377.9 398.0,377.7 398.5,378.3 399.0,379.2 399.5,379.9 400.0,380.0 400.5,379.5 401.0,379.6 401.5,379.7 402.0,378.5 402.5,377.3 403.0,376.8 403.5,376.6 404.0,375.9 404.5,375.1 405.0,374.7 405.5,374.8 406.0,375.3 406.5,375.6 407.0,375.5 407.5,375.7 408.0,376.4 408.5,377.1 409.0,377.6 409.5,377.7 410.0,377.7 410.5,377.7 411.0,378.4 411.5,378.9 412.0,378.6 412.5,378.1 413.0,377.7 413.5,377.8 414.0,378.1 414.5,378.3 415.0,378.4 415.5,377.8 416.0,377.2 416.5,377.2 417.0,377.5 417.5,377.4 418.0,376.5 418.5,376.3 419.0,376.6 419.5,376.8 420.0,375.7 420.5,375.7 421.0,376.0 421.5,376.4 422.0,376.8 422.5,376.9 423.0,376.9 423.5,376.9 424.0,377.0 424.5,377.2 425.0,377.1 425.5,376.7 426.0,375.9 426.5,375.6 427.0,376.1 427.5,376.9 428.0,377.8 428.5,377.9 429.0,378.1 429.5,379.1 430.0,379.9 430.5,380.3 431.0,379.8 431.5,379.1 432.0,379.1 432.5,379.3 433.0,379.0 433.5,378.4 434.0,377.6 434.5,376.9 435.0,376.5 435.5,376.2 436.0,376.0 436.5,375.6 437.0,374.9 437.5,375.4 438.0,375.4 438.5,375.4 439.0,376.1 439.5,376.8 440.0,377.4 440.5,378.1 441.0,379.1 441.5,379.7 442.0,379.8 442.5,379.5 443.0,379.4 443.5,379.8 444.0,379.8 444.5,379.1 445.0,378.2 445.5,377.3 446.0,376.9 446.5,376.8 447.0,376.9 447.5,377.0 448.0,376.7 448.5,376.2 449.0,376.0 449.5,376.5 450.0,376.8 450.5,376.4 451.0,376.2 451.5,376.5 452.0,376.9 452.5,376.8 453.0,376.6 453.5,376.3 454.0,376.2 454.5,376.3 455.0,376.5 455.5,376.7 456.0,376.6 456.5,376.3 457.0,376.0 457.5,376.1 458.0,376.5 458.5,376.7 459.0,376.6 459.5,376.4 460.0,376.5 460.5,376.8 461.0,377.1 461.5,377.1 462.0,376.9 462.5,376.9 463.0,377.6 463.5,378.2 464.0,378.1 464.5,378.3 465.0,378.6 465.5,378.6 466.0,377.5 466.5,377.4 467.0,377.4 467.5,377.4 468.0,377.3 468.5,376.9 469.0,376.6 469.5,376.5 470.0,376.7 470.5,377.0 471.0,377.3 471.5,377.4 472.0,377.2 472.5,376.9 473.0,377.0 473.5,377.6 474.0,378.4 474.5,378.7 475.0,378.5 475.5,378.1 476.0,377.8 476.5,378.0 477.0,378.1 477.5,377.7 478.0,377.2 478.5,377.0 479.0,377.2 479.5,377.2 480.0,376.7 480.5,375.9 481.0,376.2 481.5,376.9 482.0,377.1 482.5,376.9 483.0,376.8 483.5,377.1 484.0,377.7 484.5,378.2 485.0,378.4 485.5,378.3 486.0,377.9 486.5,377.8 487.0,378.1 487.5,378.3 488.0,378.1 488.5,377.6 489.0,377.2 489.5,376.9 490.0,377.6 490.5,377.7 491.0,376.8 491.5,376.8 492.0,377.4 492.5,377.7 493.0,377.0 493.5,376.6 494.0,377.3 494.5,377.9 495.0,377.7 495.5,377.5 496.0,378.4 496.5,378.7 497.0,378.8 497.5,380.0 498.0,382.0 498.5,383.8 499.0,384.8 499.5,384.7 500.0,383.9 500.5,382.6 501.0,381.3 501.5,379.9 502.0,377.0 502.5,374.7 503.0,375.1 503.5,375.3 504.0,373.2 504.5,371.8 505.0,372.9 505.5,373.0 506.0,371.8 506.5,370.6 507.0,370.5 507.5,371.5 508.0,373.0 508.5,373.8 509.0,373.5 509.5,374.1 510.0,376.0 510.5,377.9 511.0,379.2 511.5,377.8 512.0,377.6 512.5,379.2 513.0,380.4 513.5,378.8 514.0,377.3 514.5,376.2 515.0,375.4 515.5,374.6 516.0,373.7 516.5,373.0 517.0,373.8 517.5,375.1 518.0,376.6 518.5,377.7 519.0,377.9 519.5,378.3 520.0,379.7 520.5,381.6 521.0,383.1 521.5,383.1 522.0,382.1 522.5,382.2 523.0,382.9 523.5,383.2 524.0,382.1 524.5,379.8 525.0,377.3 525.5,375.5 526.0,376.5 526.5,375.8 527.0,374.3 527.5,373.4 528.0,374.0 528.5,375.7 529.0,377.8 529.5,379.5 530.0,379.9 530.5,379.1 531.0,378.1 531.5,377.7 532.0,377.3 532.5,375.8 533.0,374.0 533.5,373.2 534.0,374.1 534.5,376.2 535.0,378.0 535.5,377.0 536.0,379.2 536.5,380.1 537.0,378.5 537.5,377.2 538.0,377.0 538.5,377.2 539.0,377.5 539.5,377.3 540.0,376.3 540.5,375.5 541.0,376.2 541.5,377.9 542.0,379.5 542.5,379.5 543.0,379.5 543.5,381.1 544.0,382.8 544.5,383.3 545.0,381.0 545.5,376.7 546.0,373.0 546.5,371.9 547.0,373.2 547.5,373.7 548.0,373.6 548.5,373.5 549.0,374.4 549.5,377.0 550.0,379.5 550.5,378.1 551.0,377.5 551.5,377.9 552.0,378.2 552.5,378.0 553.0,376.9 553.5,375.2 554.0,373.5 554.5,372.4 555.0,372.3 555.5,372.4 556.0,371.5 556.5,370.1 557.0,369.2 557.5,369.4 558.0,369.7 558.5,369.2 559.0,368.8 559.5,369.3 560.0,370.3 560.5,371.5 561.0,372.4 561.5,373.5 562.0,375.3 562.5,378.0 563.0,381.6 563.5,385.9 564.0,390.2 564.5,393.3 565.0,394.3 565.5,393.3 566.0,391.6 566.5,389.9 567.0,387.9 567.5,385.3 568.0,382.0 568.5,378.3 569.0,374.8 569.5,372.5 570.0,371.9 570.5,372.9 571.0,375.2 571.5,377.9 572.0,380.3 572.5,382.9 573.0,387.1 573.5,387.8 574.0,387.3 574.5,386.6 575.0,381.7 575.5,376.5 576.0,373.1 576.5,371.8 577.0,371.3 577.5,370.4 578.0,367.3 578.5,366.9 579.0,367.6 579.5,368.3 580.0,368.7 580.5,369.2 581.0,370.5 581.5,372.7 582.0,375.2 582.5,377.4 583.0,378.3 583.5,379.5 584.0,381.3 584.5,379.4 585.0,377.6 585.5,376.6 586.0,375.7 586.5,374.3 587.0,372.3 587.5,370.3 588.0,369.3 588.5,372.1 589.0,379.0 589.5,385.7 590.0,389.2 590.5,393.3 591.0,393.3 591.5,390.3 592.0,386.3 592.5,382.2 593.0,377.9 593.5,372.3 594.0,368.3 594.5,367.2 595.0,367.6 595.5,368.1 596.0,369.0 596.5,371.2 597.0,374.7 597.5,378.7 598.0,382.1 598.5,384.6 599.0,386.5 599.5,387.8 600.0,389.6 600.5,388.5 601.0,386.5 601.5,385.0 602.0,384.5 602.5,383.6 603.0,381.3 603.5,378.7 604.0,377.0 604.5,377.0 605.0,377.0 605.5,373.8 606.0,372.2 606.5,372.4 607.0,369.6 607.5,367.1 608.0,366.8 608.5,367.8 609.0,368.3 609.5,369.2 610.0,370.8 610.5,373.3 611.0,376.5 611.5,378.6 612.0,379.1 612.5,379.4 613.0,379.9 613.5,380.1 614.0,379.8 614.5,378.7 615.0,376.7 615.5,374.5 616.0,373.0 616.5,373.1 617.0,374.6 617.5,376.6 618.0,376.3 618.5,379.5 619.0,383.4 619.5,384.9 620.0,385.5 620.5,386.1 621.0,388.9 621.5,387.7 622.0,385.0 622.5,382.1 623.0,380.1 623.5,378.3 624.0,375.8 624.5,373.0 625.0,372.1 625.5,372.5 626.0,373.7 626.5,374.9 627.0,375.3 627.5,375.2 628.0,375.7 628.5,376.7 629.0,377.4 629.5,377.3 630.0,376.7 630.5,376.1 631.0,376.4 631.5,377.7 632.0,377.0 632.5,375.0 633.0,374.3 633.5,375.7 634.0,376.1 634.5,375.4 635.0,374.7 635.5,375.0 636.0,376.7 636.5,379.2 637.0,381.0 637.5,381.2 638.0,380.3 638.5,379.7 639.0,381.1 639.5,382.2 640.0,380.6 640.5,379.4 641.0,378.9 641.5,378.6 642.0,378.2 642.5,377.1 643.0,374.5 643.5,372.7 644.0,372.8 644.5,373.4 645.0,371.2 645.5,370.3 646.0,371.4 646.5,372.5 647.0,372.5 647.5,373.5 648.0,376.7 648.5,380.3 649.0,383.2 649.5,384.6 650.0,384.9 650.5,384.8 651.0,385.2 651.5,383.8 652.0,380.3 652.5,376.3 653.0,372.9 653.5,371.4 654.0,371.7 654.5,371.3 655.0,370.9 655.5,371.9 656.0,373.4 656.5,374.9 657.0,376.1 657.5,376.2 658.0,376.6 658.5,378.1 659.0,379.9 659.5,381.2 660.0,381.4 660.5,380.9 661.0,380.9 661.5,381.0 662.0,380.5 662.5,378.9 663.0,376.4 663.5,375.3 664.0,375.9 664.5,373.4 665.0,371.7 665.5,371.8 666.0,371.7 666.5,371.5 667.0,371.8 667.5,373.1 668.0,376.4 668.5,379.4 669.0,381.0 669.5,382.2 670.0,383.9 670.5,386.1 671.0,388.0 671.5,388.8 672.0,388.3 672.5,386.8 673.0,384.9 673.5,383.2 674.0,382.0 674.5,380.7 675.0,378.8 675.5,375.7 676.0,374.4 676.5,373.9 677.0,373.8 677.5,373.5 678.0,373.3 678.5,374.5 679.0,376.5 679.5,378.4 680.0,379.5 680.5,379.7 681.0,380.2 681.5,382.0 682.0,381.5 682.5,379.2 683.0,379.4 683.5,377.7 684.0,375.3 684.5,373.2 685.0,372.3 685.5,371.4 686.0,369.6 686.5,368.7 687.0,371.4 687.5,371.7 688.0,370.8 688.5,370.0 689.0,369.9 689.5,371.3 690.0,373.6 690.5,375.2 691.0,373.3 691.5,376.2 692.0,377.9" fill="none" stroke="#000" stroke-width="1.2" stroke-linejoin="round"/>
<polyline points="96.0,460.7 96.5,460.6 97.0,460.5 97.5,460.4 98.0,460.3 98.5,460.2 99.0,460.1 99.5,460.0 100.0,459.9 100.5,459.8 101.0,459.7 101.5,459.6 102.0,459.5 102.5,459.4 103.0,459.3 103.5,459.2 104.0,459.0 104.5,458.9 105.0,458.8 105.5,458.7 106.0,458.5 106.5,458.3 107.0,458.2 107.5,458.0 108.0,457.8 108.5,457.6 109.0,457.4 109.5,457.3 110.0,457.1 110.5,457.0 111.0,456.9 111.5,456.8 112.0,456.7 112.5,456.7 113.0,457.3 113.5,458.7 114.0,460.4 114.5,462.0 115.0,463.0 115.5,462.9 116.0,461.9 116.5,460.4 117.0,458.7 117.5,457.0 118.0,455.9 118.5,455.6 119.0,455.6 119.5,455.7 120.0,455.7 120.5,455.8 121.0,455.9 121.5,456.0 122.0,456.5 122.5,458.3 123.0,461.4 123.5,465.4 124.0,469.9 124.5,474.7 125.0,479.3 125.5,483.5 126.0,486.9 126.5,489.2 127.0,490.0 127.5,489.0 128.0,486.3 128.5,482.5 129.0,478.0 129.5,473.3 130.0,469.0 130.5,465.5 131.0,463.5 131.5,463.2 132.0,464.5 132.5,466.7 133.0,469.3 133.5,471.9 134.0,474.0 134.5,475.0 135.0,474.7 135.5,473.6 136.0,471.8 136.5,469.4 137.0,466.6 137.5,463.6 138.0,460.3 138.5,457.1 139.0,454.0 139.5,451.1 140.0,448.6 140.5,446.7 141.0,445.4 141.5,445.0 142.0,445.0 142.5,445.1 143.0,445.1 143.5,445.3 144.0,445.4 144.5,445.5 145.0,445.9 145.5,447.5 146.0,450.0 146.5,453.2 147.0,456.8 147.5,460.6 148.0,464.4 148.5,467.9 149.0,470.7 149.5,472.8 150.0,473.7 150.5,473.5 151.0,472.9 151.5,471.9 152.0,470.7 152.5,469.3 153.0,468.0 153.5,466.3 154.0,464.1 154.5,461.5 155.0,458.6 155.5,455.8 156.0,453.1 156.5,450.9 157.0,449.2 157.5,448.4 158.0,448.3 158.5,448.5 159.0,448.8 159.5,449.2 160.0,449.7 160.5,450.3 161.0,451.0 161.5,452.7 162.0,455.9 162.5,460.3 163.0,465.2 163.5,470.3 164.0,474.8 164.5,478.4 165.0,480.6 165.5,480.9 166.0,479.4 166.5,476.7 167.0,473.0 167.5,468.9 168.0,464.6 168.5,460.6 169.0,457.3 169.5,455.0 170.0,454.2 170.5,454.3 171.0,454.6 171.5,455.1 172.0,455.7 172.5,456.4 173.0,457.2 173.5,458.0 174.0,458.9 174.5,459.7 175.0,460.5 175.5,461.2 176.0,461.7 176.5,462.1 177.0,462.4 177.5,462.3 178.0,461.1 178.5,459.0 179.0,456.3 179.5,453.4 180.0,450.5 180.5,448.1 181.0,446.5 181.5,446.1 182.0,446.7 182.5,448.1 183.0,450.1 183.5,452.6 184.0,455.5 184.5,458.7 185.0,462.0 185.5,465.3 186.0,468.6 186.5,471.5 187.0,474.1 187.5,476.3 188.0,477.8 188.5,478.5 189.0,478.3 189.5,476.6 190.0,473.8 190.5,470.3 191.0,466.7 191.5,463.3 192.0,460.7 192.5,459.2 193.0,459.5 193.5,461.3 194.0,463.8 194.5,466.3 195.0,467.8 195.5,467.8 196.0,466.5 196.5,464.3 197.0,461.4 197.5,458.0 198.0,454.4 198.5,450.9 199.0,447.5 199.5,444.6 200.0,442.4 200.5,441.1 201.0,441.1 201.5,442.6 202.0,445.4 202.5,448.9 203.0,452.7 203.5,456.1 204.0,458.7 204.5,460.5 205.0,462.2 205.5,464.0 206.0,465.6 206.5,467.2 207.0,468.6 207.5,469.9 208.0,471.0 208.5,471.9 209.0,472.5 209.5,472.8 210.0,472.9 210.5,472.5 211.0,471.9 211.5,471.0 212.0,469.8 212.5,468.4 213.0,466.9 213.5,465.3 214.0,463.6 214.5,461.9 215.0,460.2 215.5,458.6 216.0,457.1 216.5,455.7 217.0,454.5 217.5,453.6 218.0,453.0 218.5,452.6 219.0,452.6 219.5,452.7 220.0,452.8 220.5,452.9 221.0,453.2 221.5,453.4 222.0,453.7 222.5,454.1 223.0,454.5 223.5,454.9 224.0,455.3 224.5,455.8 225.0,456.4 225.5,456.9 226.0,457.5 226.5,458.5 227.0,460.2 227.5,462.3 228.0,464.6 228.5,466.9 229.0,468.9 229.5,470.5 230.0,471.3 230.5,471.4 231.0,471.5 231.5,471.7 232.0,471.8 232.5,471.8 233.0,471.9 233.5,472.0 234.0,472.0 234.5,472.1 235.0,472.1 235.5,472.1 236.0,472.0 236.5,471.7 237.0,471.2 237.5,470.4 238.0,469.4 238.5,468.2 239.0,467.0 239.5,465.6 240.0,464.1 240.5,462.6 241.0,461.2 241.5,459.7 242.0,458.3 242.5,457.0 243.0,455.8 243.5,454.7 244.0,453.8 244.5,453.2 245.0,452.7 245.5,452.6 246.0,452.7 246.5,453.1 247.0,453.8 247.5,454.6 248.0,455.6 248.5,456.7 249.0,457.9 249.5,459.1 250.0,460.4 250.5,461.7 251.0,463.0 251.5,464.2 252.0,465.2 252.5,466.2 253.0,467.0 253.5,467.6 254.0,467.9 254.5,468.0 255.0,467.6 255.5,466.8 256.0,465.8 256.5,464.6 257.0,463.5 257.5,462.7 258.0,462.1 258.5,461.5 259.0,461.0 259.5,460.5 260.0,459.9 260.5,459.5 261.0,459.0 261.5,458.6 262.0,458.3 262.5,458.0 263.0,457.7 263.5,457.6 264.0,457.5 264.5,457.5 265.0,457.6 265.5,457.8 266.0,458.0 266.5,458.3 267.0,458.6 267.5,459.0 268.0,459.3 268.5,459.7 269.0,460.0 269.5,460.4 270.0,460.7 270.5,461.0 271.0,461.2 271.5,461.4 272.0,461.5 272.5,461.5 273.0,461.1 273.5,460.4 274.0,459.4 274.5,458.3 275.0,457.2 275.5,456.1 276.0,455.2 276.5,454.5 277.0,454.2 277.5,454.3 278.0,454.9 278.5,455.8 279.0,456.9 279.5,458.3 280.0,459.6 280.5,461.0 281.0,462.3 281.5,463.4 282.0,464.2 282.5,464.7 283.0,464.8 283.5,464.3 284.0,463.5 284.5,462.3 285.0,460.8 285.5,459.1 286.0,457.3 286.5,455.5 287.0,453.6 287.5,451.9 288.0,450.3 288.5,448.9 289.0,447.8 289.5,447.1 290.0,446.9 290.5,447.2 291.0,447.9 291.5,449.1 292.0,450.6 292.5,452.4 293.0,454.4 293.5,456.4 294.0,458.5 294.5,460.5 295.0,462.4 295.5,464.1 296.0,465.5 296.5,466.5 297.0,467.1 297.5,467.2 298.0,466.9 298.5,466.5 299.0,465.9 299.5,465.2 300.0,464.6 300.5,464.0 301.0,463.7 301.5,463.6 302.0,463.7 302.5,463.8 303.0,464.0 303.5,464.2 304.0,464.5 304.5,464.6 305.0,464.8 305.5,464.8 306.0,464.7 306.5,464.5 307.0,464.3 307.5,463.9 308.0,463.5 308.5,463.0 309.0,462.5 309.5,462.0 310.0,461.4 310.5,460.9 311.0,460.4 311.5,459.9 312.0,459.4 312.5,459.0 313.0,458.7 313.5,458.5 314.0,458.3 314.5,458.3 315.0,458.4 315.5,458.6 316.0,458.8 316.5,459.2 317.0,459.6 317.5,460.1 318.0,460.6 318.5,461.2 319.0,461.8 319.5,462.4 320.0,463.0 320.5,463.6 321.0,464.2 321.5,464.8 322.0,465.3 322.5,465.8 323.0,466.2 323.5,466.5 324.0,466.7 324.5,466.9 325.0,466.9 325.5,466.9 326.0,466.9 326.5,466.8 327.0,466.7 327.5,466.7 328.0,466.6 328.5,466.5 329.0,466.3 329.5,466.2 330.0,466.1 330.5,465.9 331.0,465.7 331.5,465.6 332.0,465.3 332.5,464.9 333.0,464.4 333.5,463.8 334.0,463.2 334.5,462.5 335.0,461.7 335.5,460.5 336.0,459.0 336.5,457.3 337.0,455.6 337.5,454.0 338.0,452.5 338.5,451.3 339.0,450.5 339.5,450.2 340.0,450.5 340.5,451.5 341.0,452.8 341.5,454.6 342.0,456.5 342.5,458.5 343.0,460.5 343.5,462.3 344.0,463.8 344.5,465.0 345.0,465.5 345.5,465.6 346.0,465.5 346.5,465.4 347.0,465.2 347.5,464.9 348.0,464.6 348.5,464.3 349.0,463.9 349.5,463.5 350.0,463.1 350.5,462.7 351.0,462.3 351.5,461.7 352.0,460.9 352.5,460.0 353.0,458.9 353.5,457.8 354.0,456.7 354.5,455.6 355.0,454.6 355.5,453.7 356.0,453.1 356.5,452.7 357.0,452.6 357.5,452.9 358.0,453.5 358.5,454.5 359.0,455.7 359.5,457.0 360.0,458.6 360.5,460.2 361.0,461.8 361.5,463.4 362.0,465.0 362.5,466.4 363.0,467.6 363.5,468.6 364.0,469.3 364.5,469.7 365.0,469.7 365.5,469.5 366.0,469.2 366.5,468.7 367.0,468.2 367.5,467.6 368.0,466.9 368.5,466.2 369.0,465.4 369.5,464.7 370.0,464.0 370.5,463.3 371.0,462.6 371.5,462.0 372.0,461.4 372.5,460.7 373.0,460.0 373.5,459.2 374.0,458.5 374.5,457.7 375.0,456.9 375.5,456.1 376.0,455.4 376.5,454.7 377.0,454.0 377.5,453.3 378.0,452.8 378.5,452.2 379.0,451.8 379.5,451.4 380.0,451.2 380.5,451.0 381.0,451.0 381.5,451.3 382.0,451.9 382.5,452.7 383.0,453.8 383.5,455.1 384.0,456.6 384.5,458.1 385.0,459.7 385.5,461.2 386.0,462.7 386.5,464.1 387.0,465.4 387.5,466.5 388.0,467.3 388.5,467.8 389.0,468.0 389.5,468.0 390.0,467.8 390.5,467.6 391.0,467.3 391.5,467.0 392.0,466.6 392.5,466.1 393.0,465.6 393.5,465.1 394.0,464.5 394.5,463.9 395.0,463.2 395.5,462.6 396.0,461.9 396.5,461.2 397.0,460.6 397.5,459.9 398.0,459.3 398.5,458.7 399.0,458.1 399.5,457.5 400.0,457.0 400.5,456.5 401.0,456.1 401.5,455.7 402.0,455.4 402.5,455.2 403.0,455.1 403.5,455.0 404.0,455.0 404.5,455.2 405.0,455.5 405.5,455.9 406.0,456.4 406.5,456.9 407.0,457.4 407.5,457.9 408.0,458.5 408.5,458.9 409.0,459.3 409.5,459.7 410.0,459.9 410.5,460.1 411.0,460.2 411.5,460.4 412.0,460.5 412.5,460.7 413.0,460.8 413.5,460.9 414.0,461.1 414.5,461.2 415.0,461.3 415.5,461.4 416.0,461.5 416.5,461.6 417.0,461.7 417.5,461.8 418.0,461.9 418.5,461.9 419.0,462.0 419.5,462.1 420.0,462.1 420.5,462.1 421.0,462.2 421.5,462.2 422.0,462.2 422.5,462.2 423.0,462.1 423.5,462.0 424.0,461.9 424.5,461.7 425.0,461.5 425.5,461.3 426.0,461.1 426.5,460.9 427.0,460.7 427.5,460.6 428.0,460.5 428.5,460.4 429.0,460.4 429.5,460.5 430.0,460.6 430.5,460.9 431.0,461.1 431.5,461.4 432.0,461.7 432.5,462.0 433.0,462.4 433.5,462.7 434.0,463.0 434.5,463.3 435.0,463.5 435.5,463.8 436.0,463.9 436.5,464.0 437.0,464.0 437.5,463.9 438.0,463.7 438.5,463.4 439.0,463.0 439.5,462.6 440.0,462.1 440.5,461.7 441.0,461.2 441.5,460.7 442.0,460.3 442.5,460.0 443.0,459.7 443.5,459.5 444.0,459.4 444.5,459.4 445.0,459.6 445.5,459.8 446.0,460.0 446.5,460.4 447.0,460.7 447.5,461.1 448.0,461.5 448.5,461.9 449.0,462.2 449.5,462.6 450.0,462.8 450.5,463.0 451.0,463.2 451.5,463.2 452.0,463.1 452.5,463.0 453.0,462.8 453.5,462.5 454.0,462.2 454.5,461.8 455.0,461.4 455.5,461.0 456.0,460.6 456.5,460.2 457.0,459.8 457.5,459.4 458.0,459.1 458.5,458.8 459.0,458.6 459.5,458.4 460.0,458.3 460.5,458.3 461.0,458.4 461.5,458.5 462.0,458.8 462.5,459.0 463.0,459.4 463.5,459.7 464.0,460.1 464.5,460.5 465.0,460.8 465.5,461.2 466.0,461.5 466.5,461.8 467.0,462.1 467.5,462.4 468.0,462.6 468.5,462.9 469.0,463.2 469.5,463.5 470.0,463.8 470.5,464.0 471.0,464.3 471.5,464.5 472.0,464.6 472.5,464.7 473.0,464.8 473.5,464.8 474.0,464.6 474.5,464.1 475.0,463.6 475.5,462.9 476.0,462.1 476.5,461.2 477.0,460.4 477.5,459.6 478.0,458.9 478.5,458.3 479.0,457.8 479.5,457.5 480.0,457.5 480.5,457.6 481.0,457.7 481.5,457.9 482.0,458.1 482.5,458.4 483.0,458.6 483.5,459.0 484.0,459.3 484.5,459.6 485.0,460.0 485.5,460.3 486.0,460.7 486.5,461.0 487.0,461.3 487.5,461.5 488.0,461.7 488.5,461.9 489.0,462.0 489.5,462.0 490.0,462.0 490.5,461.9 491.0,461.7 491.5,461.5 492.0,461.3 492.5,461.0 493.0,460.7 493.5,460.4 494.0,460.0 494.5,459.7 495.0,459.3 495.5,459.0 496.0,458.7 496.5,458.4 497.0,458.1 497.5,457.9 498.0,457.7 498.5,457.6 499.0,457.5 499.5,457.5 500.0,457.8 500.5,458.4 501.0,459.2 501.5,460.2 502.0,461.3 502.5,462.5 503.0,463.7 503.5,465.0 504.0,466.2 504.5,467.3 505.0,468.2 505.5,469.0 506.0,469.5 506.5,469.7 507.0,469.7 507.5,469.5 508.0,469.2 508.5,468.9 509.0,468.4 509.5,467.9 510.0,467.3 510.5,466.7 511.0,466.0 511.5,465.4 512.0,464.7 512.5,464.1 513.0,463.4 513.5,462.8 514.0,462.3 514.5,461.7 515.0,461.1 515.5,460.4 516.0,459.7 516.5,459.0 517.0,458.3 517.5,457.6 518.0,456.8 518.5,456.1 519.0,455.5 519.5,454.8 520.0,454.3 520.5,453.8 521.0,453.3 521.5,453.0 522.0,452.8 522.5,452.6 523.0,452.6 523.5,452.7 524.0,453.0 524.5,453.3 525.0,453.7 525.5,454.2 526.0,454.7 526.5,455.3 527.0,455.9 527.5,456.5 528.0,457.1 528.5,457.7 529.0,458.3 529.5,458.8 530.0,459.2 530.5,459.6 531.0,460.1 531.5,460.6 532.0,461.0 532.5,461.5 533.0,462.0 533.5,462.4 534.0,462.7 534.5,463.0 535.0,463.2 535.5,463.3 536.0,463.3 536.5,463.2 537.0,463.1 537.5,463.0 538.0,462.8 538.5,462.5 539.0,462.3 539.5,462.0 540.0,461.6 540.5,461.3 541.0,461.0 541.5,460.6 542.0,460.2 542.5,459.9 543.0,459.5 543.5,459.1 544.0,458.8 544.5,458.5 545.0,458.1 545.5,457.7 546.0,457.3 546.5,456.8 547.0,456.4 547.5,455.9 548.0,455.5 548.5,455.1 549.0,454.8 549.5,454.6 550.0,454.4 550.5,454.4 551.0,454.7 551.5,455.3 552.0,456.0 552.5,457.0 553.0,458.0 553.5,459.1 554.0,460.3 554.5,461.3 555.0,462.3 555.5,463.1 556.0,463.7 556.5,464.0 557.0,464.1 557.5,463.8 558.0,463.2 558.5,462.5 559.0,461.7 559.5,460.8 560.0,460.0 560.5,459.3 561.0,458.7 561.5,458.4 562.0,458.6 562.5,459.5 563.0,461.1 563.5,463.2 564.0,465.9 564.5,468.8 565.0,472.0 565.5,475.2 566.0,478.4 566.5,481.5 567.0,484.3 567.5,486.6 568.0,488.5 568.5,489.7 569.0,490.1 569.5,489.0 570.0,486.2 570.5,482.3 571.0,478.1 571.5,474.2 572.0,471.4 572.5,470.3 573.0,470.8 573.5,472.0 574.0,473.7 574.5,475.7 575.0,477.6 575.5,479.2 576.0,480.1 576.5,480.2 577.0,479.3 577.5,477.5 578.0,475.0 578.5,471.8 579.0,468.3 579.5,464.4 580.0,460.5 580.5,456.5 581.0,452.7 581.5,449.2 582.0,446.2 582.5,443.8 583.0,442.1 583.5,441.4 584.0,441.4 584.5,441.4 585.0,441.5 585.5,441.6 586.0,441.7 586.5,441.8 587.0,442.0 587.5,442.2 588.0,442.7 588.5,444.2 589.0,446.4 589.5,449.2 590.0,452.4 590.5,455.7 591.0,459.1 591.5,462.1 592.0,464.8 592.5,466.7 593.0,467.9 593.5,468.1 594.0,467.6 594.5,466.6 595.0,465.3 595.5,463.7 596.0,461.9 596.5,459.9 597.0,457.8 597.5,455.7 598.0,453.8 598.5,452.0 599.0,450.4 599.5,449.1 600.0,448.3 600.5,447.9 601.0,448.2 601.5,449.3 602.0,451.2 602.5,453.6 603.0,456.4 603.5,459.5 604.0,462.7 604.5,465.8 605.0,468.7 605.5,471.3 606.0,473.4 606.5,474.8 607.0,475.5 607.5,475.2 608.0,474.2 608.5,472.7 609.0,470.9 609.5,469.1 610.0,467.6 610.5,466.4 611.0,466.0 611.5,466.2 612.0,466.8 612.5,467.5 613.0,468.2 613.5,468.8 614.0,469.0 614.5,468.7 615.0,468.0 615.5,466.9 616.0,465.5 616.5,463.7 617.0,461.8 617.5,459.7 618.0,457.5 618.5,455.3 619.0,453.1 619.5,451.0 620.0,449.1 620.5,447.3 621.0,445.9 621.5,444.8 622.0,444.1 622.5,443.8 623.0,444.4 623.5,446.0 624.0,448.5 624.5,451.7 625.0,455.3 625.5,459.2 626.0,463.3 626.5,467.2 627.0,470.8 627.5,474.0 628.0,476.5 628.5,478.1 629.0,478.7 629.5,478.4 630.0,477.6 630.5,476.3 631.0,474.8 631.5,473.2 632.0,471.6 632.5,470.2 633.0,469.0 633.5,468.3 634.0,468.1 634.5,469.0 635.0,470.6 635.5,472.3 636.0,473.6 636.5,473.7 637.0,472.1 637.5,469.1 638.0,464.9 638.5,460.1 639.0,454.7 639.5,449.3 640.0,444.1 640.5,439.5 641.0,435.8 641.5,433.3 642.0,432.4 642.5,432.7 643.0,433.7 643.5,435.1 644.0,437.1 644.5,439.4 645.0,442.0 645.5,444.9 646.0,448.0 646.5,451.1 647.0,454.4 647.5,457.5 648.0,460.6 648.5,463.5 649.0,466.1 649.5,468.4 650.0,470.4 650.5,471.8 651.0,472.8 651.5,473.1 652.0,473.1 652.5,473.1 653.0,473.0 653.5,473.0 654.0,472.9 654.5,472.8 655.0,472.7 655.5,472.6 656.0,472.5 656.5,472.1 657.0,471.2 657.5,469.8 658.0,468.0 658.5,465.9 659.0,463.6 659.5,461.1 660.0,458.5 660.5,455.9 661.0,453.4 661.5,451.0 662.0,448.8 662.5,446.8 663.0,445.3 663.5,444.1 664.0,443.5 664.5,443.4 665.0,444.0 665.5,445.0 666.0,446.4 666.5,448.2 667.0,450.3 667.5,452.5 668.0,455.0 668.5,457.5 669.0,460.0 669.5,462.5 670.0,464.8 670.5,466.9 671.0,468.8 671.5,470.3 672.0,471.4 672.5,472.0 673.0,472.3 673.5,472.6 674.0,472.9 674.5,473.2 675.0,473.5 675.5,473.7 676.0,473.9 676.5,474.0 677.0,474.2 677.5,474.2 678.0,474.3 678.5,474.3 679.0,473.9 679.5,473.0 680.0,471.9 680.5,470.4 681.0,468.7 681.5,466.8 682.0,464.7 682.5,462.6 683.0,460.4 683.5,458.2 684.0,456.0 684.5,454.0 685.0,452.1 685.5,450.5 686.0,449.1 686.5,448.0 687.0,447.2 687.5,446.9 688.0,447.0 688.5,447.2 689.0,447.7 689.5,448.3 690.0,449.1 690.5,450.1 691.0,451.2 691.5,452.5 692.0,454.0" fill="none" stroke="#000" stroke-width="1.2" stroke-linejoin="round"/>
<polyline points="96.0,499.1 96.5,498.7 97.0,498.4 97.5,498.1 98.0,497.9 98.5,497.6 99.0,497.4 99.5,497.2 100.0,497.1 100.5,496.9 101.0,496.8 101.5,496.7 102.0,496.6 102.5,496.6 103.0,496.5 103.5,496.5 104.0,496.4 104.5,496.4 105.0,496.4 105.5,496.4 106.0,496.4 106.5,496.4 107.0,496.4 107.5,496.7 108.0,497.3 108.5,498.1 109.0,499.1 109.5,500.1 110.0,501.2 110.5,502.2 111.0,503.1 111.5,503.8 112.0,504.3 112.5,504.5 113.0,504.4 113.5,504.0 114.0,503.5 114.5,503.0 115.0,502.5 115.5,502.1 116.0,502.0 116.5,502.6 117.0,504.2 117.5,506.5 118.0,509.3 118.5,512.2 119.0,515.1 119.5,517.5 120.0,519.3 120.5,520.1 121.0,519.4 121.5,517.0 122.0,513.1 122.5,508.4 123.0,503.1 123.5,497.9 124.0,493.2 124.5,489.3 125.0,486.9 125.5,486.2 126.0,487.5 126.5,490.2 127.0,493.8 127.5,497.7 128.0,501.4 128.5,504.3 129.0,505.9 129.5,505.8 130.0,504.0 130.5,501.2 131.0,497.8 131.5,494.2 132.0,491.1 132.5,488.9 133.0,488.0 133.5,488.5 134.0,489.5 134.5,490.5 135.0,491.0 135.5,490.3 136.0,488.7 136.5,486.8 137.0,485.5 137.5,485.3 138.0,486.6 138.5,489.1 139.0,492.5 139.5,496.5 140.0,500.7 140.5,504.9 141.0,508.7 141.5,511.9 142.0,514.2 142.5,515.3 143.0,514.8 143.5,512.8 144.0,509.8 144.5,506.2 145.0,502.3 145.5,498.7 146.0,495.7 146.5,493.7 147.0,493.3 147.5,494.8 148.0,497.9 148.5,501.5 149.0,504.6 149.5,506.1 150.0,505.9 150.5,505.0 151.0,503.7 151.5,502.1 152.0,500.5 152.5,499.2 153.0,498.3 153.5,498.0 154.0,498.3 154.5,498.8 155.0,499.4 155.5,500.0 156.0,500.5 156.5,500.8 157.0,500.6 157.5,499.7 158.0,498.3 158.5,496.5 159.0,494.5 159.5,492.4 160.0,490.3 160.5,488.5 161.0,487.0 161.5,486.0 162.0,485.6 162.5,485.8 163.0,486.5 163.5,487.4 164.0,488.7 164.5,490.3 165.0,492.0 165.5,493.9 166.0,495.8 166.5,497.9 167.0,499.8 167.5,501.8 168.0,503.6 168.5,505.2 169.0,506.6 169.5,507.7 170.0,508.5 170.5,508.9 171.0,508.8 171.5,508.0 172.0,506.6 172.5,504.8 173.0,502.5 173.5,499.8 174.0,497.0 174.5,493.9 175.0,490.9 175.5,487.8 176.0,484.9 176.5,482.3 177.0,479.9 177.5,477.9 178.0,476.4 178.5,475.5 179.0,475.3 179.5,476.7 180.0,479.6 180.5,483.6 181.0,488.4 181.5,493.5 182.0,498.4 182.5,502.8 183.0,506.2 183.5,508.2 184.0,508.5 184.5,507.6 185.0,506.0 185.5,504.2 186.0,502.4 186.5,501.0 187.0,500.5 187.5,501.1 188.0,502.5 188.5,504.2 189.0,505.6 189.5,506.2 190.0,505.7 190.5,504.3 191.0,502.2 191.5,499.7 192.0,497.0 192.5,494.3 193.0,491.8 193.5,489.9 194.0,488.6 194.5,488.3 195.0,489.7 195.5,492.7 196.0,496.6 196.5,501.0 197.0,505.3 197.5,508.9 198.0,511.2 198.5,511.9 199.0,511.7 199.5,511.1 200.0,510.4 200.5,509.4 201.0,508.3 201.5,507.0 202.0,505.7 202.5,504.3 203.0,502.9 203.5,501.5 204.0,499.6 204.5,497.2 205.0,494.6 205.5,492.1 206.0,489.8 206.5,488.0 207.0,486.9 207.5,486.8 208.0,488.1 208.5,490.6 209.0,493.9 209.5,497.7 210.0,501.7 210.5,505.5 211.0,508.8 211.5,511.3 212.0,512.6 212.5,512.6 213.0,512.0 213.5,511.1 214.0,509.8 214.5,508.2 215.0,506.6 215.5,504.9 216.0,503.3 216.5,501.9 217.0,500.7 217.5,499.7 218.0,498.7 218.5,497.7 219.0,496.7 219.5,495.8 220.0,495.0 220.5,494.2 221.0,493.7 221.5,493.3 222.0,493.2 222.5,493.6 223.0,494.5 223.5,496.0 224.0,497.9 224.5,500.1 225.0,502.4 225.5,504.8 226.0,507.1 226.5,509.2 227.0,511.0 227.5,512.4 228.0,513.3 228.5,513.5 229.0,513.0 229.5,511.8 230.0,510.1 230.5,508.0 231.0,505.5 231.5,502.8 232.0,500.0 232.5,497.2 233.0,494.4 233.5,491.9 234.0,489.7 234.5,487.9 235.0,486.6 235.5,486.0 236.0,486.0 236.5,486.8 237.0,488.0 237.5,489.7 238.0,491.7 238.5,493.8 239.0,495.9 239.5,497.9 240.0,499.6 240.5,501.0 241.0,501.9 241.5,502.1 242.0,502.1 242.5,502.0 243.0,501.9 243.5,501.7 244.0,501.5 244.5,501.3 245.0,501.1 245.5,500.9 246.0,500.7 246.5,500.4 247.0,500.2 247.5,500.1 248.0,499.9 248.5,499.8 249.0,499.7 249.5,499.7 250.0,499.9 250.5,500.3 251.0,500.9 251.5,501.6 252.0,502.3 252.5,503.0 253.0,503.5 253.5,503.7 254.0,503.4 254.5,502.5 255.0,501.0 255.5,499.1 256.0,497.1 256.5,495.0 257.0,493.1 257.5,491.5 258.0,490.4 258.5,490.0 259.0,490.2 259.5,490.8 260.0,491.6 260.5,492.7 261.0,493.8 261.5,495.1 262.0,496.3 262.5,497.4 263.0,498.4 263.5,499.2 264.0,500.0 264.5,500.7 265.0,501.5 265.5,502.3 266.0,503.0 266.5,503.6 267.0,504.1 267.5,504.4 268.0,504.6 268.5,504.5 269.0,504.0 269.5,503.2 270.0,502.3 270.5,501.4 271.0,500.8 271.5,500.5 272.0,500.7 272.5,501.1 273.0,501.8 273.5,502.6 274.0,503.5 274.5,504.4 275.0,505.2 275.5,505.8 276.0,506.1 276.5,506.2 277.0,506.0 277.5,505.5 278.0,504.9 278.5,504.1 279.0,503.2 279.5,502.3 280.0,501.2 280.5,500.2 281.0,499.1 281.5,498.1 282.0,497.2 282.5,496.4 283.0,495.7 283.5,495.2 284.0,494.9 284.5,494.8 285.0,494.9 285.5,495.1 286.0,495.5 286.5,495.9 287.0,496.4 287.5,497.0 288.0,497.6 288.5,498.2 289.0,498.7 289.5,499.2 290.0,499.7 290.5,500.2 291.0,500.7 291.5,501.2 292.0,501.7 292.5,502.3 293.0,502.7 293.5,503.1 294.0,503.5 294.5,503.6 295.0,503.7 295.5,503.4 296.0,502.7 296.5,501.7 297.0,500.7 297.5,499.7 298.0,498.8 298.5,498.3 299.0,498.1 299.5,498.2 300.0,498.5 300.5,498.8 301.0,499.2 301.5,499.4 302.0,499.5 302.5,499.3 303.0,498.8 303.5,498.1 304.0,497.3 304.5,496.5 305.0,495.7 305.5,495.1 306.0,494.8 306.5,494.9 307.0,495.2 307.5,495.7 308.0,496.3 308.5,496.9 309.0,497.5 309.5,498.0 310.0,498.3 310.5,498.4 311.0,498.2 311.5,498.0 312.0,497.8 312.5,497.6 313.0,497.5 313.5,497.6 314.0,498.1 314.5,498.7 315.0,499.4 315.5,500.3 316.0,501.1 316.5,501.9 317.0,502.7 317.5,503.2 318.0,503.6 318.5,503.7 319.0,503.6 319.5,503.2 320.0,502.8 320.5,502.2 321.0,501.6 321.5,500.9 322.0,500.2 322.5,499.5 323.0,498.9 323.5,498.4 324.0,498.0 324.5,497.8 325.0,497.7 325.5,498.1 326.0,498.9 326.5,500.0 327.0,501.4 327.5,502.8 328.0,504.2 328.5,505.4 329.0,506.3 329.5,506.9 330.0,507.0 330.5,506.5 331.0,505.6 331.5,504.4 332.0,503.0 332.5,501.4 333.0,499.8 333.5,498.3 334.0,496.9 334.5,495.8 335.0,495.1 335.5,494.8 336.0,494.9 336.5,495.1 337.0,495.4 337.5,495.8 338.0,496.3 338.5,496.9 339.0,497.5 339.5,498.1 340.0,498.8 340.5,499.4 341.0,500.1 341.5,500.7 342.0,501.2 342.5,501.7 343.0,502.1 343.5,502.4 344.0,502.6 344.5,502.6 345.0,502.3 345.5,501.6 346.0,500.7 346.5,499.8 347.0,498.8 347.5,498.0 348.0,497.4 348.5,497.3 349.0,497.4 349.5,497.6 350.0,497.9 350.5,498.2 351.0,498.7 351.5,499.1 352.0,499.6 352.5,500.1 353.0,500.7 353.5,501.2 354.0,501.6 354.5,502.1 355.0,502.4 355.5,502.7 356.0,502.9 356.5,503.0 357.0,502.9 357.5,502.7 358.0,502.2 358.5,501.6 359.0,500.9 359.5,500.1 360.0,499.3 360.5,498.5 361.0,497.7 361.5,496.9 362.0,496.2 362.5,495.6 363.0,495.1 363.5,494.9 364.0,494.8 364.5,495.0 365.0,495.5 365.5,496.2 366.0,497.1 366.5,498.1 367.0,499.2 367.5,500.3 368.0,501.3 368.5,502.3 369.0,503.1 369.5,503.7 370.0,504.1 370.5,504.2 371.0,503.9 371.5,503.3 372.0,502.4 372.5,501.4 373.0,500.3 373.5,499.3 374.0,498.4 374.5,497.7 375.0,497.3 375.5,497.3 376.0,497.4 376.5,497.6 377.0,497.9 377.5,498.2 378.0,498.5 378.5,498.9 379.0,499.3 379.5,499.8 380.0,500.2 380.5,500.6 381.0,501.1 381.5,501.5 382.0,501.8 382.5,502.1 383.0,502.3 383.5,502.5 384.0,502.6 384.5,502.6 385.0,502.5 385.5,502.4 386.0,502.3 386.5,502.1 387.0,501.9 387.5,501.7 388.0,501.5 388.5,501.3 389.0,501.1 389.5,500.9 390.0,500.7 390.5,500.6 391.0,500.5 391.5,500.4 392.0,500.3 392.5,500.3 393.0,500.2 393.5,500.1 394.0,500.1 394.5,500.0 395.0,499.9 395.5,499.9 396.0,499.8 396.5,499.8 397.0,499.8 397.5,499.7 398.0,499.7 398.5,499.7 399.0,499.7 399.5,499.8 400.0,499.9 400.5,500.1 401.0,500.3 401.5,500.6 402.0,500.9 402.5,501.1 403.0,501.4 403.5,501.6 404.0,501.9 404.5,502.0 405.0,502.1 405.5,502.1 406.0,501.9 406.5,501.7 407.0,501.3 407.5,500.8 408.0,500.4 408.5,499.9 409.0,499.5 409.5,499.1 410.0,498.9 410.5,498.7 411.0,498.5 411.5,498.4 412.0,498.2 412.5,498.0 413.0,497.9 413.5,497.7 414.0,497.6 414.5,497.5 415.0,497.3 415.5,497.2 416.0,497.1 416.5,497.0 417.0,496.9 417.5,496.8 418.0,496.7 418.5,496.6 419.0,496.5 419.5,496.5 420.0,496.4 420.5,496.4 421.0,496.4 421.5,496.4 422.0,496.6 422.5,496.9 423.0,497.4 423.5,498.0 424.0,498.8 424.5,499.6 425.0,500.4 425.5,501.3 426.0,502.1 426.5,502.8 427.0,503.5 427.5,504.0 428.0,504.4 428.5,504.6 429.0,504.6 429.5,504.4 430.0,504.1 430.5,503.7 431.0,503.3 431.5,502.7 432.0,502.2 432.5,501.6 433.0,501.0 433.5,500.4 434.0,499.9 434.5,499.5 435.0,499.2 435.5,499.0 436.0,498.9 436.5,499.0 437.0,499.2 437.5,499.5 438.0,499.8 438.5,500.2 439.0,500.5 439.5,500.9 440.0,501.1 440.5,501.3 441.0,501.3 441.5,501.1 442.0,500.9 442.5,500.5 443.0,500.0 443.5,499.5 444.0,498.9 444.5,498.3 445.0,497.8 445.5,497.3 446.0,496.9 446.5,496.6 447.0,496.4 447.5,496.4 448.0,496.6 448.5,496.8 449.0,497.2 449.5,497.7 450.0,498.2 450.5,498.8 451.0,499.4 451.5,499.9 452.0,500.4 452.5,500.8 453.0,501.1 453.5,501.3 454.0,501.3 454.5,501.2 455.0,501.1 455.5,501.0 456.0,500.8 456.5,500.6 457.0,500.4 457.5,500.1 458.0,499.8 458.5,499.5 459.0,499.2 459.5,498.9 460.0,498.5 460.5,498.2 461.0,497.9 461.5,497.6 462.0,497.3 462.5,497.1 463.0,496.9 463.5,496.7 464.0,496.6 464.5,496.5 465.0,496.4 465.5,496.4 466.0,496.5 466.5,496.8 467.0,497.0 467.5,497.4 468.0,497.8 468.5,498.2 469.0,498.6 469.5,499.1 470.0,499.5 470.5,499.8 471.0,500.2 471.5,500.4 472.0,500.6 472.5,500.8 473.0,501.0 473.5,501.2 474.0,501.3 474.5,501.5 475.0,501.7 475.5,501.8 476.0,502.0 476.5,502.1 477.0,502.3 477.5,502.4 478.0,502.5 478.5,502.6 479.0,502.7 479.5,502.8 480.0,502.8 480.5,502.9 481.0,502.9 481.5,502.9 482.0,502.8 482.5,502.6 483.0,502.3 483.5,501.9 484.0,501.5 484.5,501.0 485.0,500.6 485.5,500.1 486.0,499.7 486.5,499.4 487.0,499.1 487.5,498.9 488.0,498.9 488.5,498.9 489.0,499.0 489.5,499.0 490.0,499.1 490.5,499.1 491.0,499.2 491.5,499.3 492.0,499.3 492.5,499.4 493.0,499.5 493.5,499.5 494.0,499.5 494.5,499.4 495.0,499.0 495.5,498.5 496.0,497.9 496.5,497.2 497.0,496.6 497.5,496.1 498.0,495.7 498.5,495.6 499.0,495.8 499.5,496.2 500.0,496.9 500.5,497.7 501.0,498.6 501.5,499.5 502.0,500.5 502.5,501.3 503.0,502.1 503.5,502.6 504.0,502.9 504.5,502.9 505.0,502.7 505.5,502.5 506.0,502.1 506.5,501.7 507.0,501.2 507.5,500.7 508.0,500.1 508.5,499.5 509.0,499.0 509.5,498.4 510.0,497.9 510.5,497.3 511.0,496.6 511.5,495.8 512.0,495.0 512.5,494.1 513.0,493.3 513.5,492.5 514.0,491.8 514.5,491.2 515.0,490.6 515.5,490.3 516.0,490.0 516.5,490.0 517.0,490.2 517.5,490.5 518.0,490.9 518.5,491.4 519.0,492.1 519.5,492.8 520.0,493.5 520.5,494.3 521.0,495.1 521.5,495.9 522.0,496.7 522.5,497.5 523.0,498.2 523.5,498.8 524.0,499.4 524.5,500.0 525.0,500.7 525.5,501.3 526.0,502.0 526.5,502.7 527.0,503.3 527.5,503.9 528.0,504.4 528.5,504.9 529.0,505.2 529.5,505.4 530.0,505.5 530.5,505.4 531.0,505.2 531.5,504.9 532.0,504.5 532.5,504.0 533.0,503.4 533.5,502.8 534.0,502.2 534.5,501.7 535.0,501.1 535.5,500.6 536.0,500.1 536.5,499.8 537.0,499.5 537.5,499.2 538.0,498.9 538.5,498.6 539.0,498.3 539.5,498.0 540.0,497.7 540.5,497.4 541.0,497.1 541.5,496.9 542.0,496.6 542.5,496.4 543.0,496.1 543.5,495.9 544.0,495.7 544.5,495.5 545.0,495.4 545.5,495.2 546.0,495.1 546.5,495.0 547.0,494.9 547.5,494.9 548.0,494.9 548.5,495.3 549.0,496.0 549.5,497.1 550.0,498.4 550.5,499.8 551.0,501.2 551.5,502.6 552.0,503.7 552.5,504.5 553.0,504.9 553.5,505.3 554.0,505.6 554.5,505.8 555.0,506.0 555.5,506.2 556.0,506.5 556.5,506.8 557.0,507.3 557.5,508.2 558.0,509.5 558.5,511.1 559.0,513.0 559.5,515.0 560.0,517.0 560.5,519.0 561.0,520.9 561.5,522.6 562.0,524.0 562.5,525.1 563.0,525.7 563.5,525.6 564.0,523.1 564.5,518.6 565.0,512.9 565.5,506.7 566.0,500.8 566.5,496.0 567.0,493.0 567.5,492.6 568.0,493.2 568.5,494.5 569.0,496.1 569.5,498.0 570.0,500.0 570.5,501.9 571.0,503.5 571.5,504.8 572.0,505.4 572.5,505.3 573.0,504.2 573.5,502.2 574.0,499.5 574.5,496.5 575.0,493.2 575.5,489.9 576.0,486.8 576.5,484.1 577.0,482.0 577.5,480.7 578.0,480.3 578.5,481.0 579.0,482.5 579.5,484.7 580.0,487.5 580.5,490.6 581.0,493.9 581.5,497.2 582.0,500.5 582.5,503.5 583.0,506.0 583.5,508.0 584.0,509.2 584.5,509.5 585.0,508.6 585.5,506.6 586.0,504.1 586.5,501.2 587.0,498.4 587.5,496.1 588.0,494.5 588.5,494.1 589.0,495.4 589.5,497.9 590.0,501.1 590.5,504.3 591.0,507.0 591.5,508.5 592.0,508.6 592.5,508.3 593.0,507.6 593.5,506.8 594.0,505.7 594.5,504.6 595.0,503.4 595.5,502.2 596.0,501.0 596.5,500.0 597.0,499.0 597.5,497.9 598.0,496.8 598.5,495.6 599.0,494.3 599.5,493.0 600.0,491.8 600.5,490.6 601.0,489.5 601.5,488.5 602.0,487.6 602.5,486.9 603.0,486.4 603.5,486.1 604.0,486.0 604.5,486.4 605.0,487.2 605.5,488.4 606.0,489.6 606.5,490.9 607.0,492.0 607.5,493.0 608.0,494.1 608.5,495.3 609.0,496.6 609.5,497.8 610.0,499.1 610.5,500.4 611.0,501.7 611.5,502.9 612.0,504.1 612.5,505.2 613.0,506.3 613.5,507.2 614.0,508.0 614.5,508.6 615.0,509.1 615.5,509.4 616.0,509.5 616.5,508.6 617.0,506.2 617.5,502.6 618.0,498.3 618.5,493.6 619.0,489.0 619.5,484.8 620.0,481.4 620.5,479.3 621.0,478.7 621.5,480.0 622.0,482.6 622.5,486.3 623.0,490.4 623.5,494.5 624.0,498.3 624.5,501.2 625.0,502.7 625.5,502.8 626.0,502.3 626.5,501.6 627.0,500.8 627.5,500.2 628.0,500.0 628.5,500.3 629.0,501.0 629.5,502.1 630.0,503.3 630.5,504.4 631.0,505.3 631.5,505.8 632.0,505.6 632.5,504.5 633.0,502.6 633.5,500.4 634.0,498.0 634.5,495.8 635.0,494.0 635.5,493.1 636.0,493.1 636.5,493.8 637.0,495.0 637.5,496.4 638.0,498.0 638.5,499.6 639.0,501.0 639.5,501.9 640.0,502.5 640.5,502.9 641.0,503.2 641.5,503.6 642.0,503.8 642.5,504.1 643.0,504.3 643.5,504.5 644.0,504.6 644.5,504.6 645.0,504.2 645.5,503.0 646.0,501.4 646.5,499.5 647.0,497.6 647.5,496.0 648.0,494.7 648.5,494.1 649.0,494.2 649.5,494.7 650.0,495.5 650.5,496.6 651.0,497.8 651.5,499.1 652.0,500.5 652.5,501.8 653.0,503.1 653.5,504.2 654.0,505.0 654.5,505.6 655.0,505.8 655.5,505.5 656.0,504.8 656.5,503.9 657.0,503.0 657.5,502.3 658.0,502.0 658.5,502.3 659.0,503.0 659.5,503.7 660.0,504.0 660.5,503.5 661.0,502.3 661.5,500.7 662.0,498.8 662.5,497.0 663.0,495.6 663.5,494.8 664.0,494.8 664.5,495.5 665.0,496.7 665.5,498.3 666.0,500.2 666.5,502.3 667.0,504.6 667.5,506.9 668.0,509.1 668.5,511.2 669.0,513.1 669.5,514.6 670.0,515.7 670.5,516.2 671.0,516.1 671.5,515.2 672.0,513.5 672.5,511.2 673.0,508.5 673.5,505.4 674.0,502.2 674.5,498.9 675.0,495.6 675.5,492.6 676.0,490.0 676.5,487.8 677.0,486.3 677.5,485.5 678.0,485.5 678.5,486.1 679.0,487.0 679.5,488.3 680.0,489.9 680.5,491.6 681.0,493.3 681.5,495.0 682.0,496.7 682.5,498.1 683.0,499.2 683.5,499.9 684.0,500.3 684.5,500.7 685.0,501.1 685.5,501.5 686.0,501.8 686.5,502.1 687.0,502.4 687.5,502.7 688.0,503.0 688.5,503.2 689.0,503.4 689.5,503.6 690.0,503.7 690.5,503.8 691.0,503.9 691.5,504.0 692.0,504.0" fill="none" stroke="#000" stroke-width="1.2" stroke-linejoin="round"/>
<polyline points="96.0,536.5 96.5,537.1 97.0,537.7 97.5,538.1 98.0,538.6 98.5,538.9 99.0,539.2 99.5,539.5 100.0,539.7 100.5,539.9 101.0,540.0 101.5,540.1 102.0,540.2 102.5,540.2 103.0,540.3 103.5,540.3 104.0,540.3 104.5,540.3 105.0,540.2 105.5,539.6 106.0,538.6 106.5,537.5 107.0,536.4 107.5,535.6 108.0,535.3 108.5,535.6 109.0,536.3 109.5,537.3 110.0,538.3 110.5,539.2 111.0,539.7 111.5,539.6 112.0,539.2 112.5,538.4 113.0,537.5 113.5,536.4 114.0,535.2 114.5,534.0 115.0,533.0 115.5,531.8 116.0,530.5 116.5,529.0 117.0,527.5 117.5,526.0 118.0,524.5 118.5,523.2 119.0,522.0 119.5,521.0 120.0,520.4 120.5,520.1 121.0,520.5 121.5,521.9 122.0,524.2 122.5,527.1 123.0,530.4 123.5,534.0 124.0,537.6 124.5,541.0 125.0,544.0 125.5,546.4 126.0,548.0 126.5,548.6 127.0,548.0 127.5,546.5 128.0,544.3 128.5,541.9 129.0,539.6 129.5,537.6 130.0,536.4 130.5,536.3 131.0,537.5 131.5,539.7 132.0,542.5 132.5,545.7 133.0,548.8 133.5,551.5 134.0,553.5 134.5,554.5 135.0,554.2 135.5,553.1 136.0,551.2 136.5,548.9 137.0,546.2 137.5,543.4 138.0,540.5 138.5,537.8 139.0,535.5 139.5,533.6 140.0,532.5 140.5,532.2 141.0,532.5 141.5,533.0 142.0,533.8 142.5,534.6 143.0,535.4 143.5,536.0 144.0,536.4 144.5,536.5 145.0,536.0 145.5,535.1 146.0,534.1 146.5,533.0 147.0,532.0 147.5,531.3 148.0,531.0 148.5,532.0 149.0,534.5 149.5,537.9 150.0,541.4 150.5,544.3 151.0,546.0 151.5,546.0 152.0,544.9 152.5,543.0 153.0,540.6 153.5,537.8 154.0,534.8 154.5,531.9 155.0,529.2 155.5,526.9 156.0,525.3 156.5,524.6 157.0,524.8 157.5,525.6 158.0,527.0 158.5,528.7 159.0,530.8 159.5,533.1 160.0,535.5 160.5,537.9 161.0,540.2 161.5,542.4 162.0,544.3 162.5,545.8 163.0,546.8 163.5,547.3 164.0,547.1 164.5,546.5 165.0,545.5 165.5,544.2 166.0,542.7 166.5,541.0 167.0,539.2 167.5,537.4 168.0,535.6 168.5,534.0 169.0,532.5 169.5,531.3 170.0,530.5 170.5,530.0 171.0,530.1 171.5,530.7 172.0,531.7 172.5,533.1 173.0,534.6 173.5,536.1 174.0,537.5 174.5,538.8 175.0,539.7 175.5,540.4 176.0,541.2 176.5,542.0 177.0,542.8 177.5,543.5 178.0,544.2 178.5,544.8 179.0,545.4 179.5,545.9 180.0,546.3 180.5,546.6 181.0,546.8 181.5,546.8 182.0,546.0 182.5,544.4 183.0,542.2 183.5,539.8 184.0,537.5 184.5,535.5 185.0,534.2 185.5,533.8 186.0,534.1 186.5,534.6 187.0,535.4 187.5,536.4 188.0,537.3 188.5,538.3 189.0,539.2 189.5,539.8 190.0,540.2 190.5,540.3 191.0,540.1 191.5,539.6 192.0,539.1 192.5,538.4 193.0,537.7 193.5,536.9 194.0,536.2 194.5,535.6 195.0,535.1 195.5,534.7 196.0,534.6 196.5,534.7 197.0,535.1 197.5,535.6 198.0,536.2 198.5,536.8 199.0,537.3 199.5,537.7 200.0,537.8 200.5,537.7 201.0,537.4 201.5,537.0 202.0,536.5 202.5,536.0 203.0,535.3 203.5,534.7 204.0,534.0 204.5,533.5 205.0,533.0 205.5,532.6 206.0,532.3 206.5,532.2 207.0,532.6 207.5,533.5 208.0,534.9 208.5,536.5 209.0,538.1 209.5,539.5 210.0,540.6 210.5,541.1 211.0,540.7 211.5,539.4 212.0,537.5 212.5,535.4 213.0,533.6 213.5,532.4 214.0,532.2 214.5,532.4 215.0,532.8 215.5,533.3 216.0,533.9 216.5,534.7 217.0,535.5 217.5,536.3 218.0,537.2 218.5,538.1 219.0,539.0 219.5,539.7 220.0,540.5 220.5,541.0 221.0,541.5 221.5,541.8 222.0,541.9 222.5,541.6 223.0,540.6 223.5,539.3 224.0,537.6 224.5,535.8 225.0,534.1 225.5,532.6 226.0,531.3 226.5,530.6 227.0,530.6 227.5,531.1 228.0,532.2 228.5,533.6 229.0,535.3 229.5,537.2 230.0,539.1 230.5,541.0 231.0,542.6 231.5,543.9 232.0,544.8 232.5,545.1 233.0,545.1 233.5,545.0 234.0,544.9 234.5,544.8 235.0,544.6 235.5,544.4 236.0,544.2 236.5,543.9 237.0,543.6 237.5,543.3 238.0,543.0 238.5,542.7 239.0,542.3 239.5,541.9 240.0,541.6 240.5,541.2 241.0,540.7 241.5,540.0 242.0,539.1 242.5,538.1 243.0,537.1 243.5,536.0 244.0,534.9 244.5,534.0 245.0,533.2 245.5,532.6 246.0,532.3 246.5,532.2 247.0,532.3 247.5,532.5 248.0,532.8 248.5,533.2 249.0,533.7 249.5,534.2 250.0,534.7 250.5,535.3 251.0,535.9 251.5,536.4 252.0,537.0 252.5,537.5 253.0,538.0 253.5,538.5 254.0,539.1 254.5,539.7 255.0,540.4 255.5,541.0 256.0,541.7 256.5,542.4 257.0,543.0 257.5,543.6 258.0,544.2 258.5,544.7 259.0,545.2 259.5,545.5 260.0,545.8 260.5,546.0 261.0,546.0 261.5,545.8 262.0,545.4 262.5,544.7 263.0,543.9 263.5,542.9 264.0,541.9 264.5,540.8 265.0,539.7 265.5,538.7 266.0,537.7 266.5,536.9 267.0,536.2 267.5,535.7 268.0,535.4 268.5,535.4 269.0,535.6 269.5,535.8 270.0,536.1 270.5,536.4 271.0,536.7 271.5,536.9 272.0,537.0 272.5,537.0 273.0,536.9 273.5,536.7 274.0,536.5 274.5,536.3 275.0,536.0 275.5,535.7 276.0,535.5 276.5,535.2 277.0,535.0 277.5,534.8 278.0,534.7 278.5,534.6 279.0,534.6 279.5,534.7 280.0,534.9 280.5,535.1 281.0,535.3 281.5,535.6 282.0,535.9 282.5,536.1 283.0,536.3 283.5,536.5 284.0,536.5 284.5,536.5 285.0,536.5 285.5,536.4 286.0,536.4 286.5,536.3 287.0,536.2 287.5,536.1 288.0,536.0 288.5,535.9 289.0,535.7 289.5,535.6 290.0,535.4 290.5,534.8 291.0,533.7 291.5,532.3 292.0,530.9 292.5,529.7 293.0,529.0 293.5,528.9 294.0,529.2 294.5,529.6 295.0,530.1 295.5,530.9 296.0,531.7 296.5,532.6 297.0,533.7 297.5,534.7 298.0,535.9 298.5,537.0 299.0,538.1 299.5,539.3 300.0,540.3 300.5,541.4 301.0,542.3 301.5,543.1 302.0,543.9 302.5,544.4 303.0,544.8 303.5,545.1 304.0,545.1 304.5,544.8 305.0,544.4 305.5,543.7 306.0,542.9 306.5,542.0 307.0,540.9 307.5,539.8 308.0,538.7 308.5,537.6 309.0,536.5 309.5,535.6 310.0,534.7 310.5,534.0 311.0,533.4 311.5,533.1 312.0,533.0 312.5,533.2 313.0,533.7 313.5,534.4 314.0,535.1 314.5,535.8 315.0,536.4 315.5,536.8 316.0,537.0 316.5,536.9 317.0,536.7 317.5,536.4 318.0,536.0 318.5,535.7 319.0,535.4 319.5,535.2 320.0,535.1 320.5,535.2 321.0,535.6 321.5,536.1 322.0,536.7 322.5,537.4 323.0,538.0 323.5,538.6 324.0,539.1 324.5,539.4 325.0,539.5 325.5,539.4 326.0,539.1 326.5,538.8 327.0,538.5 327.5,538.1 328.0,537.8 328.5,537.6 329.0,537.5 329.5,537.6 330.0,537.8 330.5,538.2 331.0,538.6 331.5,539.1 332.0,539.7 332.5,540.3 333.0,540.9 333.5,541.5 334.0,542.1 334.5,542.6 335.0,543.0 335.5,543.3 336.0,543.5 336.5,543.5 337.0,543.2 337.5,542.6 338.0,541.8 338.5,540.8 339.0,539.8 339.5,538.7 340.0,537.7 340.5,536.8 341.0,536.1 341.5,535.6 342.0,535.4 342.5,535.5 343.0,535.8 343.5,536.3 344.0,536.8 344.5,537.5 345.0,538.1 345.5,538.7 346.0,539.3 346.5,539.8 347.0,540.1 347.5,540.3 348.0,540.2 348.5,540.0 349.0,539.7 349.5,539.2 350.0,538.7 350.5,538.0 351.0,537.4 351.5,536.7 352.0,536.1 352.5,535.4 353.0,534.9 353.5,534.4 354.0,534.1 354.5,533.9 355.0,533.8 355.5,534.0 356.0,534.3 356.5,534.8 357.0,535.4 357.5,536.1 358.0,536.8 358.5,537.6 359.0,538.3 359.5,539.0 360.0,539.5 360.5,540.0 361.0,540.2 361.5,540.3 362.0,540.2 362.5,540.0 363.0,539.7 363.5,539.3 364.0,538.9 364.5,538.4 365.0,537.9 365.5,537.5 366.0,537.0 366.5,536.7 367.0,536.4 367.5,536.2 368.0,536.2 368.5,536.3 369.0,536.5 369.5,536.7 370.0,537.0 370.5,537.4 371.0,537.7 371.5,538.0 372.0,538.3 372.5,538.4 373.0,538.5 373.5,538.4 374.0,538.3 374.5,538.1 375.0,537.8 375.5,537.5 376.0,537.2 376.5,536.9 377.0,536.6 377.5,536.4 378.0,536.3 378.5,536.2 379.0,536.3 379.5,536.5 380.0,536.8 380.5,537.2 381.0,537.7 381.5,538.2 382.0,538.7 382.5,539.1 383.0,539.5 383.5,539.7 384.0,539.9 384.5,539.8 385.0,539.6 385.5,539.1 386.0,538.5 386.5,537.8 387.0,537.1 387.5,536.4 388.0,535.9 388.5,535.5 389.0,535.4 389.5,535.4 390.0,535.4 390.5,535.5 391.0,535.6 391.5,535.7 392.0,535.8 392.5,535.9 393.0,536.0 393.5,536.2 394.0,536.3 394.5,536.5 395.0,536.7 395.5,536.8 396.0,537.0 396.5,537.2 397.0,537.5 397.5,537.8 398.0,538.2 398.5,538.6 399.0,539.1 399.5,539.4 400.0,539.8 400.5,540.1 401.0,540.4 401.5,540.5 402.0,540.6 402.5,540.6 403.0,540.5 403.5,540.4 404.0,540.3 404.5,540.2 405.0,540.1 405.5,539.9 406.0,539.7 406.5,539.6 407.0,539.4 407.5,539.2 408.0,539.1 408.5,538.9 409.0,538.8 409.5,538.7 410.0,538.6 410.5,538.5 411.0,538.5 411.5,538.4 412.0,538.4 412.5,538.3 413.0,538.3 413.5,538.2 414.0,538.2 414.5,538.2 415.0,538.1 415.5,538.1 416.0,538.0 416.5,538.0 417.0,537.9 417.5,537.9 418.0,537.8 418.5,537.7 419.0,537.6 419.5,537.5 420.0,537.3 420.5,537.2 421.0,537.0 421.5,536.8 422.0,536.6 422.5,536.4 423.0,536.3 423.5,536.1 424.0,535.9 424.5,535.8 425.0,535.7 425.5,535.5 426.0,535.5 426.5,535.4 427.0,535.4 427.5,535.5 428.0,535.7 428.5,536.1 429.0,536.5 429.5,537.0 430.0,537.6 430.5,538.1 431.0,538.7 431.5,539.2 432.0,539.6 432.5,540.0 433.0,540.2 433.5,540.3 434.0,540.2 434.5,540.0 435.0,539.7 435.5,539.4 436.0,538.9 436.5,538.5 437.0,538.0 437.5,537.6 438.0,537.1 438.5,536.8 439.0,536.5 439.5,536.3 440.0,536.2 440.5,536.3 441.0,536.5 441.5,536.9 442.0,537.4 442.5,537.9 443.0,538.4 443.5,538.9 444.0,539.4 444.5,539.8 445.0,540.1 445.5,540.3 446.0,540.3 446.5,540.2 447.0,540.2 447.5,540.1 448.0,539.9 448.5,539.8 449.0,539.6 449.5,539.4 450.0,539.2 450.5,539.0 451.0,538.8 451.5,538.6 452.0,538.4 452.5,538.2 453.0,538.0 453.5,537.9 454.0,537.8 454.5,537.6 455.0,537.5 455.5,537.4 456.0,537.3 456.5,537.2 457.0,537.0 457.5,536.9 458.0,536.8 458.5,536.7 459.0,536.6 459.5,536.5 460.0,536.4 460.5,536.4 461.0,536.3 461.5,536.3 462.0,536.2 462.5,536.2 463.0,536.2 463.5,536.2 464.0,536.3 464.5,536.4 465.0,536.6 465.5,536.7 466.0,536.9 466.5,537.0 467.0,537.2 467.5,537.3 468.0,537.4 468.5,537.5 469.0,537.5 469.5,537.5 470.0,537.5 470.5,537.5 471.0,537.4 471.5,537.4 472.0,537.3 472.5,537.3 473.0,537.2 473.5,537.2 474.0,537.1 474.5,537.1 475.0,537.0 475.5,536.9 476.0,536.8 476.5,536.7 477.0,536.6 477.5,536.5 478.0,536.4 478.5,536.2 479.0,536.1 479.5,536.0 480.0,535.8 480.5,535.7 481.0,535.6 481.5,535.5 482.0,535.5 482.5,535.4 483.0,535.4 483.5,535.4 484.0,535.4 484.5,535.4 485.0,535.4 485.5,535.4 486.0,535.5 486.5,535.5 487.0,535.5 487.5,535.5 488.0,535.6 488.5,535.6 489.0,535.7 489.5,535.7 490.0,535.8 490.5,535.8 491.0,535.9 491.5,535.9 492.0,536.0 492.5,536.0 493.0,536.1 493.5,536.2 494.0,536.3 494.5,536.4 495.0,536.6 495.5,536.8 496.0,537.1 496.5,537.4 497.0,537.7 497.5,538.1 498.0,538.5 498.5,539.2 499.0,540.5 499.5,541.9 500.0,543.5 500.5,545.0 501.0,546.1 501.5,546.7 502.0,546.7 502.5,546.3 503.0,545.5 503.5,544.5 504.0,543.4 504.5,542.3 505.0,541.4 505.5,540.6 506.0,540.1 506.5,539.7 507.0,539.3 507.5,539.0 508.0,538.6 508.5,538.3 509.0,537.9 509.5,537.6 510.0,537.3 510.5,537.1 511.0,536.9 511.5,536.7 512.0,536.5 512.5,536.4 513.0,536.3 513.5,536.2 514.0,536.2 514.5,536.7 515.0,537.5 515.5,538.7 516.0,539.8 516.5,540.6 517.0,541.1 517.5,540.9 518.0,540.4 518.5,539.6 519.0,538.6 519.5,537.5 520.0,536.6 520.5,535.8 521.0,535.4 521.5,535.5 522.0,536.2 522.5,537.2 523.0,538.3 523.5,539.4 524.0,540.1 524.5,540.3 525.0,540.2 525.5,539.9 526.0,539.5 526.5,539.0 527.0,538.5 527.5,538.0 528.0,537.5 528.5,537.0 529.0,536.6 529.5,536.4 530.0,536.3 530.5,536.3 531.0,536.4 531.5,536.4 532.0,536.5 532.5,536.7 533.0,536.8 533.5,537.0 534.0,537.2 534.5,537.4 535.0,537.6 535.5,537.8 536.0,538.0 536.5,538.2 537.0,538.4 537.5,538.6 538.0,538.8 538.5,539.0 539.0,539.2 539.5,539.4 540.0,539.7 540.5,540.0 541.0,540.3 541.5,540.6 542.0,540.9 542.5,541.1 543.0,541.4 543.5,541.6 544.0,541.8 544.5,541.9 545.0,542.0 545.5,542.0 546.0,541.8 546.5,541.5 547.0,541.0 547.5,540.4 548.0,539.8 548.5,539.1 549.0,538.5 549.5,537.9 550.0,537.3 550.5,537.0 551.0,536.7 551.5,536.4 552.0,536.2 552.5,535.9 553.0,535.5 553.5,535.0 554.0,534.3 554.5,533.4 555.0,532.4 555.5,531.3 556.0,530.1 556.5,528.9 557.0,527.6 557.5,526.3 558.0,525.0 558.5,523.7 559.0,522.5 559.5,521.4 560.0,520.4 560.5,519.5 561.0,518.7 561.5,518.2 562.0,517.8 562.5,517.7 563.0,518.2 563.5,519.7 564.0,521.6 564.5,523.9 565.0,526.0 565.5,528.5 566.0,531.8 566.5,535.2 567.0,538.4 567.5,540.8 568.0,542.0 568.5,541.9 569.0,541.7 569.5,541.3 570.0,540.8 570.5,540.3 571.0,539.9 571.5,539.6 572.0,539.5 572.5,540.1 573.0,541.6 573.5,543.8 574.0,546.4 574.5,549.1 575.0,551.6 575.5,553.6 576.0,554.8 576.5,554.9 577.0,554.2 577.5,552.9 578.0,551.0 578.5,548.8 579.0,546.3 579.5,543.7 580.0,541.2 580.5,538.8 581.0,536.7 581.5,535.0 582.0,533.9 582.5,533.1 583.0,532.4 583.5,531.7 584.0,531.1 584.5,530.6 585.0,530.1 585.5,529.9 586.0,529.8 586.5,530.2 587.0,531.1 587.5,532.5 588.0,534.2 588.5,536.1 589.0,537.9 589.5,539.6 590.0,540.9 590.5,541.8 591.0,542.0 591.5,541.7 592.0,541.1 592.5,540.2 593.0,539.1 593.5,537.8 594.0,536.3 594.5,534.8 595.0,533.4 595.5,531.9 596.0,530.6 596.5,529.4 597.0,528.5 597.5,527.8 598.0,527.4 598.5,527.5 599.0,528.1 599.5,529.1 600.0,530.4 600.5,532.0 601.0,533.8 601.5,535.7 602.0,537.5 602.5,539.3 603.0,540.9 603.5,542.1 604.0,543.1 604.5,543.6 605.0,543.5 605.5,543.0 606.0,542.1 606.5,541.0 607.0,539.8 607.5,538.5 608.0,537.4 608.5,536.4 609.0,535.7 609.5,535.5 610.0,535.6 610.5,535.7 611.0,535.9 611.5,536.1 612.0,536.4 612.5,536.6 613.0,536.8 613.5,536.9 614.0,537.0 614.5,536.9 615.0,536.8 615.5,536.6 616.0,536.4 616.5,536.1 617.0,535.9 617.5,535.7 618.0,535.6 618.5,535.5 619.0,536.0 619.5,537.3 620.0,539.1 620.5,541.3 621.0,543.6 621.5,545.8 622.0,547.5 622.5,548.7 623.0,549.0 623.5,548.4 624.0,547.3 624.5,545.8 625.0,544.3 625.5,542.9 626.0,542.0 626.5,541.4 627.0,541.0 627.5,540.6 628.0,540.2 628.5,539.9 629.0,539.6 629.5,539.2 630.0,538.9 630.5,538.5 631.0,538.0 631.5,537.5 632.0,536.9 632.5,536.4 633.0,535.8 633.5,535.3 634.0,534.9 634.5,534.6 635.0,534.4 635.5,534.4 636.0,534.7 636.5,535.2 637.0,535.9 637.5,536.6 638.0,537.4 638.5,538.3 639.0,539.0 639.5,539.7 640.0,540.3 640.5,540.7 641.0,540.8 641.5,540.7 642.0,540.2 642.5,539.6 643.0,538.8 643.5,537.8 644.0,536.8 644.5,535.6 645.0,534.5 645.5,533.4 646.0,532.3 646.5,531.3 647.0,530.4 647.5,529.8 648.0,529.3 648.5,529.1 649.0,529.5 649.5,530.9 650.0,533.0 650.5,535.4 651.0,537.6 651.5,539.3 652.0,540.2 652.5,539.9 653.0,539.0 653.5,537.5 654.0,535.9 654.5,534.4 655.0,533.2 655.5,532.6 656.0,532.6 656.5,532.7 657.0,532.9 657.5,533.0 658.0,533.3 658.5,533.5 659.0,533.9 659.5,534.7 660.0,535.7 660.5,536.8 661.0,537.9 661.5,538.9 662.0,539.8 662.5,540.5 663.0,540.8 663.5,540.6 664.0,540.0 664.5,539.0 665.0,537.7 665.5,536.3 666.0,534.8 666.5,533.4 667.0,532.1 667.5,531.1 668.0,530.5 668.5,530.3 669.0,531.0 669.5,532.5 670.0,534.5 670.5,537.0 671.0,539.6 671.5,542.3 672.0,544.8 672.5,546.8 673.0,548.3 673.5,549.0 674.0,548.9 674.5,548.5 675.0,547.9 675.5,547.1 676.0,546.1 676.5,545.1 677.0,544.0 677.5,542.9 678.0,541.9 678.5,541.0 679.0,540.3 679.5,539.8 680.0,539.6 680.5,539.7 681.0,540.1 681.5,540.8 682.0,541.5 682.5,542.3 683.0,542.9 683.5,543.5 684.0,543.7 684.5,543.6 685.0,543.0 685.5,542.2 686.0,541.1 686.5,539.9 687.0,538.6 687.5,537.3 688.0,536.0 688.5,534.9 689.0,534.0 689.5,533.4 690.0,533.2 690.5,533.2 691.0,533.4 691.5,533.6 692.0,534.0" fill="none" stroke="#000" stroke-width="1.2" stroke-linejoin="round"/>
<text x="279.50" y="655.00" font-size="14.72" textLength="192.50" lengthAdjust="spacingAndGlyphs" stroke="#000" stroke-width="0.15">SPECTRAL ACCELERATION, Sa</text>
<rect x="92.0" y="665.6" width="614.80" height="165.60" fill="none" stroke="#000" stroke-width="1.3"/>
<line x1="143.23" y1="665.60" x2="143.23" y2="669.60" stroke="#000" stroke-width="1.0"/>
<line x1="143.23" y1="831.20" x2="143.23" y2="827.20" stroke="#000" stroke-width="1.0"/>
<line x1="194.47" y1="665.60" x2="194.47" y2="671.60" stroke="#000" stroke-width="1.0"/>
<line x1="194.47" y1="831.20" x2="194.47" y2="825.20" stroke="#000" stroke-width="1.0"/>
<line x1="245.70" y1="665.60" x2="245.70" y2="669.60" stroke="#000" stroke-width="1.0"/>
<line x1="245.70" y1="831.20" x2="245.70" y2="827.20" stroke="#000" stroke-width="1.0"/>
<line x1="296.93" y1="665.60" x2="296.93" y2="671.60" stroke="#000" stroke-width="1.0"/>
<line x1="296.93" y1="831.20" x2="296.93" y2="825.20" stroke="#000" stroke-width="1.0"/>
<line x1="348.17" y1="665.60" x2="348.17" y2="669.60" stroke="#000" stroke-width="1.0"/>
<line x1="348.17" y1="831.20" x2="348.17" y2="827.20" stroke="#000" stroke-width="1.0"/>
<line x1="399.40" y1="665.60" x2="399.40" y2="671.60" stroke="#000" stroke-width="1.0"/>
<line x1="399.40" y1="831.20" x2="399.40" y2="825.20" stroke="#000" stroke-width="1.0"/>
<line x1="450.63" y1="665.60" x2="450.63" y2="669.60" stroke="#000" stroke-width="1.0"/>
<line x1="450.63" y1="831.20" x2="450.63" y2="827.20" stroke="#000" stroke-width="1.0"/>
<line x1="501.87" y1="665.60" x2="501.87" y2="671.60" stroke="#000" stroke-width="1.0"/>
<line x1="501.87" y1="831.20" x2="501.87" y2="825.20" stroke="#000" stroke-width="1.0"/>
<line x1="553.10" y1="665.60" x2="553.10" y2="669.60" stroke="#000" stroke-width="1.0"/>
<line x1="553.10" y1="831.20" x2="553.10" y2="827.20" stroke="#000" stroke-width="1.0"/>
<line x1="604.33" y1="665.60" x2="604.33" y2="671.60" stroke="#000" stroke-width="1.0"/>
<line x1="604.33" y1="831.20" x2="604.33" y2="825.20" stroke="#000" stroke-width="1.0"/>
<line x1="655.57" y1="665.60" x2="655.57" y2="669.60" stroke="#000" stroke-width="1.0"/>
<line x1="655.57" y1="831.20" x2="655.57" y2="827.20" stroke="#000" stroke-width="1.0"/>
<line x1="92.00" y1="789.80" x2="98.00" y2="789.80" stroke="#000" stroke-width="1.0"/>
<line x1="706.80" y1="789.80" x2="700.80" y2="789.80" stroke="#000" stroke-width="1.0"/>
<line x1="92.00" y1="748.40" x2="104.00" y2="748.40" stroke="#000" stroke-width="1.0"/>
<line x1="706.80" y1="748.40" x2="694.80" y2="748.40" stroke="#000" stroke-width="1.0"/>
<line x1="92.00" y1="707.00" x2="98.00" y2="707.00" stroke="#000" stroke-width="1.0"/>
<line x1="706.80" y1="707.00" x2="700.80" y2="707.00" stroke="#000" stroke-width="1.0"/>
<text x="58.01 62.95 69.58 76.22" y="751.70" font-size="12.15" font-family="&apos;Liberation Sans&apos;, &apos;DejaVu Sans&apos;, sans-serif" transform="scale(0.95 1)" stroke="#000" stroke-width="0.2">.004</text>
<text x="81.31" y="833.50" font-size="11.86" font-family="&apos;Liberation Sans&apos;, &apos;DejaVu Sans&apos;, sans-serif" transform="scale(0.95 1)" stroke="#000" stroke-width="0.2">0</text>
<text x="90.60" y="841.40" font-size="11.86" font-family="&apos;Liberation Sans&apos;, &apos;DejaVu Sans&apos;, sans-serif" transform="scale(0.95 1)" stroke="#000" stroke-width="0.2">0</text>
<text x="196.63 201.93" y="841.40" font-size="11.86" font-family="&apos;Liberation Sans&apos;, &apos;DejaVu Sans&apos;, sans-serif" transform="scale(0.95 1)" stroke="#000" stroke-width="0.2">.5</text>
<text x="299.37 307.96 313.26" y="841.40" font-size="11.86" font-family="&apos;Liberation Sans&apos;, &apos;DejaVu Sans&apos;, sans-serif" transform="scale(0.95 1)" stroke="#000" stroke-width="0.2">1.0</text>
<text x="407.23 415.82 421.12" y="841.40" font-size="11.86" font-family="&apos;Liberation Sans&apos;, &apos;DejaVu Sans&apos;, sans-serif" transform="scale(0.95 1)" stroke="#000" stroke-width="0.2">1.5</text>
<text x="515.09 523.68 528.98" y="841.40" font-size="11.86" font-family="&apos;Liberation Sans&apos;, &apos;DejaVu Sans&apos;, sans-serif" transform="scale(0.95 1)" stroke="#000" stroke-width="0.2">2.0</text>
<text x="622.95 631.54 636.84" y="841.40" font-size="11.86" font-family="&apos;Liberation Sans&apos;, &apos;DejaVu Sans&apos;, sans-serif" transform="scale(0.95 1)" stroke="#000" stroke-width="0.2">2.5</text>
<text x="730.81 739.40 744.70" y="841.40" font-size="11.86" font-family="&apos;Liberation Sans&apos;, &apos;DejaVu Sans&apos;, sans-serif" transform="scale(0.95 1)" stroke="#000" stroke-width="0.2">3.0</text>
<text x="348.50" y="851.70" font-size="11.68" textLength="81.00" lengthAdjust="spacingAndGlyphs" stroke="#000" stroke-width="0.15">Period (sec)</text>
<text x="48.60" y="756.80" font-size="11.53" textLength="37.80" lengthAdjust="spacingAndGlyphs" transform="rotate(-90 48.60 756.80)" stroke="#000" stroke-width="0.15">Sa (g)</text>
<text x="579.80" y="683.30" font-size="10.93" textLength="79.20" lengthAdjust="spacingAndGlyphs" stroke="#000" stroke-width="0.15">(5% damping)</text>
<line x1="336.00" y1="691.40" x2="394.00" y2="691.40" stroke="#000" stroke-width="1.0"/>
<line x1="336.00" y1="699.40" x2="394.00" y2="699.40" stroke="#000" stroke-width="1.0" stroke-dasharray="18.6 4.9"/>
<line x1="336.00" y1="706.90" x2="394.00" y2="706.90" stroke="#555" stroke-width="1.0" stroke-dasharray="9.5 2.8 3.2 2.8 3.0 2.2"/>
<line x1="336.00" y1="714.80" x2="394.00" y2="714.80" stroke="#444" stroke-width="1.8"/>
<text x="404.30" y="693.60" font-size="9.26" textLength="70.85" lengthAdjust="spacingAndGlyphs" stroke="#000" stroke-width="0.15">Chn 2: 90 Deg</text>
<text x="404.30" y="701.20" font-size="9.26" textLength="76.30" lengthAdjust="spacingAndGlyphs" stroke="#000" stroke-width="0.15">Chn 1: 360 Deg</text>
<text x="404.30" y="709.00" font-size="9.26" textLength="49.05" lengthAdjust="spacingAndGlyphs" stroke="#000" stroke-width="0.15">Chn 3: Up</text>
<text x="404.30" y="717.00" font-size="9.26" textLength="218.00" lengthAdjust="spacingAndGlyphs" stroke="#000" stroke-width="0.15">Ref: 1991 Base Shear (S2,I1,Zone4,Rw1&amp;4)</text>
<polyline points="99.6,782.8 105.5,747.7 108.2,726.0 110.4,734.0 113.1,701.1 115.0,723.3 116.9,707.0 118.5,715.2 120.4,713.8 122.3,714.6 126.6,696.2 129.9,734.1 132.1,742.2 134.0,739.5 138.0,750.9 142.1,751.7 146.1,757.1 150.2,761.2 155.6,762.5 161.8,755.8 170.5,782.8 174.5,772.0 178.6,772.0 184.0,788.3 194.8,800.4 203.0,805.8 215.1,806.7 224.6,803.1 234.1,803.1 246.3,809.9 259.8,815.3 276.0,819.4 292.0,820.7 312.0,822.0 335.0,826.0 350.0,827.8 400.0,829.2 500.0,830.0 640.0,830.3 706.0,830.5" fill="none" stroke="#000" stroke-width="1.05" stroke-linejoin="round"/>
<polyline points="99.6,793.7 104.2,761.2 107.0,745.0 109.6,728.7 112.0,718.0 114.0,712.0 116.0,724.0 118.0,710.0 120.0,722.0 121.5,738.0 123.0,745.0 125.0,735.0 127.6,724.0 129.8,736.6 133.9,719.6 140.2,713.3 144.2,720.5 145.5,725.9 150.9,742.0 153.6,749.2 158.0,756.0 161.0,758.5 170.5,780.1 178.6,795.0 185.4,788.3 189.4,782.8 196.2,793.7 203.0,804.5 212.4,812.6 224.6,816.7 235.4,818.0 254.4,819.4 276.0,820.7 292.0,822.1 312.0,823.5 335.0,826.5 350.0,828.0 400.0,829.5 500.0,830.2 640.0,830.5 706.0,830.6" fill="none" stroke="#000" stroke-width="1.05" stroke-linejoin="round" stroke-dasharray="8 2.5"/>
<polyline points="99.8,786.9 104.0,765.0 109.7,740.2 111.5,743.8 113.7,767.1 115.9,747.4 119.5,764.4 123.1,768.0 127.6,759.1 136.6,781.5 145.5,760.0 150.0,742.9 153.6,748.3 156.3,758.2 158.0,772.0 165.1,785.5 173.2,801.8 178.6,796.4 185.4,804.5 192.1,811.3 205.7,815.3 224.6,819.4 254.4,820.7 292.0,824.8 312.0,825.5 335.0,827.5 350.0,828.5 400.0,829.8 500.0,830.4 640.0,830.6 706.0,830.7" fill="none" stroke="#000" stroke-width="1.05" stroke-linejoin="round" stroke-dasharray="5 2 1.5 2"/>
<text x="279.50" y="907.90" font-size="14.42" textLength="192.50" lengthAdjust="spacingAndGlyphs" stroke="#000" stroke-width="0.15">VELOCITY FOURIER SPECTRUM</text>
<rect x="92.0" y="920.2" width="614.80" height="165.60" fill="none" stroke="#000" stroke-width="1.3"/>
<line x1="92.00" y1="915.20" x2="92.00" y2="920.20" stroke="#000" stroke-width="1.3"/>
<line x1="130.43" y1="920.20" x2="130.43" y2="923.20" stroke="#000" stroke-width="1.0"/>
<line x1="130.43" y1="1085.80" x2="130.43" y2="1082.80" stroke="#000" stroke-width="1.0"/>
<line x1="168.85" y1="920.20" x2="168.85" y2="925.20" stroke="#000" stroke-width="1.0"/>
<line x1="168.85" y1="1085.80" x2="168.85" y2="1080.80" stroke="#000" stroke-width="1.0"/>
<line x1="207.27" y1="920.20" x2="207.27" y2="923.20" stroke="#000" stroke-width="1.0"/>
<line x1="207.27" y1="1085.80" x2="207.27" y2="1082.80" stroke="#000" stroke-width="1.0"/>
<line x1="245.70" y1="920.20" x2="245.70" y2="925.20" stroke="#000" stroke-width="1.0"/>
<line x1="245.70" y1="1085.80" x2="245.70" y2="1080.80" stroke="#000" stroke-width="1.0"/>
<line x1="284.12" y1="920.20" x2="284.12" y2="923.20" stroke="#000" stroke-width="1.0"/>
<line x1="284.12" y1="1085.80" x2="284.12" y2="1082.80" stroke="#000" stroke-width="1.0"/>
<line x1="322.55" y1="920.20" x2="322.55" y2="925.20" stroke="#000" stroke-width="1.0"/>
<line x1="322.55" y1="1085.80" x2="322.55" y2="1080.80" stroke="#000" stroke-width="1.0"/>
<line x1="360.97" y1="920.20" x2="360.97" y2="923.20" stroke="#000" stroke-width="1.0"/>
<line x1="360.97" y1="1085.80" x2="360.97" y2="1082.80" stroke="#000" stroke-width="1.0"/>
<line x1="399.40" y1="920.20" x2="399.40" y2="925.20" stroke="#000" stroke-width="1.0"/>
<line x1="399.40" y1="1085.80" x2="399.40" y2="1080.80" stroke="#000" stroke-width="1.0"/>
<line x1="437.82" y1="920.20" x2="437.82" y2="923.20" stroke="#000" stroke-width="1.0"/>
<line x1="437.82" y1="1085.80" x2="437.82" y2="1082.80" stroke="#000" stroke-width="1.0"/>
<line x1="476.25" y1="920.20" x2="476.25" y2="925.20" stroke="#000" stroke-width="1.0"/>
<line x1="476.25" y1="1085.80" x2="476.25" y2="1080.80" stroke="#000" stroke-width="1.0"/>
<line x1="514.67" y1="920.20" x2="514.67" y2="923.20" stroke="#000" stroke-width="1.0"/>
<line x1="514.67" y1="1085.80" x2="514.67" y2="1082.80" stroke="#000" stroke-width="1.0"/>
<line x1="553.10" y1="920.20" x2="553.10" y2="925.20" stroke="#000" stroke-width="1.0"/>
<line x1="553.10" y1="1085.80" x2="553.10" y2="1080.80" stroke="#000" stroke-width="1.0"/>
<line x1="591.52" y1="920.20" x2="591.52" y2="923.20" stroke="#000" stroke-width="1.0"/>
<line x1="591.52" y1="1085.80" x2="591.52" y2="1082.80" stroke="#000" stroke-width="1.0"/>
<line x1="629.95" y1="920.20" x2="629.95" y2="925.20" stroke="#000" stroke-width="1.0"/>
<line x1="629.95" y1="1085.80" x2="629.95" y2="1080.80" stroke="#000" stroke-width="1.0"/>
<line x1="668.38" y1="920.20" x2="668.38" y2="923.20" stroke="#000" stroke-width="1.0"/>
<line x1="668.38" y1="1085.80" x2="668.38" y2="1082.80" stroke="#000" stroke-width="1.0"/>
<line x1="92.00" y1="1044.40" x2="98.00" y2="1044.40" stroke="#000" stroke-width="1.0"/>
<line x1="706.80" y1="1044.40" x2="700.80" y2="1044.40" stroke="#000" stroke-width="1.0"/>
<line x1="92.00" y1="1003.00" x2="103.50" y2="1003.00" stroke="#000" stroke-width="1.0"/>
<line x1="706.80" y1="1003.00" x2="695.30" y2="1003.00" stroke="#000" stroke-width="1.0"/>
<line x1="92.00" y1="961.60" x2="98.00" y2="961.60" stroke="#000" stroke-width="1.0"/>
<line x1="706.80" y1="961.60" x2="700.80" y2="961.60" stroke="#000" stroke-width="1.0"/>
<text x="66.65 71.63 78.26" y="922.90" font-size="11.86" font-family="&apos;Liberation Sans&apos;, &apos;DejaVu Sans&apos;, sans-serif" transform="scale(0.95 1)" stroke="#000" stroke-width="0.2">.20</text>
<text x="66.65 71.63 78.26" y="1005.80" font-size="11.86" font-family="&apos;Liberation Sans&apos;, &apos;DejaVu Sans&apos;, sans-serif" transform="scale(0.95 1)" stroke="#000" stroke-width="0.2">.10</text>
<text x="81.10" y="1088.50" font-size="11.86" font-family="&apos;Liberation Sans&apos;, &apos;DejaVu Sans&apos;, sans-serif" transform="scale(0.95 1)" stroke="#000" stroke-width="0.2">0</text>
<text x="90.89" y="1095.70" font-size="11.58" font-family="&apos;Liberation Sans&apos;, &apos;DejaVu Sans&apos;, sans-serif" transform="scale(0.95 1)" stroke="#000" stroke-width="0.2">0</text>
<text x="170.02 175.15" y="1095.70" font-size="11.58" font-family="&apos;Liberation Sans&apos;, &apos;DejaVu Sans&apos;, sans-serif" transform="scale(0.95 1)" stroke="#000" stroke-width="0.2">.5</text>
<text x="245.94 254.28 259.41" y="1095.70" font-size="11.58" font-family="&apos;Liberation Sans&apos;, &apos;DejaVu Sans&apos;, sans-serif" transform="scale(0.95 1)" stroke="#000" stroke-width="0.2">1.0</text>
<text x="326.83 335.18 340.31" y="1095.70" font-size="11.58" font-family="&apos;Liberation Sans&apos;, &apos;DejaVu Sans&apos;, sans-serif" transform="scale(0.95 1)" stroke="#000" stroke-width="0.2">1.5</text>
<text x="407.73 416.07 421.20" y="1095.70" font-size="11.58" font-family="&apos;Liberation Sans&apos;, &apos;DejaVu Sans&apos;, sans-serif" transform="scale(0.95 1)" stroke="#000" stroke-width="0.2">2.0</text>
<text x="488.62 496.97 502.10" y="1095.70" font-size="11.58" font-family="&apos;Liberation Sans&apos;, &apos;DejaVu Sans&apos;, sans-serif" transform="scale(0.95 1)" stroke="#000" stroke-width="0.2">2.5</text>
<text x="569.52 577.86 582.99" y="1095.70" font-size="11.58" font-family="&apos;Liberation Sans&apos;, &apos;DejaVu Sans&apos;, sans-serif" transform="scale(0.95 1)" stroke="#000" stroke-width="0.2">3.0</text>
<text x="650.41 658.76 663.89" y="1095.70" font-size="11.58" font-family="&apos;Liberation Sans&apos;, &apos;DejaVu Sans&apos;, sans-serif" transform="scale(0.95 1)" stroke="#000" stroke-width="0.2">3.5</text>
<text x="731.31 739.65 744.78" y="1095.70" font-size="11.58" font-family="&apos;Liberation Sans&apos;, &apos;DejaVu Sans&apos;, sans-serif" transform="scale(0.95 1)" stroke="#000" stroke-width="0.2">4.0</text>
<text x="340.50" y="1108.30" font-size="11.68" textLength="94.08" lengthAdjust="spacingAndGlyphs" stroke="#000" stroke-width="0.15">Frequency (Hz)</text>
<text x="47.80" y="1037.50" font-size="11.84" textLength="125.40" lengthAdjust="spacingAndGlyphs" transform="rotate(-90 47.80 1037.50)" stroke="#000" stroke-width="0.15">V(f)   cm/sec - sec</text>
<text x="95.80" y="916.80" font-size="9.10" font-weight="bold" textLength="26.00" lengthAdjust="spacingAndGlyphs">fcHöw</text>
<line x1="336.00" y1="939.20" x2="394.00" y2="939.20" stroke="#000" stroke-width="1.0"/>
<line x1="336.00" y1="946.90" x2="394.00" y2="946.90" stroke="#000" stroke-width="1.0" stroke-dasharray="18.6 4.9"/>
<line x1="336.00" y1="954.80" x2="394.00" y2="954.80" stroke="#333" stroke-width="1.0" stroke-dasharray="9.5 2.8 3.2 2.8 3.0 2.2"/>
<text x="404.30" y="941.60" font-size="9.26" textLength="70.85" lengthAdjust="spacingAndGlyphs" stroke="#000" stroke-width="0.15">Chn 2: 90 Deg</text>
<text x="404.30" y="949.20" font-size="9.26" textLength="76.30" lengthAdjust="spacingAndGlyphs" stroke="#000" stroke-width="0.15">Chn 1: 360 Deg</text>
<text x="404.30" y="957.20" font-size="9.26" textLength="49.05" lengthAdjust="spacingAndGlyphs" stroke="#000" stroke-width="0.15">Chn 3: Up</text>
<polyline points="92.0,1085.5 92.5,1085.5 93.0,1085.5 93.5,1085.5 94.0,1085.5 94.5,1085.5 95.0,1085.5 95.5,1085.5 96.0,1085.5 96.5,1085.5 97.0,1085.5 97.5,1085.5 98.0,1085.5 98.5,1085.5 99.0,1085.5 99.5,1085.5 100.0,1085.5 100.5,1085.5 101.0,1085.5 101.5,1085.5 102.0,1085.6 102.5,1085.6 103.0,1085.7 103.5,1085.7 104.0,1085.7 104.5,1085.7 105.0,1085.7 105.5,1085.7 106.0,1085.7 106.5,1085.7 107.0,1085.6 107.5,1085.6 108.0,1085.6 108.5,1085.6 109.0,1085.6 109.5,1085.6 110.0,1085.6 110.5,1085.6 111.0,1085.7 111.5,1085.7 112.0,1085.7 112.5,1085.7 113.0,1085.7 113.5,1085.7 114.0,1085.7 114.5,1085.7 115.0,1085.7 115.5,1085.7 116.0,1085.7 116.5,1085.6 117.0,1085.6 117.5,1085.5 118.0,1085.5 118.5,1085.5 119.0,1085.4 119.5,1085.4 120.0,1085.5 120.5,1085.5 121.0,1085.6 121.5,1085.6 122.0,1085.7 122.5,1085.7 123.0,1085.7 123.5,1085.7 124.0,1085.7 124.5,1085.6 125.0,1085.4 125.5,1085.1 126.0,1084.9 126.5,1084.7 127.0,1084.6 127.5,1084.6 128.0,1084.7 128.5,1084.9 129.0,1085.1 129.5,1085.3 130.0,1085.4 130.5,1085.5 131.0,1085.5 131.5,1085.5 132.0,1085.4 132.5,1085.2 133.0,1084.9 133.5,1084.5 134.0,1084.2 134.5,1083.8 135.0,1083.7 135.5,1083.7 136.0,1083.8 136.5,1084.1 137.0,1084.4 137.5,1084.8 138.0,1085.1 138.5,1085.3 139.0,1085.5 139.5,1085.6 140.0,1085.6 140.5,1085.6 141.0,1085.6 141.5,1085.5 142.0,1085.3 142.5,1085.1 143.0,1084.7 143.5,1084.2 144.0,1083.7 144.5,1083.2 145.0,1082.8 145.5,1082.6 146.0,1082.6 146.5,1082.9 147.0,1083.3 147.5,1083.8 148.0,1084.3 148.5,1084.7 149.0,1084.9 149.5,1085.1 150.0,1085.1 150.5,1085.1 151.0,1084.8 151.5,1084.5 152.0,1084.0 152.5,1083.5 153.0,1082.9 153.5,1082.5 154.0,1082.3 154.5,1082.3 155.0,1082.5 155.5,1082.8 156.0,1083.2 156.5,1083.6 157.0,1084.0 157.5,1084.4 158.0,1084.6 158.5,1084.7 159.0,1084.8 159.5,1084.7 160.0,1084.3 160.5,1083.5 161.0,1082.2 161.5,1080.4 162.0,1078.3 162.5,1076.1 163.0,1074.1 163.5,1072.7 164.0,1072.2 164.5,1072.7 165.0,1074.1 165.5,1076.1 166.0,1078.4 166.5,1080.5 167.0,1082.3 167.5,1083.6 168.0,1084.5 168.5,1084.9 169.0,1085.1 169.5,1085.0 170.0,1084.7 170.5,1084.1 171.0,1083.3 171.5,1082.1 172.0,1080.6 172.5,1079.1 173.0,1077.7 173.5,1076.7 174.0,1076.2 174.5,1076.4 175.0,1077.2 175.5,1078.4 176.0,1079.9 176.5,1081.4 177.0,1082.7 177.5,1083.7 178.0,1084.4 178.5,1084.8 179.0,1084.9 179.5,1084.9 180.0,1084.6 180.5,1084.0 181.0,1083.0 181.5,1081.6 182.0,1079.7 182.5,1077.6 183.0,1075.6 183.5,1073.9 184.0,1073.0 184.5,1072.9 185.0,1073.5 185.5,1074.8 186.0,1076.4 186.5,1078.2 187.0,1079.9 187.5,1081.3 188.0,1082.4 188.5,1083.1 189.0,1083.5 189.5,1083.6 190.0,1083.4 190.5,1082.9 191.0,1082.1 191.5,1081.0 192.0,1079.7 192.5,1078.3 193.0,1076.9 193.5,1075.7 194.0,1075.0 194.5,1074.8 195.0,1075.5 195.5,1077.0 196.0,1078.9 196.5,1080.9 197.0,1082.6 197.5,1083.9 198.0,1084.7 198.5,1085.1 199.0,1085.2 199.5,1085.1 200.0,1084.6 200.5,1083.7 201.0,1082.3 201.5,1080.3 202.0,1078.0 202.5,1075.7 203.0,1074.0 203.5,1073.2 204.0,1073.4 204.5,1074.3 205.0,1075.7 205.5,1077.5 206.0,1079.2 206.5,1080.8 207.0,1082.1 207.5,1083.0 208.0,1083.5 208.5,1083.8 209.0,1083.7 209.5,1083.4 210.0,1082.8 210.5,1081.9 211.0,1080.8 211.5,1079.4 212.0,1078.0 212.5,1076.7 213.0,1075.8 213.5,1075.2 214.0,1075.3 214.5,1075.8 215.0,1076.8 215.5,1078.0 216.0,1079.4 216.5,1080.8 217.0,1082.1 217.5,1083.2 218.0,1084.0 218.5,1084.6 219.0,1084.9 219.5,1085.1 220.0,1085.2 220.5,1085.1 221.0,1084.7 221.5,1083.9 222.0,1082.6 222.5,1080.6 223.0,1077.9 223.5,1074.5 224.0,1070.7 224.5,1066.9 225.0,1063.4 225.5,1060.8 226.0,1059.3 226.5,1059.3 227.0,1062.1 227.5,1067.1 228.0,1072.8 228.5,1077.8 229.0,1081.3 229.5,1083.3 230.0,1084.0 230.5,1083.9 231.0,1083.1 231.5,1081.6 232.0,1079.2 232.5,1076.2 233.0,1073.2 233.5,1070.9 234.0,1070.1 234.5,1071.4 235.0,1074.8 235.5,1078.6 236.0,1081.7 236.5,1083.4 237.0,1083.9 237.5,1083.3 238.0,1081.3 238.5,1077.7 239.0,1072.9 239.5,1068.7 240.0,1067.0 240.5,1067.9 241.0,1070.6 241.5,1074.3 242.0,1078.0 242.5,1081.0 243.0,1083.1 243.5,1084.2 244.0,1084.6 244.5,1084.3 245.0,1082.7 245.5,1078.9 246.0,1072.3 246.5,1062.9 247.0,1052.3 247.5,1043.2 248.0,1038.2 248.5,1038.3 249.0,1042.0 249.5,1048.2 250.0,1055.8 250.5,1063.7 251.0,1070.6 251.5,1075.9 252.0,1079.6 252.5,1081.7 253.0,1082.6 253.5,1082.7 254.0,1082.2 254.5,1081.1 255.0,1079.4 255.5,1077.0 256.0,1074.1 256.5,1071.0 257.0,1068.0 257.5,1065.6 258.0,1064.2 258.5,1064.2 259.0,1065.9 259.5,1069.0 260.0,1072.8 260.5,1076.4 261.0,1079.3 261.5,1081.2 262.0,1082.2 262.5,1082.3 263.0,1081.4 263.5,1079.2 264.0,1075.3 264.5,1070.0 265.0,1063.7 265.5,1057.9 266.0,1054.0 266.5,1052.9 267.0,1054.0 267.5,1056.4 268.0,1060.0 268.5,1064.1 269.0,1068.4 269.5,1072.5 270.0,1076.0 270.5,1078.7 271.0,1080.8 271.5,1082.1 272.0,1082.8 272.5,1083.0 273.0,1082.8 273.5,1082.2 274.0,1081.2 274.5,1079.6 275.0,1077.4 275.5,1074.7 276.0,1071.6 276.5,1068.4 277.0,1065.3 277.5,1062.6 278.0,1060.8 278.5,1060.0 279.0,1060.4 279.5,1061.7 280.0,1064.0 280.5,1066.7 281.0,1069.6 281.5,1072.4 282.0,1074.7 282.5,1076.5 283.0,1077.7 283.5,1078.2 284.0,1078.1 284.5,1076.7 285.0,1074.1 285.5,1069.9 286.0,1064.3 286.5,1057.4 287.0,1050.0 287.5,1043.0 288.0,1037.4 288.5,1034.1 289.0,1033.8 289.5,1036.1 290.0,1040.5 290.5,1046.4 291.0,1052.9 291.5,1059.2 292.0,1064.6 292.5,1068.8 293.0,1071.7 293.5,1073.2 294.0,1073.5 294.5,1072.1 295.0,1069.0 295.5,1063.9 296.0,1056.8 296.5,1048.1 297.0,1038.6 297.5,1029.2 298.0,1021.5 298.5,1016.7 299.0,1015.5 299.5,1018.9 300.0,1026.4 300.5,1036.8 301.0,1048.1 301.5,1058.7 302.0,1067.5 302.5,1073.8 303.0,1077.9 303.5,1079.9 304.0,1080.5 304.5,1080.0 305.0,1078.8 305.5,1076.6 306.0,1073.4 306.5,1069.4 307.0,1064.9 307.5,1060.4 308.0,1056.5 308.5,1053.8 309.0,1052.9 309.5,1053.6 310.0,1055.8 310.5,1059.0 311.0,1062.9 311.5,1066.9 312.0,1070.8 312.5,1074.1 313.0,1076.7 313.5,1078.5 314.0,1079.6 314.5,1080.0 315.0,1079.6 315.5,1077.8 316.0,1074.2 316.5,1068.4 317.0,1060.1 317.5,1049.4 318.0,1037.2 318.5,1024.5 319.0,1013.1 319.5,1004.5 320.0,1000.1 320.5,1001.5 321.0,1011.9 321.5,1028.4 322.0,1046.5 322.5,1062.2 323.0,1073.0 323.5,1079.1 324.0,1081.6 324.5,1081.7 325.0,1080.4 325.5,1077.4 326.0,1072.6 326.5,1066.1 327.0,1058.9 327.5,1052.4 328.0,1048.5 328.5,1047.9 329.0,1049.3 329.5,1052.0 330.0,1055.8 330.5,1060.2 331.0,1064.7 331.5,1068.9 332.0,1072.7 332.5,1075.6 333.0,1077.9 333.5,1079.3 334.0,1080.1 334.5,1080.3 335.0,1080.0 335.5,1079.3 336.0,1078.2 336.5,1076.7 337.0,1074.8 337.5,1072.5 338.0,1070.1 338.5,1067.6 339.0,1065.4 339.5,1063.6 340.0,1062.4 340.5,1062.0 341.0,1062.6 341.5,1064.1 342.0,1066.5 342.5,1069.3 343.0,1072.1 343.5,1074.7 344.0,1076.8 344.5,1078.3 345.0,1079.3 345.5,1079.6 346.0,1079.4 346.5,1078.6 347.0,1077.1 347.5,1075.1 348.0,1072.6 348.5,1069.8 349.0,1067.0 349.5,1064.6 350.0,1062.8 350.5,1062.0 351.0,1062.5 351.5,1064.6 352.0,1067.9 352.5,1071.8 353.0,1075.7 353.5,1079.0 354.0,1081.5 354.5,1083.1 355.0,1084.1 355.5,1084.4 356.0,1084.4 356.5,1083.9 357.0,1082.9 357.5,1081.2 358.0,1078.6 358.5,1075.3 359.0,1071.6 359.5,1068.0 360.0,1065.0 360.5,1063.3 361.0,1063.2 361.5,1065.3 362.0,1069.2 362.5,1073.4 363.0,1077.2 363.5,1079.7 364.0,1080.9 364.5,1081.0 365.0,1079.8 365.5,1077.2 366.0,1073.4 366.5,1068.8 367.0,1064.6 367.5,1062.1 368.0,1061.9 368.5,1062.8 369.0,1064.4 369.5,1066.6 370.0,1069.1 370.5,1071.6 371.0,1073.9 371.5,1075.9 372.0,1077.5 372.5,1078.5 373.0,1079.1 373.5,1079.2 374.0,1078.9 374.5,1078.0 375.0,1076.5 375.5,1074.6 376.0,1072.2 376.5,1069.5 377.0,1066.7 377.5,1064.1 378.0,1061.9 378.5,1060.5 379.0,1060.0 379.5,1061.5 380.0,1065.4 380.5,1070.6 381.0,1075.8 381.5,1079.8 382.0,1082.4 382.5,1083.7 383.0,1084.0 383.5,1083.5 384.0,1082.3 384.5,1080.1 385.0,1076.9 385.5,1073.1 386.0,1069.6 386.5,1067.3 387.0,1066.9 387.5,1071.3 388.0,1077.9 388.5,1082.6 389.0,1084.4 389.5,1084.0 390.0,1080.5 390.5,1072.3 391.0,1062.2 391.5,1057.5 392.0,1058.1 392.5,1059.9 393.0,1062.5 393.5,1065.7 394.0,1068.9 394.5,1071.9 395.0,1074.5 395.5,1076.3 396.0,1077.5 396.5,1078.1 397.0,1077.9 397.5,1076.9 398.0,1075.0 398.5,1072.3 399.0,1068.7 399.5,1064.5 400.0,1060.1 400.5,1056.0 401.0,1052.8 401.5,1050.9 402.0,1050.7 402.5,1051.8 403.0,1053.9 403.5,1056.9 404.0,1060.5 404.5,1064.3 405.0,1068.0 405.5,1071.4 406.0,1074.2 406.5,1076.5 407.0,1078.2 407.5,1079.3 408.0,1079.9 408.5,1079.9 409.0,1079.5 409.5,1078.6 410.0,1077.3 410.5,1075.3 411.0,1072.9 411.5,1069.9 412.0,1066.7 412.5,1063.3 413.0,1060.1 413.5,1057.3 414.0,1055.2 414.5,1054.0 415.0,1053.9 415.5,1056.4 416.0,1061.0 416.5,1066.5 417.0,1071.8 417.5,1075.8 418.0,1078.4 418.5,1079.5 419.0,1079.3 419.5,1077.8 420.0,1074.8 420.5,1070.5 421.0,1065.4 421.5,1060.3 422.0,1056.6 422.5,1055.2 423.0,1055.7 423.5,1057.2 424.0,1059.5 424.5,1062.3 425.0,1065.6 425.5,1068.9 426.0,1072.0 426.5,1074.8 427.0,1077.2 427.5,1079.0 428.0,1080.3 428.5,1081.2 429.0,1081.7 429.5,1081.8 430.0,1081.6 430.5,1081.2 431.0,1080.5 431.5,1079.6 432.0,1078.4 432.5,1077.0 433.0,1075.4 433.5,1073.7 434.0,1072.0 434.5,1070.5 435.0,1069.2 435.5,1068.3 436.0,1067.9 436.5,1068.0 437.0,1069.4 437.5,1071.7 438.0,1074.4 438.5,1077.1 439.0,1079.3 439.5,1080.7 440.0,1081.5 440.5,1081.5 441.0,1080.1 441.5,1076.8 442.0,1071.0 442.5,1062.8 443.0,1053.3 443.5,1044.5 444.0,1038.4 444.5,1036.9 445.0,1039.4 445.5,1044.9 446.0,1052.3 446.5,1060.2 447.0,1067.3 447.5,1072.9 448.0,1076.7 448.5,1078.8 449.0,1079.5 449.5,1079.0 450.0,1077.7 450.5,1075.3 451.0,1072.0 451.5,1067.9 452.0,1063.6 452.5,1059.5 453.0,1056.6 453.5,1055.2 454.0,1055.8 454.5,1058.0 455.0,1061.5 455.5,1065.8 456.0,1070.3 456.5,1074.4 457.0,1077.8 457.5,1080.3 458.0,1082.0 458.5,1083.0 459.0,1083.3 459.5,1083.1 460.0,1082.3 460.5,1080.5 461.0,1077.5 461.5,1073.3 462.0,1067.8 462.5,1061.6 463.0,1055.2 463.5,1049.6 464.0,1045.5 464.5,1043.8 465.0,1044.4 465.5,1046.9 466.0,1051.0 466.5,1056.1 467.0,1061.4 467.5,1066.5 468.0,1070.9 468.5,1074.2 469.0,1076.6 469.5,1077.9 470.0,1078.3 470.5,1078.0 471.0,1077.0 471.5,1075.2 472.0,1072.8 472.5,1069.7 473.0,1066.1 473.5,1062.4 474.0,1058.9 474.5,1056.2 475.0,1054.4 475.5,1054.0 476.0,1055.2 476.5,1057.8 477.0,1061.5 477.5,1065.8 478.0,1070.3 478.5,1074.5 479.0,1078.0 479.5,1080.7 480.0,1082.6 480.5,1083.7 481.0,1084.4 481.5,1084.6 482.0,1084.5 482.5,1084.1 483.0,1083.4 483.5,1082.2 484.0,1080.5 484.5,1078.2 485.0,1075.5 485.5,1072.4 486.0,1069.4 486.5,1066.7 487.0,1064.6 487.5,1063.5 488.0,1063.6 488.5,1065.8 489.0,1069.7 489.5,1074.3 490.0,1078.5 490.5,1081.6 491.0,1083.5 491.5,1084.4 492.0,1084.7 492.5,1084.2 493.0,1082.7 493.5,1079.8 494.0,1075.1 494.5,1069.0 495.0,1062.7 495.5,1057.6 496.0,1055.3 496.5,1055.6 497.0,1057.0 497.5,1059.3 498.0,1062.2 498.5,1065.5 499.0,1068.8 499.5,1071.8 500.0,1074.4 500.5,1076.5 501.0,1078.0 501.5,1078.9 502.0,1079.3 502.5,1079.2 503.0,1078.7 503.5,1077.8 504.0,1076.6 504.5,1074.9 505.0,1073.0 505.5,1070.8 506.0,1068.6 506.5,1066.6 507.0,1064.8 507.5,1063.6 508.0,1063.1 508.5,1063.3 509.0,1064.9 509.5,1067.3 510.0,1070.4 510.5,1073.5 511.0,1076.3 511.5,1078.6 512.0,1080.2 512.5,1081.1 513.0,1081.4 513.5,1081.1 514.0,1080.0 514.5,1078.0 515.0,1075.1 515.5,1071.3 516.0,1067.1 516.5,1062.8 517.0,1059.2 517.5,1056.9 518.0,1056.3 518.5,1057.5 519.0,1060.1 519.5,1063.7 520.0,1067.6 520.5,1071.3 521.0,1074.4 521.5,1076.6 522.0,1077.9 522.5,1078.3 523.0,1077.8 523.5,1076.0 524.0,1073.0 524.5,1068.8 525.0,1063.6 525.5,1057.9 526.0,1052.7 526.5,1048.9 527.0,1047.2 527.5,1048.0 528.0,1051.2 528.5,1056.4 529.0,1062.5 529.5,1068.7 530.0,1074.1 530.5,1078.2 531.0,1081.1 531.5,1082.7 532.0,1083.5 532.5,1083.6 533.0,1083.0 533.5,1081.8 534.0,1079.7 534.5,1076.7 535.0,1072.6 535.5,1067.9 536.0,1063.2 536.5,1059.0 537.0,1056.2 537.5,1055.2 538.0,1055.9 538.5,1058.0 539.0,1061.1 539.5,1064.9 540.0,1068.8 540.5,1072.5 541.0,1075.6 541.5,1078.1 542.0,1079.8 542.5,1080.8 543.0,1081.2 543.5,1080.9 544.0,1079.6 544.5,1077.1 545.0,1073.0 545.5,1067.3 546.0,1060.0 546.5,1051.7 547.0,1043.1 547.5,1035.4 548.0,1029.6 548.5,1026.7 549.0,1027.1 549.5,1031.3 550.0,1038.5 550.5,1047.3 551.0,1056.3 551.5,1064.3 552.0,1070.6 552.5,1074.9 553.0,1077.3 553.5,1078.2 554.0,1077.8 554.5,1076.3 555.0,1073.7 555.5,1069.8 556.0,1065.0 556.5,1059.5 557.0,1054.1 557.5,1049.6 558.0,1046.7 558.5,1046.1 559.0,1048.1 559.5,1052.5 560.0,1058.3 560.5,1064.6 561.0,1070.2 561.5,1074.5 562.0,1077.4 562.5,1078.9 563.0,1079.1 563.5,1078.6 564.0,1077.3 564.5,1075.4 565.0,1072.8 565.5,1069.9 566.0,1067.1 566.5,1064.8 567.0,1063.4 567.5,1063.3 568.0,1064.2 568.5,1066.0 569.0,1068.6 569.5,1071.5 570.0,1074.4 570.5,1077.1 571.0,1079.3 571.5,1081.1 572.0,1082.3 572.5,1083.0 573.0,1083.3 573.5,1083.3 574.0,1083.0 574.5,1082.4 575.0,1081.4 575.5,1080.0 576.0,1078.3 576.5,1076.4 577.0,1074.3 577.5,1072.4 578.0,1070.7 578.5,1069.5 579.0,1069.0 579.5,1069.3 580.0,1070.3 580.5,1072.0 581.0,1074.1 581.5,1076.2 582.0,1078.2 582.5,1079.9 583.0,1081.2 583.5,1082.0 584.0,1082.4 584.5,1082.3 585.0,1081.8 585.5,1080.5 586.0,1078.6 586.5,1075.9 587.0,1072.5 587.5,1068.8 588.0,1065.2 588.5,1062.2 589.0,1060.3 589.5,1059.8 590.0,1061.0 590.5,1063.7 591.0,1067.4 591.5,1071.4 592.0,1075.3 592.5,1078.6 593.0,1081.0 593.5,1082.7 594.0,1083.6 594.5,1083.9 595.0,1083.7 595.5,1082.9 596.0,1081.3 596.5,1078.5 597.0,1074.6 597.5,1069.7 598.0,1064.2 598.5,1058.9 599.0,1054.6 599.5,1052.1 600.0,1051.9 600.5,1053.9 601.0,1057.8 601.5,1062.8 602.0,1068.0 602.5,1072.6 603.0,1076.2 603.5,1078.6 604.0,1079.9 604.5,1080.2 605.0,1079.7 605.5,1078.5 606.0,1076.4 606.5,1073.6 607.0,1070.3 607.5,1066.9 608.0,1063.8 608.5,1061.7 609.0,1061.0 609.5,1061.5 610.0,1062.8 610.5,1064.9 611.0,1067.5 611.5,1070.2 612.0,1072.8 612.5,1075.2 613.0,1077.1 613.5,1078.6 614.0,1079.5 614.5,1080.0 615.0,1080.0 615.5,1079.4 616.0,1078.2 616.5,1076.3 617.0,1073.7 617.5,1070.5 618.0,1066.9 618.5,1063.1 619.0,1059.5 619.5,1056.6 620.0,1054.7 620.5,1054.0 621.0,1054.9 621.5,1057.4 622.0,1061.0 622.5,1065.3 623.0,1069.7 623.5,1073.5 624.0,1076.6 624.5,1078.8 625.0,1080.2 625.5,1080.8 626.0,1080.7 626.5,1080.1 627.0,1079.1 627.5,1077.7 628.0,1075.8 628.5,1073.7 629.0,1071.4 629.5,1069.4 630.0,1067.8 630.5,1066.9 631.0,1066.9 631.5,1068.6 632.0,1071.8 632.5,1075.3 633.0,1078.3 633.5,1080.3 634.0,1081.2 634.5,1081.1 635.0,1079.8 635.5,1077.3 636.0,1073.7 636.5,1069.7 637.0,1066.3 637.5,1064.6 638.0,1065.1 638.5,1067.0 639.0,1069.9 639.5,1073.2 640.0,1076.3 640.5,1078.7 641.0,1080.3 641.5,1081.0 642.0,1081.0 642.5,1080.3 643.0,1078.7 643.5,1076.4 644.0,1073.4 644.5,1070.2 645.0,1067.4 645.5,1065.6 646.0,1065.2 646.5,1068.3 647.0,1073.9 647.5,1079.2 648.0,1082.6 648.5,1083.9 649.0,1083.7 649.5,1081.7 650.0,1077.0 650.5,1070.2 651.0,1063.7 651.5,1061.0 652.0,1061.5 652.5,1063.1 653.0,1065.4 653.5,1068.2 654.0,1071.2 654.5,1074.1 655.0,1076.6 655.5,1078.6 656.0,1080.0 656.5,1081.0 657.0,1081.5 657.5,1081.4 658.0,1080.9 658.5,1079.8 659.0,1078.1 659.5,1075.6 660.0,1072.6 660.5,1069.0 661.0,1065.3 661.5,1061.8 662.0,1058.9 662.5,1057.0 663.0,1056.3 663.5,1057.2 664.0,1059.6 664.5,1063.1 665.0,1067.3 665.5,1071.4 666.0,1075.1 666.5,1078.0 667.0,1080.0 667.5,1081.3 668.0,1081.8 668.5,1081.6 669.0,1080.8 669.5,1079.1 670.0,1076.6 670.5,1073.1 671.0,1068.8 671.5,1064.2 672.0,1059.8 672.5,1056.4 673.0,1054.3 673.5,1054.0 674.0,1054.5 674.5,1055.3 675.0,1056.6 675.5,1058.3 676.0,1060.2 676.5,1062.2 677.0,1064.4 677.5,1066.6 678.0,1068.7 678.5,1070.7 679.0,1072.5 679.5,1074.0 680.0,1075.4 680.5,1076.4 681.0,1077.3 681.5,1077.9 682.0,1078.2 682.5,1078.3 683.0,1078.2 683.5,1077.9 684.0,1077.5 684.5,1076.8 685.0,1075.9 685.5,1074.9 686.0,1073.7 686.5,1072.3 687.0,1070.8 687.5,1069.2 688.0,1067.5 688.5,1065.9 689.0,1064.4 689.5,1062.9 690.0,1061.7 690.5,1060.8 691.0,1060.1 691.5,1059.8 692.0,1060.0 692.5,1061.4 693.0,1063.9 693.5,1067.1 694.0,1070.6 694.5,1074.0 695.0,1077.1 695.5,1079.5 696.0,1081.2 696.5,1082.4 697.0,1083.0 697.5,1083.2 698.0,1082.9 698.5,1081.9 699.0,1080.3 699.5,1077.8 700.0,1074.3 700.5,1070.0 701.0,1065.1 701.5,1060.1 702.0,1055.7 702.5,1052.4 703.0,1050.8 703.5,1051.0 704.0,1053.3 704.5,1057.2 705.0,1061.5 705.5,1065.5 706.0,1068.5 706.5,1070.1" fill="none" stroke="#000" stroke-width="1.2" stroke-linejoin="round"/>
<polyline points="92.0,1085.5 92.5,1085.5 93.0,1085.5 93.5,1085.5 94.0,1085.5 94.5,1085.5 95.0,1085.5 95.5,1085.5 96.0,1085.5 96.5,1085.5 97.0,1085.5 97.5,1085.6 98.0,1085.6 98.5,1085.6 99.0,1085.6 99.5,1085.6 100.0,1085.6 100.5,1085.6 101.0,1085.6 101.5,1085.6 102.0,1085.6 102.5,1085.6 103.0,1085.6 103.5,1085.6 104.0,1085.7 104.5,1085.7 105.0,1085.7 105.5,1085.7 106.0,1085.7 106.5,1085.7 107.0,1085.7 107.5,1085.7 108.0,1085.7 108.5,1085.7 109.0,1085.7 109.5,1085.7 110.0,1085.7 110.5,1085.6 111.0,1085.6 111.5,1085.6 112.0,1085.5 112.5,1085.5 113.0,1085.5 113.5,1085.5 114.0,1085.5 114.5,1085.5 115.0,1085.5 115.5,1085.6 116.0,1085.6 116.5,1085.6 117.0,1085.7 117.5,1085.7 118.0,1085.7 118.5,1085.7 119.0,1085.7 119.5,1085.7 120.0,1085.7 120.5,1085.7 121.0,1085.6 121.5,1085.5 122.0,1085.3 122.5,1085.2 123.0,1085.0 123.5,1084.9 124.0,1084.7 124.5,1084.7 125.0,1084.7 125.5,1084.7 126.0,1084.9 126.5,1085.1 127.0,1085.2 127.5,1085.4 128.0,1085.5 128.5,1085.6 129.0,1085.7 129.5,1085.7 130.0,1085.7 130.5,1085.7 131.0,1085.7 131.5,1085.6 132.0,1085.5 132.5,1085.3 133.0,1085.0 133.5,1084.8 134.0,1084.5 134.5,1084.3 135.0,1084.2 135.5,1084.2 136.0,1084.3 136.5,1084.5 137.0,1084.8 137.5,1085.0 138.0,1085.3 138.5,1085.4 139.0,1085.5 139.5,1085.5 140.0,1085.4 140.5,1085.2 141.0,1084.8 141.5,1084.3 142.0,1083.6 142.5,1082.9 143.0,1082.4 143.5,1082.2 144.0,1082.3 144.5,1082.7 145.0,1083.4 145.5,1084.0 146.0,1084.6 146.5,1085.0 147.0,1085.3 147.5,1085.4 148.0,1085.4 148.5,1085.3 149.0,1085.1 149.5,1084.8 150.0,1084.4 150.5,1084.0 151.0,1083.6 151.5,1083.4 152.0,1083.3 152.5,1083.5 153.0,1084.0 153.5,1084.4 154.0,1084.9 154.5,1085.2 155.0,1085.4 155.5,1085.5 156.0,1085.5 156.5,1085.3 157.0,1084.9 157.5,1084.0 158.0,1082.9 158.5,1081.6 159.0,1080.5 159.5,1079.9 160.0,1080.0 160.5,1080.3 161.0,1080.9 161.5,1081.7 162.0,1082.5 162.5,1083.2 163.0,1083.9 163.5,1084.5 164.0,1084.9 164.5,1085.1 165.0,1085.3 165.5,1085.3 166.0,1085.3 166.5,1085.2 167.0,1084.9 167.5,1084.5 168.0,1084.0 168.5,1083.3 169.0,1082.5 169.5,1081.6 170.0,1080.8 170.5,1080.1 171.0,1079.7 171.5,1079.6 172.0,1079.8 172.5,1080.3 173.0,1081.1 173.5,1082.0 174.0,1083.0 174.5,1083.7 175.0,1084.4 175.5,1084.8 176.0,1085.1 176.5,1085.2 177.0,1085.2 177.5,1085.1 178.0,1084.8 178.5,1084.5 179.0,1084.0 179.5,1083.5 180.0,1082.8 180.5,1082.2 181.0,1081.7 181.5,1081.3 182.0,1081.2 182.5,1081.3 183.0,1081.6 183.5,1082.0 184.0,1082.5 184.5,1083.0 185.0,1083.4 185.5,1083.8 186.0,1084.2 186.5,1084.4 187.0,1084.6 187.5,1084.6 188.0,1084.6 188.5,1084.4 189.0,1084.2 189.5,1083.9 190.0,1083.5 190.5,1083.1 191.0,1082.7 191.5,1082.2 192.0,1081.9 192.5,1081.7 193.0,1081.6 193.5,1081.8 194.0,1082.4 194.5,1083.2 195.0,1084.0 195.5,1084.6 196.0,1085.0 196.5,1085.2 197.0,1085.2 197.5,1084.9 198.0,1084.2 198.5,1083.0 199.0,1081.2 199.5,1079.2 200.0,1077.5 200.5,1076.7 201.0,1076.8 201.5,1077.2 202.0,1077.9 202.5,1078.8 203.0,1079.8 203.5,1080.8 204.0,1081.7 204.5,1082.5 205.0,1083.2 205.5,1083.7 206.0,1084.0 206.5,1084.1 207.0,1084.1 207.5,1084.0 208.0,1083.6 208.5,1083.1 209.0,1082.3 209.5,1081.4 210.0,1080.2 210.5,1079.0 211.0,1077.7 211.5,1076.6 212.0,1075.6 212.5,1075.1 213.0,1074.9 213.5,1075.1 214.0,1075.7 214.5,1076.7 215.0,1077.8 215.5,1079.0 216.0,1080.1 216.5,1081.2 217.0,1082.0 217.5,1082.7 218.0,1083.1 218.5,1083.3 219.0,1083.3 219.5,1083.1 220.0,1082.6 220.5,1081.9 221.0,1080.8 221.5,1079.6 222.0,1078.1 222.5,1076.5 223.0,1075.0 223.5,1073.7 224.0,1072.8 224.5,1072.4 225.0,1072.7 225.5,1074.0 226.0,1076.0 226.5,1078.3 227.0,1080.4 227.5,1082.1 228.0,1083.2 228.5,1083.8 229.0,1083.9 229.5,1083.6 230.0,1082.6 230.5,1081.0 231.0,1078.7 231.5,1076.0 232.0,1073.2 232.5,1070.9 233.0,1069.7 233.5,1069.9 234.0,1071.2 234.5,1073.4 235.0,1075.9 235.5,1078.3 236.0,1080.3 236.5,1081.7 237.0,1082.4 237.5,1082.6 238.0,1082.3 238.5,1081.6 239.0,1080.6 239.5,1079.2 240.0,1077.7 240.5,1076.3 241.0,1075.3 241.5,1074.8 242.0,1075.0 242.5,1075.9 243.0,1077.2 243.5,1078.7 244.0,1080.1 244.5,1081.3 245.0,1082.1 245.5,1082.5 246.0,1082.6 246.5,1082.1 247.0,1081.0 247.5,1079.3 248.0,1077.1 248.5,1074.6 249.0,1072.3 249.5,1070.6 250.0,1070.0 250.5,1070.7 251.0,1072.4 251.5,1075.0 252.0,1077.7 252.5,1080.2 253.0,1082.2 253.5,1083.4 254.0,1084.1 254.5,1084.3 255.0,1084.2 255.5,1083.6 256.0,1082.6 256.5,1081.1 257.0,1079.1 257.5,1077.0 258.0,1075.0 258.5,1073.5 259.0,1072.9 259.5,1073.4 260.0,1074.7 260.5,1076.7 261.0,1078.7 261.5,1080.6 262.0,1082.1 262.5,1083.0 263.0,1083.5 263.5,1083.4 264.0,1082.2 264.5,1079.2 265.0,1073.9 265.5,1066.0 266.0,1056.4 266.5,1047.1 267.0,1040.2 267.5,1037.7 268.0,1039.1 268.5,1043.1 269.0,1049.0 269.5,1056.0 270.0,1063.1 270.5,1069.6 271.0,1074.8 271.5,1078.7 272.0,1081.2 272.5,1082.6 273.0,1083.1 273.5,1083.1 274.0,1082.6 274.5,1081.7 275.0,1080.4 275.5,1078.5 276.0,1076.1 276.5,1073.4 277.0,1070.7 277.5,1068.1 278.0,1066.2 278.5,1065.0 279.0,1064.9 279.5,1066.4 280.0,1069.3 280.5,1072.8 281.0,1076.4 281.5,1079.4 282.0,1081.6 282.5,1083.0 283.0,1083.6 283.5,1083.7 284.0,1083.2 284.5,1082.2 285.0,1080.5 285.5,1078.2 286.0,1075.4 286.5,1072.6 287.0,1070.2 287.5,1068.9 288.0,1068.8 288.5,1069.9 289.0,1071.9 289.5,1074.6 290.0,1077.3 290.5,1079.9 291.0,1082.0 291.5,1083.4 292.0,1084.4 292.5,1084.8 293.0,1085.0 293.5,1084.9 294.0,1084.6 294.5,1083.9 295.0,1082.8 295.5,1081.3 296.0,1079.3 296.5,1077.2 297.0,1075.1 297.5,1073.5 298.0,1072.5 298.5,1072.3 299.0,1073.2 299.5,1074.9 300.0,1077.1 300.5,1079.2 301.0,1081.0 301.5,1082.2 302.0,1082.9 302.5,1083.1 303.0,1082.7 303.5,1081.6 304.0,1079.7 304.5,1077.1 305.0,1074.1 305.5,1071.1 306.0,1069.0 306.5,1068.1 307.0,1068.7 307.5,1070.4 308.0,1072.8 308.5,1075.5 309.0,1078.1 309.5,1080.1 310.0,1081.6 310.5,1082.4 311.0,1082.7 311.5,1082.4 312.0,1081.6 312.5,1080.1 313.0,1078.0 313.5,1075.3 314.0,1072.5 314.5,1069.9 315.0,1068.2 315.5,1067.5 316.0,1068.3 316.5,1070.5 317.0,1073.5 317.5,1076.7 318.0,1079.7 318.5,1081.9 319.0,1083.5 319.5,1084.3 320.0,1084.6 320.5,1084.5 321.0,1083.9 321.5,1082.5 322.0,1080.0 322.5,1076.4 323.0,1072.0 323.5,1067.4 324.0,1063.4 324.5,1061.0 325.0,1060.7 325.5,1062.1 326.0,1064.9 326.5,1068.6 327.0,1072.5 327.5,1076.1 328.0,1079.0 328.5,1081.0 329.0,1082.3 329.5,1082.8 330.0,1082.8 330.5,1082.2 331.0,1080.8 331.5,1078.7 332.0,1075.9 332.5,1072.4 333.0,1068.6 333.5,1065.2 334.0,1062.7 334.5,1061.6 335.0,1061.8 335.5,1062.9 336.0,1064.7 336.5,1066.9 337.0,1069.4 337.5,1071.9 338.0,1074.1 338.5,1076.0 339.0,1077.5 339.5,1078.5 340.0,1079.0 340.5,1079.0 341.0,1078.6 341.5,1077.5 342.0,1075.9 342.5,1073.7 343.0,1070.9 343.5,1067.8 344.0,1064.6 344.5,1061.6 345.0,1059.1 345.5,1057.4 346.0,1056.8 346.5,1058.0 347.0,1061.7 347.5,1066.8 348.0,1072.2 348.5,1076.9 349.0,1080.3 349.5,1082.3 350.0,1083.2 350.5,1083.3 351.0,1082.6 351.5,1081.1 352.0,1078.6 352.5,1075.2 353.0,1071.2 353.5,1067.4 354.0,1064.6 354.5,1063.5 355.0,1064.2 355.5,1066.4 356.0,1069.6 356.5,1073.3 357.0,1076.8 357.5,1079.8 358.0,1081.9 358.5,1083.4 359.0,1084.1 359.5,1084.4 360.0,1084.2 360.5,1083.7 361.0,1082.8 361.5,1081.3 362.0,1079.3 362.5,1076.8 363.0,1074.2 363.5,1071.8 364.0,1070.1 364.5,1069.3 365.0,1069.6 365.5,1070.7 366.0,1072.4 366.5,1074.5 367.0,1076.7 367.5,1078.7 368.0,1080.4 368.5,1081.6 369.0,1082.5 369.5,1082.9 370.0,1082.9 370.5,1082.5 371.0,1081.4 371.5,1079.5 372.0,1076.8 372.5,1073.4 373.0,1069.4 373.5,1065.4 374.0,1061.9 374.5,1059.4 375.0,1058.4 375.5,1059.2 376.0,1061.7 376.5,1065.5 377.0,1069.5 377.5,1073.1 378.0,1075.7 378.5,1077.3 379.0,1077.7 379.5,1076.9 380.0,1074.9 380.5,1071.8 381.0,1067.7 381.5,1063.4 382.0,1059.7 382.5,1057.5 383.0,1057.3 383.5,1058.8 384.0,1061.8 384.5,1065.7 385.0,1070.0 385.5,1074.0 386.0,1077.4 386.5,1080.0 387.0,1081.7 387.5,1082.6 388.0,1083.0 388.5,1082.8 389.0,1082.0 389.5,1080.7 390.0,1078.6 390.5,1075.7 391.0,1072.3 391.5,1068.6 392.0,1065.1 392.5,1062.3 393.0,1060.6 393.5,1060.4 394.0,1062.0 394.5,1065.0 395.0,1068.8 395.5,1072.7 396.0,1076.0 396.5,1078.4 397.0,1079.8 397.5,1080.2 398.0,1079.7 398.5,1078.1 399.0,1075.3 399.5,1071.4 400.0,1066.7 400.5,1062.0 401.0,1058.2 401.5,1056.2 402.0,1056.4 402.5,1057.8 403.0,1060.4 403.5,1063.6 404.0,1067.2 404.5,1070.6 405.0,1073.5 405.5,1075.8 406.0,1077.5 406.5,1078.4 407.0,1078.6 407.5,1077.9 408.0,1075.9 408.5,1072.3 409.0,1067.1 409.5,1060.3 410.0,1052.4 410.5,1044.1 411.0,1036.5 411.5,1030.8 412.0,1027.9 412.5,1028.5 413.0,1033.6 413.5,1042.2 414.0,1052.5 414.5,1062.6 415.0,1071.0 415.5,1077.1 416.0,1080.7 416.5,1082.6 417.0,1083.1 417.5,1082.7 418.0,1081.7 418.5,1079.9 419.0,1077.2 419.5,1073.7 420.0,1069.7 420.5,1065.8 421.0,1062.7 421.5,1061.0 422.0,1060.8 422.5,1061.7 423.0,1063.2 423.5,1065.4 424.0,1067.9 424.5,1070.5 425.0,1072.9 425.5,1075.2 426.0,1077.0 426.5,1078.4 427.0,1079.3 427.5,1079.9 428.0,1080.0 428.5,1079.4 429.0,1078.0 429.5,1075.6 430.0,1072.2 430.5,1067.7 431.0,1062.1 431.5,1056.0 432.0,1049.6 432.5,1043.6 433.0,1038.8 433.5,1035.6 434.0,1034.5 434.5,1036.0 435.0,1040.1 435.5,1046.4 436.0,1053.8 436.5,1061.3 437.0,1068.3 437.5,1074.0 438.0,1078.2 438.5,1081.1 439.0,1082.7 439.5,1083.4 440.0,1083.5 440.5,1083.3 441.0,1082.8 441.5,1081.9 442.0,1080.7 442.5,1079.1 443.0,1077.2 443.5,1075.3 444.0,1073.4 444.5,1071.7 445.0,1070.6 445.5,1070.0 446.0,1070.3 446.5,1071.5 447.0,1073.5 447.5,1075.7 448.0,1078.0 448.5,1079.9 449.0,1081.3 449.5,1082.1 450.0,1082.5 450.5,1082.4 451.0,1081.7 451.5,1080.5 452.0,1078.7 452.5,1076.3 453.0,1073.7 453.5,1071.3 454.0,1069.4 454.5,1068.5 455.0,1068.9 455.5,1070.5 456.0,1073.2 456.5,1076.1 457.0,1078.7 457.5,1080.7 458.0,1081.9 458.5,1082.5 459.0,1082.3 459.5,1081.6 460.0,1080.1 460.5,1078.0 461.0,1075.5 461.5,1072.9 462.0,1070.9 462.5,1070.0 463.0,1070.1 463.5,1071.0 464.0,1072.5 464.5,1074.3 465.0,1076.3 465.5,1078.2 466.0,1079.9 466.5,1081.2 467.0,1082.1 467.5,1082.6 468.0,1082.9 468.5,1082.7 469.0,1082.0 469.5,1080.7 470.0,1078.7 470.5,1075.9 471.0,1072.5 471.5,1068.8 472.0,1065.0 472.5,1061.8 473.0,1059.5 473.5,1058.6 474.0,1059.5 474.5,1062.3 475.0,1066.4 475.5,1071.1 476.0,1075.6 476.5,1079.2 477.0,1081.8 477.5,1083.3 478.0,1084.1 478.5,1084.3 479.0,1083.9 479.5,1083.1 480.0,1081.5 480.5,1079.2 481.0,1076.1 481.5,1072.6 482.0,1069.2 482.5,1066.4 483.0,1064.8 483.5,1064.8 484.0,1066.3 484.5,1068.9 485.0,1072.0 485.5,1075.0 486.0,1077.5 486.5,1079.3 487.0,1080.2 487.5,1080.3 488.0,1079.4 488.5,1077.6 489.0,1074.8 489.5,1071.1 490.0,1067.2 490.5,1063.7 491.0,1061.5 491.5,1061.0 492.0,1062.2 492.5,1064.7 493.0,1068.1 493.5,1071.8 494.0,1075.3 494.5,1078.2 495.0,1080.3 495.5,1081.7 496.0,1082.4 496.5,1082.5 497.0,1082.0 497.5,1080.6 498.0,1078.2 498.5,1074.8 499.0,1070.4 499.5,1065.4 500.0,1060.5 500.5,1056.5 501.0,1054.0 501.5,1053.8 502.0,1058.1 502.5,1065.6 503.0,1073.3 503.5,1078.9 504.0,1081.9 504.5,1082.7 505.0,1081.3 505.5,1076.8 506.0,1068.1 506.5,1056.2 507.0,1045.0 507.5,1039.3 508.0,1039.8 508.5,1042.4 509.0,1046.7 509.5,1052.3 510.0,1058.4 510.5,1064.5 511.0,1070.1 511.5,1074.9 512.0,1078.6 512.5,1081.2 513.0,1082.9 513.5,1083.9 514.0,1084.3 514.5,1084.4 515.0,1084.2 515.5,1083.7 516.0,1082.9 516.5,1081.7 517.0,1080.0 517.5,1077.8 518.0,1075.3 518.5,1072.5 519.0,1069.6 519.5,1067.0 520.0,1064.9 520.5,1063.4 521.0,1062.8 521.5,1063.5 522.0,1065.5 522.5,1068.6 523.0,1072.1 523.5,1075.4 524.0,1078.0 524.5,1079.9 525.0,1081.0 525.5,1081.3 526.0,1080.7 526.5,1079.2 527.0,1076.6 527.5,1072.9 528.0,1068.3 528.5,1063.6 529.0,1059.5 529.5,1056.9 530.0,1056.4 530.5,1057.6 531.0,1060.1 531.5,1063.6 532.0,1067.5 532.5,1071.3 533.0,1074.8 533.5,1077.5 534.0,1079.5 534.5,1080.8 535.0,1081.4 535.5,1081.5 536.0,1081.0 536.5,1080.2 537.0,1078.9 537.5,1077.2 538.0,1075.1 538.5,1072.8 539.0,1070.5 539.5,1068.4 540.0,1067.0 540.5,1066.3 541.0,1066.9 541.5,1069.9 542.0,1074.4 542.5,1078.8 543.0,1082.1 543.5,1083.9 544.0,1084.7 544.5,1084.5 545.0,1082.7 545.5,1077.4 546.0,1067.1 546.5,1052.8 547.0,1038.0 547.5,1028.2 548.0,1026.6 548.5,1029.3 549.0,1034.6 549.5,1041.7 550.0,1049.8 550.5,1058.0 551.0,1065.4 551.5,1071.5 552.0,1076.0 552.5,1079.2 553.0,1081.1 553.5,1082.0 554.0,1082.1 554.5,1081.8 555.0,1081.1 555.5,1080.0 556.0,1078.6 556.5,1076.7 557.0,1074.5 557.5,1072.1 558.0,1069.8 558.5,1067.7 559.0,1066.2 559.5,1065.3 560.0,1065.2 560.5,1066.6 561.0,1069.4 561.5,1072.9 562.0,1076.4 562.5,1079.4 563.0,1081.6 563.5,1082.9 564.0,1083.5 564.5,1083.5 565.0,1082.5 565.5,1080.1 566.0,1075.9 566.5,1069.6 567.0,1061.9 567.5,1054.0 568.0,1047.5 568.5,1044.0 569.0,1044.2 569.5,1046.9 570.0,1051.5 570.5,1057.3 571.0,1063.4 571.5,1068.8 572.0,1073.2 572.5,1076.3 573.0,1078.2 573.5,1078.9 574.0,1078.6 574.5,1077.5 575.0,1075.4 575.5,1072.5 576.0,1068.7 576.5,1064.4 577.0,1060.1 577.5,1056.4 578.0,1053.9 578.5,1053.1 579.0,1053.9 579.5,1056.1 580.0,1059.3 580.5,1063.3 581.0,1067.5 581.5,1071.6 582.0,1075.2 582.5,1078.1 583.0,1080.2 583.5,1081.7 584.0,1082.6 584.5,1082.9 585.0,1082.9 585.5,1082.3 586.0,1081.3 586.5,1079.7 587.0,1077.4 587.5,1074.5 588.0,1071.0 588.5,1067.1 589.0,1063.3 589.5,1059.9 590.0,1057.2 590.5,1055.7 591.0,1055.5 591.5,1056.5 592.0,1058.7 592.5,1061.7 593.0,1065.2 593.5,1068.7 594.0,1072.0 594.5,1074.8 595.0,1077.0 595.5,1078.5 596.0,1079.4 596.5,1079.7 597.0,1079.5 597.5,1078.7 598.0,1077.4 598.5,1075.5 599.0,1073.1 599.5,1070.3 600.0,1067.2 600.5,1064.2 601.0,1061.6 601.5,1059.7 602.0,1058.7 602.5,1058.8 603.0,1060.0 603.5,1062.1 604.0,1064.9 604.5,1068.0 605.0,1071.2 605.5,1074.2 606.0,1076.8 606.5,1078.8 607.0,1080.3 607.5,1081.3 608.0,1081.7 608.5,1081.8 609.0,1081.3 609.5,1080.4 610.0,1078.8 610.5,1076.5 611.0,1073.6 611.5,1070.1 612.0,1066.3 612.5,1062.4 613.0,1058.9 613.5,1056.1 614.0,1054.4 614.5,1054.0 615.0,1054.7 615.5,1056.4 616.0,1058.8 616.5,1061.7 617.0,1064.8 617.5,1067.9 618.0,1070.7 618.5,1073.1 619.0,1074.9 619.5,1076.2 620.0,1076.9 620.5,1077.0 621.0,1076.7 621.5,1075.7 622.0,1074.3 622.5,1072.3 623.0,1069.8 623.5,1067.0 624.0,1064.0 624.5,1061.1 625.0,1058.5 625.5,1056.5 626.0,1055.3 626.5,1055.1 627.0,1056.6 627.5,1060.0 628.0,1064.5 628.5,1069.5 629.0,1074.2 629.5,1078.1 630.0,1080.9 630.5,1082.8 631.0,1083.8 631.5,1084.2 632.0,1084.1 632.5,1083.6 633.0,1082.7 633.5,1081.2 634.0,1079.0 634.5,1076.4 635.0,1073.5 635.5,1070.7 636.0,1068.4 636.5,1067.0 637.0,1066.7 637.5,1067.3 638.0,1068.6 638.5,1070.5 639.0,1072.7 639.5,1075.1 640.0,1077.3 640.5,1079.2 641.0,1080.8 641.5,1081.9 642.0,1082.7 642.5,1083.1 643.0,1083.2 643.5,1082.9 644.0,1082.1 644.5,1080.7 645.0,1078.5 645.5,1075.6 646.0,1071.9 646.5,1067.7 647.0,1063.3 647.5,1059.2 648.0,1055.8 648.5,1053.7 649.0,1052.9 649.5,1055.0 650.0,1060.2 650.5,1066.9 651.0,1073.4 651.5,1078.5 652.0,1081.8 652.5,1083.4 653.0,1083.7 653.5,1083.2 654.0,1081.7 654.5,1078.7 655.0,1074.4 655.5,1069.2 656.0,1064.1 656.5,1060.6 657.0,1059.6 657.5,1060.7 658.0,1063.2 658.5,1066.6 659.0,1070.2 659.5,1073.5 660.0,1076.0 660.5,1077.7 661.0,1078.4 661.5,1078.2 662.0,1076.9 662.5,1074.4 663.0,1070.8 663.5,1066.4 664.0,1061.8 664.5,1057.7 665.0,1055.0 665.5,1054.4 666.0,1056.1 666.5,1059.7 667.0,1064.5 667.5,1069.2 668.0,1073.1 668.5,1075.8 669.0,1077.1 669.5,1077.2 670.0,1075.8 670.5,1073.0 671.0,1068.8 671.5,1063.7 672.0,1058.6 672.5,1054.5 673.0,1052.5 673.5,1053.2 674.0,1056.6 674.5,1061.7 675.0,1067.6 675.5,1073.2 676.0,1077.7 676.5,1080.7 677.0,1082.5 677.5,1083.2 678.0,1083.1 678.5,1082.4 679.0,1081.0 679.5,1078.7 680.0,1075.6 680.5,1072.0 681.0,1068.4 681.5,1065.5 682.0,1063.8 682.5,1063.8 683.0,1065.1 683.5,1067.6 684.0,1070.7 684.5,1073.9 685.0,1076.8 685.5,1079.1 686.0,1080.7 686.5,1081.6 687.0,1081.9 687.5,1081.6 688.0,1080.8 688.5,1079.4 689.0,1077.5 689.5,1075.2 690.0,1072.7 690.5,1070.4 691.0,1068.6 691.5,1067.6 692.0,1067.8 692.5,1069.0 693.0,1071.0 693.5,1073.4 694.0,1075.9 694.5,1078.1 695.0,1079.7 695.5,1080.7 696.0,1081.1 696.5,1081.0 697.0,1080.1 697.5,1078.6 698.0,1076.4 698.5,1073.6 699.0,1070.7 699.5,1067.9 700.0,1066.0 700.5,1065.2 701.0,1065.5 701.5,1066.6 702.0,1068.4 702.5,1070.6 703.0,1073.0 703.5,1075.3 704.0,1077.4 704.5,1079.2 705.0,1080.5 705.5,1081.3 706.0,1081.8 706.5,1080.6" fill="none" stroke="#000" stroke-width="1.2" stroke-linejoin="round" stroke-dasharray="5 1.8"/>
<polyline points="92.0,1085.5 92.5,1085.5 93.0,1085.5 93.5,1085.5 94.0,1085.5 94.5,1085.5 95.0,1085.5 95.5,1085.6 96.0,1085.6 96.5,1085.6 97.0,1085.6 97.5,1085.6 98.0,1085.6 98.5,1085.6 99.0,1085.6 99.5,1085.6 100.0,1085.6 100.5,1085.6 101.0,1085.7 101.5,1085.7 102.0,1085.7 102.5,1085.7 103.0,1085.7 103.5,1085.7 104.0,1085.7 104.5,1085.8 105.0,1085.8 105.5,1085.8 106.0,1085.8 106.5,1085.7 107.0,1085.7 107.5,1085.7 108.0,1085.6 108.5,1085.6 109.0,1085.5 109.5,1085.5 110.0,1085.4 110.5,1085.4 111.0,1085.4 111.5,1085.5 112.0,1085.6 112.5,1085.6 113.0,1085.7 113.5,1085.7 114.0,1085.8 114.5,1085.8 115.0,1085.8 115.5,1085.8 116.0,1085.7 116.5,1085.7 117.0,1085.6 117.5,1085.6 118.0,1085.5 118.5,1085.5 119.0,1085.5 119.5,1085.5 120.0,1085.6 120.5,1085.6 121.0,1085.7 121.5,1085.7 122.0,1085.8 122.5,1085.8 123.0,1085.8 123.5,1085.8 124.0,1085.7 124.5,1085.7 125.0,1085.5 125.5,1085.2 126.0,1084.9 126.5,1084.6 127.0,1084.4 127.5,1084.3 128.0,1084.4 128.5,1084.5 129.0,1084.7 129.5,1085.0 130.0,1085.2 130.5,1085.4 131.0,1085.5 131.5,1085.6 132.0,1085.6 132.5,1085.6 133.0,1085.5 133.5,1085.4 134.0,1085.2 134.5,1084.9 135.0,1084.6 135.5,1084.3 136.0,1084.1 136.5,1084.0 137.0,1084.0 137.5,1084.1 138.0,1084.2 138.5,1084.4 139.0,1084.5 139.5,1084.7 140.0,1084.9 140.5,1085.0 141.0,1085.1 141.5,1085.2 142.0,1085.3 142.5,1085.3 143.0,1085.3 143.5,1085.2 144.0,1085.1 144.5,1085.0 145.0,1084.8 145.5,1084.6 146.0,1084.3 146.5,1084.1 147.0,1083.9 147.5,1083.7 148.0,1083.6 148.5,1083.6 149.0,1083.6 149.5,1083.8 150.0,1084.0 150.5,1084.3 151.0,1084.5 151.5,1084.8 152.0,1085.0 152.5,1085.1 153.0,1085.2 153.5,1085.3 154.0,1085.3 154.5,1085.2 155.0,1085.1 155.5,1084.9 156.0,1084.6 156.5,1084.2 157.0,1083.7 157.5,1083.2 158.0,1082.8 158.5,1082.4 159.0,1082.2 159.5,1082.2 160.0,1082.4 160.5,1082.8 161.0,1083.3 161.5,1083.8 162.0,1084.2 162.5,1084.6 163.0,1084.9 163.5,1085.1 164.0,1085.2 164.5,1085.2 165.0,1085.2 165.5,1085.0 166.0,1084.7 166.5,1084.4 167.0,1083.9 167.5,1083.3 168.0,1082.8 168.5,1082.3 169.0,1082.0 169.5,1081.9 170.0,1082.2 170.5,1082.8 171.0,1083.6 171.5,1084.4 172.0,1085.0 172.5,1085.3 173.0,1085.5 173.5,1085.5 174.0,1085.3 174.5,1085.0 175.0,1084.4 175.5,1083.6 176.0,1082.8 176.5,1082.1 177.0,1081.8 177.5,1081.8 178.0,1082.1 178.5,1082.6 179.0,1083.2 179.5,1083.8 180.0,1084.3 180.5,1084.8 181.0,1085.1 181.5,1085.3 182.0,1085.5 182.5,1085.5 183.0,1085.5 183.5,1085.4 184.0,1085.2 184.5,1084.8 185.0,1084.3 185.5,1083.5 186.0,1082.6 186.5,1081.7 187.0,1080.8 187.5,1080.1 188.0,1079.7 188.5,1079.7 189.0,1080.0 189.5,1080.7 190.0,1081.5 190.5,1082.4 191.0,1083.2 191.5,1083.8 192.0,1084.3 192.5,1084.5 193.0,1084.6 193.5,1084.5 194.0,1084.3 194.5,1084.0 195.0,1083.4 195.5,1082.8 196.0,1082.1 196.5,1081.5 197.0,1081.0 197.5,1080.7 198.0,1080.7 198.5,1080.9 199.0,1081.2 199.5,1081.6 200.0,1082.2 200.5,1082.7 201.0,1083.2 201.5,1083.6 202.0,1083.9 202.5,1084.2 203.0,1084.3 203.5,1084.4 204.0,1084.3 204.5,1084.0 205.0,1083.6 205.5,1082.9 206.0,1082.0 206.5,1081.0 207.0,1079.8 207.5,1078.7 208.0,1077.6 208.5,1076.9 209.0,1076.4 209.5,1076.5 210.0,1077.3 210.5,1078.9 211.0,1080.7 211.5,1082.4 212.0,1083.7 212.5,1084.6 213.0,1085.1 213.5,1085.3 214.0,1085.2 214.5,1084.9 215.0,1084.2 215.5,1082.9 216.0,1081.2 216.5,1079.1 217.0,1077.1 217.5,1075.6 218.0,1075.0 218.5,1075.4 219.0,1076.7 219.5,1078.4 220.0,1080.3 220.5,1081.8 221.0,1082.9 221.5,1083.5 222.0,1083.7 222.5,1083.4 223.0,1082.5 223.5,1081.1 224.0,1079.2 224.5,1077.1 225.0,1075.2 225.5,1074.0 226.0,1073.8 226.5,1074.2 227.0,1075.1 227.5,1076.2 228.0,1077.6 228.5,1079.0 229.0,1080.3 229.5,1081.4 230.0,1082.3 230.5,1083.0 231.0,1083.4 231.5,1083.6 232.0,1083.6 232.5,1083.4 233.0,1083.1 233.5,1082.6 234.0,1081.9 234.5,1081.0 235.0,1080.0 235.5,1079.0 236.0,1078.1 236.5,1077.3 237.0,1076.7 237.5,1076.4 238.0,1076.6 238.5,1077.5 239.0,1079.0 239.5,1080.6 240.0,1082.1 240.5,1083.3 241.0,1084.1 241.5,1084.5 242.0,1084.6 242.5,1084.3 243.0,1083.3 243.5,1081.5 244.0,1078.5 244.5,1074.7 245.0,1070.6 245.5,1067.1 246.0,1065.1 246.5,1065.0 247.0,1066.3 247.5,1068.8 248.0,1071.9 248.5,1075.1 249.0,1077.9 249.5,1080.2 250.0,1081.7 250.5,1082.6 251.0,1082.9 251.5,1082.7 252.0,1082.0 252.5,1080.9 253.0,1079.2 253.5,1077.1 254.0,1074.8 254.5,1072.6 255.0,1070.8 255.5,1069.7 256.0,1069.7 256.5,1070.6 257.0,1072.2 257.5,1074.3 258.0,1076.4 258.5,1078.4 259.0,1080.0 259.5,1081.0 260.0,1081.6 260.5,1081.6 261.0,1081.1 261.5,1079.8 262.0,1077.8 262.5,1075.2 263.0,1072.0 263.5,1068.9 264.0,1066.2 264.5,1064.5 265.0,1064.3 265.5,1065.9 266.0,1069.3 266.5,1073.4 267.0,1077.2 267.5,1080.2 268.0,1082.1 268.5,1083.1 269.0,1083.2 269.5,1082.7 270.0,1081.6 270.5,1080.0 271.0,1078.0 271.5,1075.8 272.0,1073.9 272.5,1072.8 273.0,1072.8 273.5,1073.4 274.0,1074.4 274.5,1075.8 275.0,1077.4 275.5,1079.0 276.0,1080.5 276.5,1081.7 277.0,1082.7 277.5,1083.3 278.0,1083.7 278.5,1083.9 279.0,1083.8 279.5,1083.4 280.0,1082.7 280.5,1081.5 281.0,1079.8 281.5,1077.8 282.0,1075.4 282.5,1072.9 283.0,1070.5 283.5,1068.6 284.0,1067.4 284.5,1067.0 285.0,1067.6 285.5,1069.1 286.0,1071.2 286.5,1073.7 287.0,1076.4 287.5,1078.8 288.0,1080.8 288.5,1082.4 289.0,1083.5 289.5,1084.1 290.0,1084.4 290.5,1084.5 291.0,1084.2 291.5,1083.5 292.0,1082.4 292.5,1080.6 293.0,1078.1 293.5,1075.0 294.0,1071.6 294.5,1068.1 295.0,1064.9 295.5,1062.6 296.0,1061.4 296.5,1061.5 297.0,1062.5 297.5,1064.2 298.0,1066.6 298.5,1069.3 299.0,1072.0 299.5,1074.6 300.0,1076.9 300.5,1078.7 301.0,1080.1 301.5,1081.0 302.0,1081.5 302.5,1081.6 303.0,1081.3 303.5,1080.6 304.0,1079.4 304.5,1077.7 305.0,1075.5 305.5,1073.0 306.0,1070.1 306.5,1067.2 307.0,1064.5 307.5,1062.2 308.0,1060.7 308.5,1060.1 309.0,1060.9 309.5,1063.5 310.0,1067.4 310.5,1071.8 311.0,1075.9 311.5,1079.3 312.0,1081.6 312.5,1083.0 313.0,1083.7 313.5,1083.7 314.0,1083.4 314.5,1082.7 315.0,1081.6 315.5,1080.2 316.0,1078.5 316.5,1076.7 317.0,1075.1 317.5,1074.0 318.0,1073.6 318.5,1073.9 319.0,1074.7 319.5,1075.9 320.0,1077.4 320.5,1078.9 321.0,1080.4 321.5,1081.8 322.0,1082.8 322.5,1083.6 323.0,1084.2 323.5,1084.5 324.0,1084.6 324.5,1084.6 325.0,1084.3 325.5,1083.6 326.0,1082.6 326.5,1081.1 327.0,1079.2 327.5,1076.8 328.0,1074.2 328.5,1071.6 329.0,1069.3 329.5,1067.6 330.0,1066.6 330.5,1066.7 331.0,1068.1 331.5,1070.7 332.0,1073.9 332.5,1077.2 333.0,1080.0 333.5,1082.2 334.0,1083.6 334.5,1084.4 335.0,1084.7 335.5,1084.6 336.0,1084.1 336.5,1083.2 337.0,1081.6 337.5,1079.4 338.0,1076.7 338.5,1073.9 339.0,1071.4 339.5,1069.6 340.0,1069.0 340.5,1069.5 341.0,1070.7 341.5,1072.6 342.0,1074.7 342.5,1077.0 343.0,1079.0 343.5,1080.7 344.0,1082.0 344.5,1082.8 345.0,1083.3 345.5,1083.4 346.0,1083.2 346.5,1082.7 347.0,1081.9 347.5,1080.8 348.0,1079.3 348.5,1077.7 349.0,1075.9 349.5,1074.3 350.0,1073.1 350.5,1072.3 351.0,1072.3 351.5,1073.3 352.0,1075.4 352.5,1077.9 353.0,1080.3 353.5,1082.2 354.0,1083.3 354.5,1083.9 355.0,1083.9 355.5,1083.2 356.0,1081.6 356.5,1078.8 357.0,1074.9 357.5,1070.5 358.0,1066.6 358.5,1064.4 359.0,1064.2 359.5,1065.3 360.0,1067.3 360.5,1070.0 361.0,1073.0 361.5,1075.9 362.0,1078.6 362.5,1080.8 363.0,1082.4 363.5,1083.5 364.0,1084.1 364.5,1084.4 365.0,1084.4 365.5,1084.2 366.0,1083.8 366.5,1083.1 367.0,1082.1 367.5,1080.8 368.0,1079.2 368.5,1077.5 369.0,1075.8 369.5,1074.4 370.0,1073.3 370.5,1072.7 371.0,1072.8 371.5,1073.9 372.0,1075.9 372.5,1078.3 373.0,1080.6 373.5,1082.4 374.0,1083.7 374.5,1084.5 375.0,1084.8 375.5,1084.8 376.0,1084.2 376.5,1082.9 377.0,1080.6 377.5,1077.2 378.0,1072.9 378.5,1068.5 379.0,1064.8 379.5,1062.8 380.0,1062.8 380.5,1064.2 381.0,1066.8 381.5,1069.9 382.0,1073.0 382.5,1075.8 383.0,1077.9 383.5,1079.2 384.0,1079.7 384.5,1079.5 385.0,1078.4 385.5,1076.3 386.0,1073.3 386.5,1069.5 387.0,1065.4 387.5,1061.7 388.0,1059.0 388.5,1057.9 389.0,1059.2 389.5,1063.0 390.0,1068.3 390.5,1073.5 391.0,1077.7 391.5,1080.4 392.0,1081.7 392.5,1081.8 393.0,1080.7 393.5,1078.3 394.0,1074.2 394.5,1069.0 395.0,1063.6 395.5,1059.2 396.0,1057.4 396.5,1057.9 397.0,1059.6 397.5,1062.3 398.0,1065.5 398.5,1068.9 399.0,1072.0 399.5,1074.7 400.0,1076.6 400.5,1077.9 401.0,1078.5 401.5,1078.3 402.0,1077.5 402.5,1075.9 403.0,1073.6 403.5,1070.6 404.0,1067.2 404.5,1063.6 405.0,1060.2 405.5,1057.6 406.0,1056.2 406.5,1056.2 407.0,1058.3 407.5,1062.3 408.0,1067.2 408.5,1072.3 409.0,1076.8 409.5,1080.2 410.0,1082.5 410.5,1083.7 411.0,1084.3 411.5,1084.2 412.0,1083.7 412.5,1082.4 413.0,1080.3 413.5,1077.2 414.0,1073.1 414.5,1068.7 415.0,1064.5 415.5,1061.3 416.0,1059.7 416.5,1060.0 417.0,1062.1 417.5,1065.6 418.0,1069.8 418.5,1074.1 419.0,1077.9 419.5,1080.9 420.0,1083.0 420.5,1084.2 421.0,1084.8 421.5,1084.9 422.0,1084.8 422.5,1084.4 423.0,1083.5 423.5,1082.2 424.0,1080.2 424.5,1077.8 425.0,1075.1 425.5,1072.5 426.0,1070.4 426.5,1069.2 427.0,1068.9 427.5,1069.4 428.0,1070.2 428.5,1071.5 429.0,1073.0 429.5,1074.5 430.0,1076.1 430.5,1077.6 431.0,1078.8 431.5,1079.8 432.0,1080.5 432.5,1080.9 433.0,1081.1 433.5,1080.9 434.0,1080.4 434.5,1079.6 435.0,1078.3 435.5,1076.8 436.0,1074.9 436.5,1072.8 437.0,1070.6 437.5,1068.5 438.0,1066.7 438.5,1065.5 439.0,1064.8 439.5,1064.8 440.0,1065.6 440.5,1067.0 441.0,1068.9 441.5,1071.1 442.0,1073.4 442.5,1075.5 443.0,1077.4 443.5,1078.9 444.0,1080.1 444.5,1080.8 445.0,1081.1 445.5,1081.1 446.0,1080.7 446.5,1079.7 447.0,1078.1 447.5,1076.0 448.0,1073.3 448.5,1070.2 449.0,1066.8 449.5,1063.5 450.0,1060.6 450.5,1058.5 451.0,1057.3 451.5,1057.2 452.0,1058.3 452.5,1060.3 453.0,1063.0 453.5,1066.1 454.0,1069.3 454.5,1072.3 455.0,1075.0 455.5,1077.2 456.0,1078.7 456.5,1079.8 457.0,1080.3 457.5,1080.4 458.0,1080.1 458.5,1079.5 459.0,1078.6 459.5,1077.4 460.0,1076.0 460.5,1074.4 461.0,1072.7 461.5,1071.0 462.0,1069.6 462.5,1068.5 463.0,1067.9 463.5,1067.8 464.0,1068.7 464.5,1070.3 465.0,1072.6 465.5,1075.1 466.0,1077.5 466.5,1079.5 467.0,1081.0 467.5,1082.1 468.0,1082.6 468.5,1082.7 469.0,1082.4 469.5,1081.5 470.0,1080.0 470.5,1077.9 471.0,1075.2 471.5,1072.2 472.0,1069.2 472.5,1066.7 473.0,1065.1 473.5,1064.6 474.0,1065.9 474.5,1069.1 475.0,1073.2 475.5,1077.2 476.0,1080.4 476.5,1082.5 477.0,1083.6 477.5,1083.9 478.0,1083.4 478.5,1082.0 479.0,1079.4 479.5,1075.6 480.0,1070.8 480.5,1066.2 481.0,1062.8 481.5,1061.7 482.0,1062.7 482.5,1065.4 483.0,1069.1 483.5,1072.9 484.0,1076.4 484.5,1079.0 485.0,1080.6 485.5,1081.3 486.0,1081.2 486.5,1080.6 487.0,1079.4 487.5,1077.7 488.0,1075.7 488.5,1073.6 489.0,1071.7 489.5,1070.6 490.0,1070.3 490.5,1070.8 491.0,1072.0 491.5,1073.6 492.0,1075.6 492.5,1077.6 493.0,1079.4 493.5,1081.1 494.0,1082.4 494.5,1083.3 495.0,1083.9 495.5,1084.3 496.0,1084.4 496.5,1084.2 497.0,1083.8 497.5,1083.0 498.0,1081.7 498.5,1079.9 499.0,1077.5 499.5,1074.8 500.0,1071.8 500.5,1068.9 501.0,1066.4 501.5,1064.6 502.0,1063.8 502.5,1064.2 503.0,1066.1 503.5,1069.1 504.0,1072.7 504.5,1076.2 505.0,1079.2 505.5,1081.4 506.0,1082.8 506.5,1083.6 507.0,1083.7 507.5,1083.5 508.0,1082.8 508.5,1081.7 509.0,1080.1 509.5,1078.1 510.0,1075.9 510.5,1073.8 511.0,1072.2 511.5,1071.4 512.0,1071.4 512.5,1071.9 513.0,1072.8 513.5,1074.0 514.0,1075.4 514.5,1076.8 515.0,1078.2 515.5,1079.4 516.0,1080.3 516.5,1081.0 517.0,1081.5 517.5,1081.7 518.0,1081.6 518.5,1081.1 519.0,1080.4 519.5,1079.2 520.0,1077.7 520.5,1075.9 521.0,1073.8 521.5,1071.7 522.0,1069.8 522.5,1068.2 523.0,1067.2 523.5,1066.8 524.0,1067.3 524.5,1068.9 525.0,1071.3 525.5,1074.1 526.0,1076.9 526.5,1079.5 527.0,1081.5 527.5,1082.9 528.0,1083.9 528.5,1084.3 529.0,1084.5 529.5,1084.2 530.0,1083.5 530.5,1082.2 531.0,1080.1 531.5,1077.1 532.0,1073.3 532.5,1069.2 533.0,1065.2 533.5,1061.9 534.0,1059.9 534.5,1059.4 535.0,1060.4 535.5,1062.6 536.0,1065.6 536.5,1069.1 537.0,1072.6 537.5,1075.6 538.0,1078.1 538.5,1079.9 539.0,1081.0 539.5,1081.5 540.0,1081.5 540.5,1080.9 541.0,1079.7 541.5,1077.8 542.0,1075.3 542.5,1072.2 543.0,1068.8 543.5,1065.5 544.0,1062.7 544.5,1060.7 545.0,1060.0 545.5,1060.7 546.0,1062.7 546.5,1065.7 547.0,1069.2 547.5,1072.5 548.0,1075.3 548.5,1077.3 549.0,1078.4 549.5,1078.8 550.0,1078.3 550.5,1076.8 551.0,1074.3 551.5,1070.9 552.0,1066.8 552.5,1062.7 553.0,1059.1 553.5,1056.8 554.0,1056.2 554.5,1057.1 555.0,1059.2 555.5,1062.3 556.0,1065.8 556.5,1069.6 557.0,1073.1 557.5,1076.2 558.0,1078.6 558.5,1080.4 559.0,1081.6 559.5,1082.2 560.0,1082.3 560.5,1082.0 561.0,1081.2 561.5,1080.0 562.0,1078.1 562.5,1075.7 563.0,1072.7 563.5,1069.5 564.0,1066.2 564.5,1063.1 565.0,1060.8 565.5,1059.3 566.0,1059.0 566.5,1060.4 567.0,1063.5 567.5,1067.6 568.0,1071.8 568.5,1075.5 569.0,1078.2 569.5,1080.0 570.0,1080.7 570.5,1080.6 571.0,1079.9 571.5,1078.6 572.0,1076.8 572.5,1074.5 573.0,1072.2 573.5,1070.1 574.0,1068.8 574.5,1068.4 575.0,1069.0 575.5,1070.3 576.0,1072.1 576.5,1074.1 577.0,1076.2 577.5,1077.9 578.0,1079.3 578.5,1080.2 579.0,1080.6 579.5,1080.4 580.0,1079.5 580.5,1077.8 581.0,1075.1 581.5,1071.6 582.0,1067.5 582.5,1063.4 583.0,1059.9 583.5,1057.5 584.0,1056.8 584.5,1057.5 585.0,1059.3 585.5,1061.9 586.0,1065.1 586.5,1068.5 587.0,1071.8 587.5,1074.8 588.0,1077.3 588.5,1079.2 589.0,1080.6 589.5,1081.4 590.0,1081.8 590.5,1081.8 591.0,1081.4 591.5,1080.6 592.0,1079.3 592.5,1077.7 593.0,1075.6 593.5,1073.3 594.0,1070.7 594.5,1068.2 595.0,1065.9 595.5,1064.1 596.0,1063.0 596.5,1062.8 597.0,1063.5 597.5,1065.3 598.0,1067.9 598.5,1070.9 599.0,1073.9 599.5,1076.7 600.0,1079.0 600.5,1080.7 601.0,1081.9 601.5,1082.6 602.0,1082.8 602.5,1082.5 603.0,1081.8 603.5,1080.4 604.0,1078.3 604.5,1075.4 605.0,1072.0 605.5,1068.1 606.0,1064.3 606.5,1061.0 607.0,1058.7 607.5,1057.7 608.0,1058.1 608.5,1059.8 609.0,1062.4 609.5,1065.6 610.0,1069.0 610.5,1072.0 611.0,1074.4 611.5,1076.2 612.0,1077.3 612.5,1077.6 613.0,1077.1 613.5,1075.9 614.0,1073.8 614.5,1071.1 615.0,1067.7 615.5,1064.2 616.0,1060.8 616.5,1058.1 617.0,1056.5 617.5,1056.3 618.0,1057.4 618.5,1059.6 619.0,1062.5 619.5,1065.8 620.0,1069.1 620.5,1072.0 621.0,1074.4 621.5,1076.1 622.0,1077.1 622.5,1077.4 623.0,1077.0 623.5,1076.0 624.0,1074.3 624.5,1072.0 625.0,1069.2 625.5,1066.1 626.0,1063.1 626.5,1060.4 627.0,1058.5 627.5,1057.7 628.0,1057.9 628.5,1059.1 629.0,1061.0 629.5,1063.6 630.0,1066.5 630.5,1069.6 631.0,1072.5 631.5,1075.1 632.0,1077.4 632.5,1079.1 633.0,1080.4 633.5,1081.3 634.0,1081.7 634.5,1081.8 635.0,1081.5 635.5,1080.9 636.0,1080.0 636.5,1078.6 637.0,1076.8 637.5,1074.7 638.0,1072.3 638.5,1069.7 639.0,1067.1 639.5,1064.8 640.0,1062.9 640.5,1061.6 641.0,1061.0 641.5,1062.1 642.0,1066.2 642.5,1071.8 643.0,1077.1 643.5,1081.1 644.0,1083.3 644.5,1084.2 645.0,1084.1 645.5,1083.1 646.0,1080.6 646.5,1076.4 647.0,1070.9 647.5,1065.5 648.0,1062.0 648.5,1061.4 649.0,1062.8 649.5,1065.6 650.0,1069.1 650.5,1072.8 651.0,1076.2 651.5,1078.9 652.0,1080.8 652.5,1081.9 653.0,1082.3 653.5,1082.1 654.0,1081.2 654.5,1079.7 655.0,1077.5 655.5,1074.7 656.0,1071.5 656.5,1068.4 657.0,1065.8 657.5,1064.3 658.0,1064.1 658.5,1065.0 659.0,1066.6 659.5,1068.8 660.0,1071.3 660.5,1073.9 661.0,1076.1 661.5,1078.0 662.0,1079.4 662.5,1080.4 663.0,1080.8 663.5,1080.8 664.0,1080.2 664.5,1079.0 665.0,1077.3 665.5,1074.8 666.0,1071.9 666.5,1068.6 667.0,1065.4 667.5,1062.5 668.0,1060.4 668.5,1059.4 669.0,1059.7 669.5,1061.1 670.0,1063.5 670.5,1066.5 671.0,1069.8 671.5,1072.9 672.0,1075.7 672.5,1078.0 673.0,1079.6 673.5,1080.6 674.0,1081.0 674.5,1081.0 675.0,1080.4 675.5,1079.4 676.0,1077.8 676.5,1075.8 677.0,1073.3 677.5,1070.6 678.0,1067.9 678.5,1065.6 679.0,1063.8 679.5,1063.0 680.0,1063.1 680.5,1064.5 681.0,1066.8 681.5,1069.6 682.0,1072.7 682.5,1075.6 683.0,1078.1 683.5,1080.0 684.0,1081.2 684.5,1082.0 685.0,1082.2 685.5,1081.9 686.0,1081.3 686.5,1080.3 687.0,1078.9 687.5,1077.2 688.0,1075.2 688.5,1073.1 689.0,1071.3 689.5,1069.9 690.0,1069.2 690.5,1069.2 691.0,1069.9 691.5,1071.2 692.0,1072.9 692.5,1074.8 693.0,1076.6 693.5,1078.2 694.0,1079.5 694.5,1080.4 695.0,1080.8 695.5,1080.9 696.0,1080.3 696.5,1079.2 697.0,1077.3 697.5,1074.8 698.0,1071.6 698.5,1068.2 699.0,1064.9 699.5,1062.1 700.0,1060.3 700.5,1059.8 701.0,1061.2 701.5,1064.3 702.0,1068.4 702.5,1072.8 703.0,1076.5 703.5,1079.3 704.0,1081.0 704.5,1081.8 705.0,1081.7 705.5,1080.4 706.0,1078.6 706.5,1077.0" fill="none" stroke="#000" stroke-width="1.2" stroke-linejoin="round" stroke-dasharray="4 1.5 1.2 1.5"/>
</svg>
</body></html>
